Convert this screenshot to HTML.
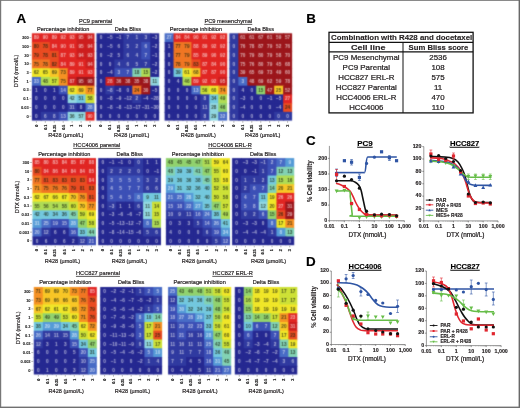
<!DOCTYPE html>
<html><head><meta charset="utf-8"><style>
html,body{margin:0;padding:0;background:#fff;}
svg{display:block;will-change:transform;}
svg text{font-family:"Liberation Sans", sans-serif;}
</style></head><body>
<svg width="520" height="408" viewBox="0 0 520 408">
<defs><filter id="tb" x="-5%" y="-5%" width="110%" height="110%"><feGaussianBlur stdDeviation="0.28"/></filter><filter id="gb" x="0" y="0" width="520" height="408" filterUnits="userSpaceOnUse" color-interpolation-filters="sRGB"><feConvolveMatrix order="3" kernelMatrix="0.062 0.249 0.062 0.249 1 0.249 0.062 0.249 0.062" divisor="2.244" edgeMode="none"/></filter></defs>
<rect width="520" height="408" fill="#fff"/>
<g filter="url(#gb)">
<rect x="31.90" y="33.30" width="9.94" height="9.73" fill="rgb(225,38,35)"/>
<rect x="40.84" y="33.30" width="9.94" height="9.73" fill="rgb(225,38,35)"/>
<rect x="49.79" y="33.30" width="9.94" height="9.73" fill="rgb(225,38,35)"/>
<rect x="58.73" y="33.30" width="9.94" height="9.73" fill="rgb(225,38,35)"/>
<rect x="67.67" y="33.30" width="9.94" height="9.73" fill="rgb(225,38,35)"/>
<rect x="76.61" y="33.30" width="9.94" height="9.73" fill="rgb(205,30,30)"/>
<rect x="85.56" y="33.30" width="8.94" height="9.73" fill="rgb(205,30,30)"/>
<rect x="31.90" y="42.03" width="9.94" height="9.73" fill="rgb(233,75,33)"/>
<rect x="40.84" y="42.03" width="9.94" height="9.73" fill="rgb(233,75,33)"/>
<rect x="49.79" y="42.03" width="9.94" height="9.73" fill="rgb(225,38,35)"/>
<rect x="58.73" y="42.03" width="9.94" height="9.73" fill="rgb(225,38,35)"/>
<rect x="67.67" y="42.03" width="9.94" height="9.73" fill="rgb(225,38,35)"/>
<rect x="76.61" y="42.03" width="9.94" height="9.73" fill="rgb(205,30,30)"/>
<rect x="85.56" y="42.03" width="8.94" height="9.73" fill="rgb(205,30,30)"/>
<rect x="31.90" y="50.76" width="9.94" height="9.73" fill="rgb(233,75,33)"/>
<rect x="40.84" y="50.76" width="9.94" height="9.73" fill="rgb(233,75,33)"/>
<rect x="49.79" y="50.76" width="9.94" height="9.73" fill="rgb(233,75,33)"/>
<rect x="58.73" y="50.76" width="9.94" height="9.73" fill="rgb(225,38,35)"/>
<rect x="67.67" y="50.76" width="9.94" height="9.73" fill="rgb(225,38,35)"/>
<rect x="76.61" y="50.76" width="9.94" height="9.73" fill="rgb(205,30,30)"/>
<rect x="85.56" y="50.76" width="8.94" height="9.73" fill="rgb(205,30,30)"/>
<rect x="31.90" y="59.49" width="9.94" height="9.73" fill="rgb(240,118,35)"/>
<rect x="40.84" y="59.49" width="9.94" height="9.73" fill="rgb(240,118,35)"/>
<rect x="49.79" y="59.49" width="9.94" height="9.73" fill="rgb(233,75,33)"/>
<rect x="58.73" y="59.49" width="9.94" height="9.73" fill="rgb(225,38,35)"/>
<rect x="67.67" y="59.49" width="9.94" height="9.73" fill="rgb(225,38,35)"/>
<rect x="76.61" y="59.49" width="9.94" height="9.73" fill="rgb(225,38,35)"/>
<rect x="85.56" y="59.49" width="8.94" height="9.73" fill="rgb(205,30,30)"/>
<rect x="31.90" y="68.22" width="9.94" height="9.73" fill="rgb(240,230,40)"/>
<rect x="40.84" y="68.22" width="9.94" height="9.73" fill="rgb(240,230,40)"/>
<rect x="49.79" y="68.22" width="9.94" height="9.73" fill="rgb(248,198,38)"/>
<rect x="58.73" y="68.22" width="9.94" height="9.73" fill="rgb(245,145,35)"/>
<rect x="67.67" y="68.22" width="9.94" height="9.73" fill="rgb(225,38,35)"/>
<rect x="76.61" y="68.22" width="9.94" height="9.73" fill="rgb(225,38,35)"/>
<rect x="85.56" y="68.22" width="8.94" height="9.73" fill="rgb(225,38,35)"/>
<rect x="31.90" y="76.95" width="9.94" height="9.73" fill="rgb(72,108,198)"/>
<rect x="40.84" y="76.95" width="9.94" height="9.73" fill="rgb(175,220,85)"/>
<rect x="49.79" y="76.95" width="9.94" height="9.73" fill="rgb(205,225,55)"/>
<rect x="58.73" y="76.95" width="9.94" height="9.73" fill="rgb(245,145,35)"/>
<rect x="67.67" y="76.95" width="9.94" height="9.73" fill="rgb(205,30,30)"/>
<rect x="76.61" y="76.95" width="9.94" height="9.73" fill="rgb(156,22,27)"/>
<rect x="85.56" y="76.95" width="8.94" height="9.73" fill="rgb(156,22,27)"/>
<rect x="31.90" y="85.68" width="9.94" height="9.73" fill="rgb(37,40,145)"/>
<rect x="40.84" y="85.68" width="9.94" height="9.73" fill="rgb(37,40,145)"/>
<rect x="49.79" y="85.68" width="9.94" height="9.73" fill="rgb(37,40,145)"/>
<rect x="58.73" y="85.68" width="9.94" height="9.73" fill="rgb(60,80,182)"/>
<rect x="67.67" y="85.68" width="9.94" height="9.73" fill="rgb(240,230,40)"/>
<rect x="76.61" y="85.68" width="9.94" height="9.73" fill="rgb(248,198,38)"/>
<rect x="85.56" y="85.68" width="8.94" height="9.73" fill="rgb(245,145,35)"/>
<rect x="31.90" y="94.41" width="9.94" height="9.73" fill="rgb(37,40,145)"/>
<rect x="40.84" y="94.41" width="9.94" height="9.73" fill="rgb(37,40,145)"/>
<rect x="49.79" y="94.41" width="9.94" height="9.73" fill="rgb(37,40,145)"/>
<rect x="58.73" y="94.41" width="9.94" height="9.73" fill="rgb(37,40,145)"/>
<rect x="67.67" y="94.41" width="9.94" height="9.73" fill="rgb(145,215,225)"/>
<rect x="76.61" y="94.41" width="9.94" height="9.73" fill="rgb(115,200,222)"/>
<rect x="85.56" y="94.41" width="8.94" height="9.73" fill="rgb(205,225,55)"/>
<rect x="31.90" y="103.14" width="9.94" height="9.73" fill="rgb(37,40,145)"/>
<rect x="40.84" y="103.14" width="9.94" height="9.73" fill="rgb(37,40,145)"/>
<rect x="49.79" y="103.14" width="9.94" height="9.73" fill="rgb(37,40,145)"/>
<rect x="58.73" y="103.14" width="9.94" height="9.73" fill="rgb(37,40,145)"/>
<rect x="67.67" y="103.14" width="9.94" height="9.73" fill="rgb(48,58,160)"/>
<rect x="76.61" y="103.14" width="9.94" height="9.73" fill="rgb(37,40,145)"/>
<rect x="85.56" y="103.14" width="8.94" height="9.73" fill="rgb(72,108,198)"/>
<rect x="31.90" y="111.87" width="9.94" height="8.73" fill="rgb(37,40,145)"/>
<rect x="40.84" y="111.87" width="9.94" height="8.73" fill="rgb(48,58,160)"/>
<rect x="49.79" y="111.87" width="9.94" height="8.73" fill="rgb(48,58,160)"/>
<rect x="58.73" y="111.87" width="9.94" height="8.73" fill="rgb(60,80,182)"/>
<rect x="67.67" y="111.87" width="9.94" height="8.73" fill="rgb(145,215,225)"/>
<rect x="76.61" y="111.87" width="9.94" height="8.73" fill="rgb(145,215,225)"/>
<rect x="85.56" y="111.87" width="8.94" height="8.73" fill="rgb(225,38,35)"/>
<g font-weight="bold">
<text x="36.37" y="39.37" font-size="4.7" text-anchor="middle" fill="rgba(255,255,255,0.62)">89</text>
<text x="45.31" y="39.37" font-size="4.7" text-anchor="middle" fill="rgba(255,255,255,0.62)">90</text>
<text x="54.26" y="39.37" font-size="4.7" text-anchor="middle" fill="rgba(255,255,255,0.62)">89</text>
<text x="63.20" y="39.37" font-size="4.7" text-anchor="middle" fill="rgba(255,255,255,0.62)">92</text>
<text x="72.14" y="39.37" font-size="4.7" text-anchor="middle" fill="rgba(255,255,255,0.62)">93</text>
<text x="81.09" y="39.37" font-size="4.7" text-anchor="middle" fill="rgba(255,255,255,0.62)">95</text>
<text x="90.03" y="39.37" font-size="4.7" text-anchor="middle" fill="rgba(255,255,255,0.62)">94</text>
<text x="36.37" y="48.09" font-size="4.7" text-anchor="middle" fill="rgba(25,35,15,0.78)">80</text>
<text x="45.31" y="48.09" font-size="4.7" text-anchor="middle" fill="rgba(25,35,15,0.78)">78</text>
<text x="54.26" y="48.09" font-size="4.7" text-anchor="middle" fill="rgba(255,255,255,0.62)">84</text>
<text x="63.20" y="48.09" font-size="4.7" text-anchor="middle" fill="rgba(255,255,255,0.62)">90</text>
<text x="72.14" y="48.09" font-size="4.7" text-anchor="middle" fill="rgba(255,255,255,0.62)">91</text>
<text x="81.09" y="48.09" font-size="4.7" text-anchor="middle" fill="rgba(255,255,255,0.62)">95</text>
<text x="90.03" y="48.09" font-size="4.7" text-anchor="middle" fill="rgba(255,255,255,0.62)">94</text>
<text x="36.37" y="56.83" font-size="4.7" text-anchor="middle" fill="rgba(25,35,15,0.78)">79</text>
<text x="45.31" y="56.83" font-size="4.7" text-anchor="middle" fill="rgba(25,35,15,0.78)">78</text>
<text x="54.26" y="56.83" font-size="4.7" text-anchor="middle" fill="rgba(25,35,15,0.78)">81</text>
<text x="63.20" y="56.83" font-size="4.7" text-anchor="middle" fill="rgba(255,255,255,0.62)">87</text>
<text x="72.14" y="56.83" font-size="4.7" text-anchor="middle" fill="rgba(255,255,255,0.62)">93</text>
<text x="81.09" y="56.83" font-size="4.7" text-anchor="middle" fill="rgba(255,255,255,0.62)">94</text>
<text x="90.03" y="56.83" font-size="4.7" text-anchor="middle" fill="rgba(255,255,255,0.62)">93</text>
<text x="36.37" y="65.55" font-size="4.7" text-anchor="middle" fill="rgba(25,35,15,0.78)">75</text>
<text x="45.31" y="65.55" font-size="4.7" text-anchor="middle" fill="rgba(25,35,15,0.78)">78</text>
<text x="54.26" y="65.55" font-size="4.7" text-anchor="middle" fill="rgba(25,35,15,0.78)">82</text>
<text x="63.20" y="65.55" font-size="4.7" text-anchor="middle" fill="rgba(255,255,255,0.62)">84</text>
<text x="72.14" y="65.55" font-size="4.7" text-anchor="middle" fill="rgba(255,255,255,0.62)">89</text>
<text x="81.09" y="65.55" font-size="4.7" text-anchor="middle" fill="rgba(255,255,255,0.62)">91</text>
<text x="90.03" y="65.55" font-size="4.7" text-anchor="middle" fill="rgba(255,255,255,0.62)">94</text>
<text x="36.37" y="74.29" font-size="4.7" text-anchor="middle" fill="rgba(25,35,15,0.78)">62</text>
<text x="45.31" y="74.29" font-size="4.7" text-anchor="middle" fill="rgba(25,35,15,0.78)">65</text>
<text x="54.26" y="74.29" font-size="4.7" text-anchor="middle" fill="rgba(25,35,15,0.78)">69</text>
<text x="63.20" y="74.29" font-size="4.7" text-anchor="middle" fill="rgba(25,35,15,0.78)">73</text>
<text x="72.14" y="74.29" font-size="4.7" text-anchor="middle" fill="rgba(255,255,255,0.62)">89</text>
<text x="81.09" y="74.29" font-size="4.7" text-anchor="middle" fill="rgba(255,255,255,0.62)">91</text>
<text x="90.03" y="74.29" font-size="4.7" text-anchor="middle" fill="rgba(255,255,255,0.62)">93</text>
<text x="36.37" y="83.02" font-size="4.7" text-anchor="middle" fill="rgba(255,255,255,0.62)">33</text>
<text x="45.31" y="83.02" font-size="4.7" text-anchor="middle" fill="rgba(25,35,15,0.78)">48</text>
<text x="54.26" y="83.02" font-size="4.7" text-anchor="middle" fill="rgba(25,35,15,0.78)">57</text>
<text x="63.20" y="83.02" font-size="4.7" text-anchor="middle" fill="rgba(25,35,15,0.78)">75</text>
<text x="72.14" y="83.02" font-size="4.7" text-anchor="middle" fill="rgba(255,255,255,0.62)">87</text>
<text x="81.09" y="83.02" font-size="4.7" text-anchor="middle" fill="rgba(255,255,255,0.62)">95</text>
<text x="90.03" y="83.02" font-size="4.7" text-anchor="middle" fill="rgba(255,255,255,0.62)">98</text>
<text x="36.37" y="91.75" font-size="4.7" text-anchor="middle" fill="rgba(255,255,255,0.62)">1</text>
<text x="45.31" y="91.75" font-size="4.7" text-anchor="middle" fill="rgba(255,255,255,0.62)">0</text>
<text x="54.26" y="91.75" font-size="4.7" text-anchor="middle" fill="rgba(255,255,255,0.62)">1</text>
<text x="63.20" y="91.75" font-size="4.7" text-anchor="middle" fill="rgba(255,255,255,0.62)">14</text>
<text x="72.14" y="91.75" font-size="4.7" text-anchor="middle" fill="rgba(25,35,15,0.78)">62</text>
<text x="81.09" y="91.75" font-size="4.7" text-anchor="middle" fill="rgba(25,35,15,0.78)">69</text>
<text x="90.03" y="91.75" font-size="4.7" text-anchor="middle" fill="rgba(25,35,15,0.78)">77</text>
<text x="36.37" y="100.48" font-size="4.7" text-anchor="middle" fill="rgba(255,255,255,0.62)">0</text>
<text x="45.31" y="100.48" font-size="4.7" text-anchor="middle" fill="rgba(255,255,255,0.62)">0</text>
<text x="54.26" y="100.48" font-size="4.7" text-anchor="middle" fill="rgba(255,255,255,0.62)">0</text>
<text x="63.20" y="100.48" font-size="4.7" text-anchor="middle" fill="rgba(255,255,255,0.62)">0</text>
<text x="72.14" y="100.48" font-size="4.7" text-anchor="middle" fill="rgba(25,35,15,0.78)">42</text>
<text x="81.09" y="100.48" font-size="4.7" text-anchor="middle" fill="rgba(25,35,15,0.78)">51</text>
<text x="90.03" y="100.48" font-size="4.7" text-anchor="middle" fill="rgba(25,35,15,0.78)">58</text>
<text x="36.37" y="109.20" font-size="4.7" text-anchor="middle" fill="rgba(255,255,255,0.62)">0</text>
<text x="45.31" y="109.20" font-size="4.7" text-anchor="middle" fill="rgba(255,255,255,0.62)">0</text>
<text x="54.26" y="109.20" font-size="4.7" text-anchor="middle" fill="rgba(255,255,255,0.62)">0</text>
<text x="63.20" y="109.20" font-size="4.7" text-anchor="middle" fill="rgba(255,255,255,0.62)">0</text>
<text x="72.14" y="109.20" font-size="4.7" text-anchor="middle" fill="rgba(255,255,255,0.62)">31</text>
<text x="81.09" y="109.20" font-size="4.7" text-anchor="middle" fill="rgba(255,255,255,0.62)">8</text>
<text x="90.03" y="109.20" font-size="4.7" text-anchor="middle" fill="rgba(255,255,255,0.62)">28</text>
<text x="36.37" y="117.94" font-size="4.7" text-anchor="middle" fill="rgba(255,255,255,0.62)">0</text>
<text x="45.31" y="117.94" font-size="4.7" text-anchor="middle" fill="rgba(255,255,255,0.62)">6</text>
<text x="54.26" y="117.94" font-size="4.7" text-anchor="middle" fill="rgba(255,255,255,0.62)">8</text>
<text x="63.20" y="117.94" font-size="4.7" text-anchor="middle" fill="rgba(255,255,255,0.62)">13</text>
<text x="72.14" y="117.94" font-size="4.7" text-anchor="middle" fill="rgba(25,35,15,0.78)">36</text>
<text x="81.09" y="117.94" font-size="4.7" text-anchor="middle" fill="rgba(25,35,15,0.78)">57</text>
<text x="90.03" y="117.94" font-size="4.7" text-anchor="middle" fill="rgba(255,255,255,0.62)">90</text>
</g>
</g>
<text x="63.20" y="31.00" font-size="5.60" text-anchor="middle" font-weight="normal" fill="#231f20" stroke="#231f20" stroke-width="0.18" >Percentage inhibition</text>
<line x1="36.37" y1="121.10" x2="36.37" y2="122.80" stroke="#555" stroke-width="0.4"/>
<text transform="translate(37.67,124.70) rotate(-90)" font-size="3.7" font-weight="bold" text-anchor="end" fill="#1a1a1a" stroke="#1a1a1a" stroke-width="0.15">0</text>
<line x1="45.31" y1="121.10" x2="45.31" y2="122.80" stroke="#555" stroke-width="0.4"/>
<text transform="translate(46.61,124.70) rotate(-90)" font-size="3.7" font-weight="bold" text-anchor="end" fill="#1a1a1a" stroke="#1a1a1a" stroke-width="0.15">0.1</text>
<line x1="54.26" y1="121.10" x2="54.26" y2="122.80" stroke="#555" stroke-width="0.4"/>
<text transform="translate(55.56,124.70) rotate(-90)" font-size="3.7" font-weight="bold" text-anchor="end" fill="#1a1a1a" stroke="#1a1a1a" stroke-width="0.15">0.25</text>
<line x1="63.20" y1="121.10" x2="63.20" y2="122.80" stroke="#555" stroke-width="0.4"/>
<text transform="translate(64.50,124.70) rotate(-90)" font-size="3.7" font-weight="bold" text-anchor="end" fill="#1a1a1a" stroke="#1a1a1a" stroke-width="0.15">0.5</text>
<line x1="72.14" y1="121.10" x2="72.14" y2="122.80" stroke="#555" stroke-width="0.4"/>
<text transform="translate(73.44,124.70) rotate(-90)" font-size="3.7" font-weight="bold" text-anchor="end" fill="#1a1a1a" stroke="#1a1a1a" stroke-width="0.15">1</text>
<line x1="81.09" y1="121.10" x2="81.09" y2="122.80" stroke="#555" stroke-width="0.4"/>
<text transform="translate(82.39,124.70) rotate(-90)" font-size="3.7" font-weight="bold" text-anchor="end" fill="#1a1a1a" stroke="#1a1a1a" stroke-width="0.15">2</text>
<line x1="90.03" y1="121.10" x2="90.03" y2="122.80" stroke="#555" stroke-width="0.4"/>
<text transform="translate(91.33,124.70) rotate(-90)" font-size="3.7" font-weight="bold" text-anchor="end" fill="#1a1a1a" stroke="#1a1a1a" stroke-width="0.15">3</text>
<text x="65.85" y="137.30" font-size="5.55" text-anchor="middle" font-weight="normal" fill="#231f20" stroke="#231f20" stroke-width="0.18" >R428 (&#181;mol/L)</text>
<g filter="url(#gb)">
<rect x="96.50" y="33.30" width="9.96" height="9.73" fill="rgb(37,40,145)"/>
<rect x="105.46" y="33.30" width="9.96" height="9.73" fill="rgb(37,40,145)"/>
<rect x="114.41" y="33.30" width="9.96" height="9.73" fill="rgb(37,40,145)"/>
<rect x="123.37" y="33.30" width="9.96" height="9.73" fill="rgb(48,58,160)"/>
<rect x="132.33" y="33.30" width="9.96" height="9.73" fill="rgb(48,58,160)"/>
<rect x="141.29" y="33.30" width="9.96" height="9.73" fill="rgb(48,58,160)"/>
<rect x="150.24" y="33.30" width="8.96" height="9.73" fill="rgb(37,40,145)"/>
<rect x="96.50" y="42.03" width="9.96" height="9.73" fill="rgb(37,40,145)"/>
<rect x="105.46" y="42.03" width="9.96" height="9.73" fill="rgb(37,40,145)"/>
<rect x="114.41" y="42.03" width="9.96" height="9.73" fill="rgb(37,40,145)"/>
<rect x="123.37" y="42.03" width="9.96" height="9.73" fill="rgb(48,58,160)"/>
<rect x="132.33" y="42.03" width="9.96" height="9.73" fill="rgb(48,58,160)"/>
<rect x="141.29" y="42.03" width="9.96" height="9.73" fill="rgb(60,80,182)"/>
<rect x="150.24" y="42.03" width="8.96" height="9.73" fill="rgb(37,40,145)"/>
<rect x="96.50" y="50.76" width="9.96" height="9.73" fill="rgb(37,40,145)"/>
<rect x="105.46" y="50.76" width="9.96" height="9.73" fill="rgb(37,40,145)"/>
<rect x="114.41" y="50.76" width="9.96" height="9.73" fill="rgb(37,40,145)"/>
<rect x="123.37" y="50.76" width="9.96" height="9.73" fill="rgb(48,58,160)"/>
<rect x="132.33" y="50.76" width="9.96" height="9.73" fill="rgb(48,58,160)"/>
<rect x="141.29" y="50.76" width="9.96" height="9.73" fill="rgb(60,80,182)"/>
<rect x="150.24" y="50.76" width="8.96" height="9.73" fill="rgb(37,40,145)"/>
<rect x="96.50" y="59.49" width="9.96" height="9.73" fill="rgb(37,40,145)"/>
<rect x="105.46" y="59.49" width="9.96" height="9.73" fill="rgb(37,40,145)"/>
<rect x="114.41" y="59.49" width="9.96" height="9.73" fill="rgb(48,58,160)"/>
<rect x="123.37" y="59.49" width="9.96" height="9.73" fill="rgb(48,58,160)"/>
<rect x="132.33" y="59.49" width="9.96" height="9.73" fill="rgb(48,58,160)"/>
<rect x="141.29" y="59.49" width="9.96" height="9.73" fill="rgb(48,58,160)"/>
<rect x="150.24" y="59.49" width="8.96" height="9.73" fill="rgb(37,40,145)"/>
<rect x="96.50" y="68.22" width="9.96" height="9.73" fill="rgb(37,40,145)"/>
<rect x="105.46" y="68.22" width="9.96" height="9.73" fill="rgb(37,40,145)"/>
<rect x="114.41" y="68.22" width="9.96" height="9.73" fill="rgb(60,80,182)"/>
<rect x="123.37" y="68.22" width="9.96" height="9.73" fill="rgb(60,80,182)"/>
<rect x="132.33" y="68.22" width="9.96" height="9.73" fill="rgb(130,210,180)"/>
<rect x="141.29" y="68.22" width="9.96" height="9.73" fill="rgb(175,220,85)"/>
<rect x="150.24" y="68.22" width="8.96" height="9.73" fill="rgb(37,40,145)"/>
<rect x="96.50" y="76.95" width="9.96" height="9.73" fill="rgb(37,40,145)"/>
<rect x="105.46" y="76.95" width="9.96" height="9.73" fill="rgb(205,30,30)"/>
<rect x="114.41" y="76.95" width="9.96" height="9.73" fill="rgb(156,22,27)"/>
<rect x="123.37" y="76.95" width="9.96" height="9.73" fill="rgb(156,22,27)"/>
<rect x="132.33" y="76.95" width="9.96" height="9.73" fill="rgb(156,22,27)"/>
<rect x="141.29" y="76.95" width="9.96" height="9.73" fill="rgb(156,22,27)"/>
<rect x="150.24" y="76.95" width="8.96" height="9.73" fill="rgb(145,215,225)"/>
<rect x="96.50" y="85.68" width="9.96" height="9.73" fill="rgb(37,40,145)"/>
<rect x="105.46" y="85.68" width="9.96" height="9.73" fill="rgb(48,58,160)"/>
<rect x="114.41" y="85.68" width="9.96" height="9.73" fill="rgb(37,40,145)"/>
<rect x="123.37" y="85.68" width="9.96" height="9.73" fill="rgb(37,40,145)"/>
<rect x="132.33" y="85.68" width="9.96" height="9.73" fill="rgb(240,118,35)"/>
<rect x="141.29" y="85.68" width="9.96" height="9.73" fill="rgb(156,22,27)"/>
<rect x="150.24" y="85.68" width="8.96" height="9.73" fill="rgb(37,40,145)"/>
<rect x="96.50" y="94.41" width="9.96" height="9.73" fill="rgb(37,40,145)"/>
<rect x="105.46" y="94.41" width="9.96" height="9.73" fill="rgb(37,40,145)"/>
<rect x="114.41" y="94.41" width="9.96" height="9.73" fill="rgb(37,40,145)"/>
<rect x="123.37" y="94.41" width="9.96" height="9.73" fill="rgb(37,40,145)"/>
<rect x="132.33" y="94.41" width="9.96" height="9.73" fill="rgb(48,58,160)"/>
<rect x="141.29" y="94.41" width="9.96" height="9.73" fill="rgb(37,40,145)"/>
<rect x="150.24" y="94.41" width="8.96" height="9.73" fill="rgb(37,40,145)"/>
<rect x="96.50" y="103.14" width="9.96" height="9.73" fill="rgb(37,40,145)"/>
<rect x="105.46" y="103.14" width="9.96" height="9.73" fill="rgb(37,40,145)"/>
<rect x="114.41" y="103.14" width="9.96" height="9.73" fill="rgb(37,40,145)"/>
<rect x="123.37" y="103.14" width="9.96" height="9.73" fill="rgb(37,40,145)"/>
<rect x="132.33" y="103.14" width="9.96" height="9.73" fill="rgb(37,40,145)"/>
<rect x="141.29" y="103.14" width="9.96" height="9.73" fill="rgb(37,40,145)"/>
<rect x="150.24" y="103.14" width="8.96" height="9.73" fill="rgb(37,40,145)"/>
<rect x="96.50" y="111.87" width="9.96" height="8.73" fill="rgb(37,40,145)"/>
<rect x="105.46" y="111.87" width="9.96" height="8.73" fill="rgb(37,40,145)"/>
<rect x="114.41" y="111.87" width="9.96" height="8.73" fill="rgb(37,40,145)"/>
<rect x="123.37" y="111.87" width="9.96" height="8.73" fill="rgb(37,40,145)"/>
<rect x="132.33" y="111.87" width="9.96" height="8.73" fill="rgb(37,40,145)"/>
<rect x="141.29" y="111.87" width="9.96" height="8.73" fill="rgb(37,40,145)"/>
<rect x="150.24" y="111.87" width="8.96" height="8.73" fill="rgb(37,40,145)"/>
<g font-weight="bold">
<text x="100.98" y="39.37" font-size="4.7" text-anchor="middle" fill="rgba(255,255,255,0.62)">0</text>
<text x="109.94" y="39.37" font-size="4.7" text-anchor="middle" fill="rgba(255,255,255,0.62)">&#8211;5</text>
<text x="118.89" y="39.37" font-size="4.7" text-anchor="middle" fill="rgba(255,255,255,0.62)">&#8211;1</text>
<text x="127.85" y="39.37" font-size="4.7" text-anchor="middle" fill="rgba(255,255,255,0.62)">7</text>
<text x="136.81" y="39.37" font-size="4.7" text-anchor="middle" fill="rgba(255,255,255,0.62)">1</text>
<text x="145.76" y="39.37" font-size="4.7" text-anchor="middle" fill="rgba(255,255,255,0.62)">3</text>
<text x="154.72" y="39.37" font-size="4.7" text-anchor="middle" fill="rgba(255,255,255,0.62)">&#8211;3</text>
<text x="100.98" y="48.09" font-size="4.7" text-anchor="middle" fill="rgba(255,255,255,0.62)">0</text>
<text x="109.94" y="48.09" font-size="4.7" text-anchor="middle" fill="rgba(255,255,255,0.62)">&#8211;5</text>
<text x="118.89" y="48.09" font-size="4.7" text-anchor="middle" fill="rgba(255,255,255,0.62)">6</text>
<text x="127.85" y="48.09" font-size="4.7" text-anchor="middle" fill="rgba(255,255,255,0.62)">5</text>
<text x="136.81" y="48.09" font-size="4.7" text-anchor="middle" fill="rgba(255,255,255,0.62)">2</text>
<text x="145.76" y="48.09" font-size="4.7" text-anchor="middle" fill="rgba(255,255,255,0.62)">6</text>
<text x="154.72" y="48.09" font-size="4.7" text-anchor="middle" fill="rgba(255,255,255,0.62)">&#8211;2</text>
<text x="100.98" y="56.83" font-size="4.7" text-anchor="middle" fill="rgba(255,255,255,0.62)">0</text>
<text x="109.94" y="56.83" font-size="4.7" text-anchor="middle" fill="rgba(255,255,255,0.62)">&#8211;2</text>
<text x="118.89" y="56.83" font-size="4.7" text-anchor="middle" fill="rgba(255,255,255,0.62)">5</text>
<text x="127.85" y="56.83" font-size="4.7" text-anchor="middle" fill="rgba(255,255,255,0.62)">6</text>
<text x="136.81" y="56.83" font-size="4.7" text-anchor="middle" fill="rgba(255,255,255,0.62)">4</text>
<text x="145.76" y="56.83" font-size="4.7" text-anchor="middle" fill="rgba(255,255,255,0.62)">7</text>
<text x="154.72" y="56.83" font-size="4.7" text-anchor="middle" fill="rgba(255,255,255,0.62)">&#8211;1</text>
<text x="100.98" y="65.55" font-size="4.7" text-anchor="middle" fill="rgba(255,255,255,0.62)">0</text>
<text x="109.94" y="65.55" font-size="4.7" text-anchor="middle" fill="rgba(255,255,255,0.62)">0</text>
<text x="118.89" y="65.55" font-size="4.7" text-anchor="middle" fill="rgba(255,255,255,0.62)">4</text>
<text x="127.85" y="65.55" font-size="4.7" text-anchor="middle" fill="rgba(255,255,255,0.62)">6</text>
<text x="136.81" y="65.55" font-size="4.7" text-anchor="middle" fill="rgba(255,255,255,0.62)">5</text>
<text x="145.76" y="65.55" font-size="4.7" text-anchor="middle" fill="rgba(255,255,255,0.62)">7</text>
<text x="154.72" y="65.55" font-size="4.7" text-anchor="middle" fill="rgba(255,255,255,0.62)">&#8211;2</text>
<text x="100.98" y="74.29" font-size="4.7" text-anchor="middle" fill="rgba(255,255,255,0.62)">0</text>
<text x="109.94" y="74.29" font-size="4.7" text-anchor="middle" fill="rgba(255,255,255,0.62)">&#8211;4</text>
<text x="118.89" y="74.29" font-size="4.7" text-anchor="middle" fill="rgba(255,255,255,0.62)">3</text>
<text x="127.85" y="74.29" font-size="4.7" text-anchor="middle" fill="rgba(255,255,255,0.62)">7</text>
<text x="136.81" y="74.29" font-size="4.7" text-anchor="middle" fill="rgba(25,35,15,0.78)">18</text>
<text x="145.76" y="74.29" font-size="4.7" text-anchor="middle" fill="rgba(25,35,15,0.78)">15</text>
<text x="154.72" y="74.29" font-size="4.7" text-anchor="middle" fill="rgba(255,255,255,0.62)">&#8211;2</text>
<text x="100.98" y="83.02" font-size="4.7" text-anchor="middle" fill="rgba(255,255,255,0.62)">0</text>
<text x="109.94" y="83.02" font-size="4.7" text-anchor="middle" fill="rgba(255,255,255,0.62)">28</text>
<text x="118.89" y="83.02" font-size="4.7" text-anchor="middle" fill="rgba(255,255,255,0.62)">36</text>
<text x="127.85" y="83.02" font-size="4.7" text-anchor="middle" fill="rgba(255,255,255,0.62)">38</text>
<text x="136.81" y="83.02" font-size="4.7" text-anchor="middle" fill="rgba(255,255,255,0.62)">35</text>
<text x="145.76" y="83.02" font-size="4.7" text-anchor="middle" fill="rgba(255,255,255,0.62)">38</text>
<text x="154.72" y="83.02" font-size="4.7" text-anchor="middle" fill="rgba(25,35,15,0.78)">11</text>
<text x="100.98" y="91.75" font-size="4.7" text-anchor="middle" fill="rgba(255,255,255,0.62)">0</text>
<text x="109.94" y="91.75" font-size="4.7" text-anchor="middle" fill="rgba(255,255,255,0.62)">&#8211;8</text>
<text x="118.89" y="91.75" font-size="4.7" text-anchor="middle" fill="rgba(255,255,255,0.62)">&#8211;8</text>
<text x="127.85" y="91.75" font-size="4.7" text-anchor="middle" fill="rgba(255,255,255,0.62)">0</text>
<text x="136.81" y="91.75" font-size="4.7" text-anchor="middle" fill="rgba(25,35,15,0.78)">24</text>
<text x="145.76" y="91.75" font-size="4.7" text-anchor="middle" fill="rgba(255,255,255,0.62)">30</text>
<text x="154.72" y="91.75" font-size="4.7" text-anchor="middle" fill="rgba(255,255,255,0.62)">&#8211;5</text>
<text x="100.98" y="100.48" font-size="4.7" text-anchor="middle" fill="rgba(255,255,255,0.62)">0</text>
<text x="109.94" y="100.48" font-size="4.7" text-anchor="middle" fill="rgba(255,255,255,0.62)">&#8211;8</text>
<text x="118.89" y="100.48" font-size="4.7" text-anchor="middle" fill="rgba(255,255,255,0.62)">&#8211;9</text>
<text x="127.85" y="100.48" font-size="4.7" text-anchor="middle" fill="rgba(255,255,255,0.62)">&#8211;12</text>
<text x="136.81" y="100.48" font-size="4.7" text-anchor="middle" fill="rgba(255,255,255,0.62)">2</text>
<text x="145.76" y="100.48" font-size="4.7" text-anchor="middle" fill="rgba(255,255,255,0.62)">&#8211;4</text>
<text x="154.72" y="100.48" font-size="4.7" text-anchor="middle" fill="rgba(255,255,255,0.62)">&#8211;28</text>
<text x="100.98" y="109.20" font-size="4.7" text-anchor="middle" fill="rgba(255,255,255,0.62)">0</text>
<text x="109.94" y="109.20" font-size="4.7" text-anchor="middle" fill="rgba(255,255,255,0.62)">&#8211;8</text>
<text x="118.89" y="109.20" font-size="4.7" text-anchor="middle" fill="rgba(255,255,255,0.62)">&#8211;8</text>
<text x="127.85" y="109.20" font-size="4.7" text-anchor="middle" fill="rgba(255,255,255,0.62)">&#8211;13</text>
<text x="136.81" y="109.20" font-size="4.7" text-anchor="middle" fill="rgba(255,255,255,0.62)">&#8211;17</text>
<text x="145.76" y="109.20" font-size="4.7" text-anchor="middle" fill="rgba(255,255,255,0.62)">&#8211;31</text>
<text x="154.72" y="109.20" font-size="4.7" text-anchor="middle" fill="rgba(255,255,255,0.62)">&#8211;30</text>
<text x="100.98" y="117.94" font-size="4.7" text-anchor="middle" fill="rgba(255,255,255,0.62)">0</text>
<text x="109.94" y="117.94" font-size="4.7" text-anchor="middle" fill="rgba(255,255,255,0.62)">0</text>
<text x="118.89" y="117.94" font-size="4.7" text-anchor="middle" fill="rgba(255,255,255,0.62)">0</text>
<text x="127.85" y="117.94" font-size="4.7" text-anchor="middle" fill="rgba(255,255,255,0.62)">0</text>
<text x="136.81" y="117.94" font-size="4.7" text-anchor="middle" fill="rgba(255,255,255,0.62)">0</text>
<text x="145.76" y="117.94" font-size="4.7" text-anchor="middle" fill="rgba(255,255,255,0.62)">0</text>
<text x="154.72" y="117.94" font-size="4.7" text-anchor="middle" fill="rgba(255,255,255,0.62)">0</text>
</g>
</g>
<text x="127.85" y="31.00" font-size="5.60" text-anchor="middle" font-weight="normal" fill="#231f20" stroke="#231f20" stroke-width="0.18" >Delta Bliss</text>
<line x1="100.98" y1="121.10" x2="100.98" y2="122.80" stroke="#555" stroke-width="0.4"/>
<text transform="translate(102.28,124.70) rotate(-90)" font-size="3.7" font-weight="bold" text-anchor="end" fill="#1a1a1a" stroke="#1a1a1a" stroke-width="0.15">0</text>
<line x1="109.94" y1="121.10" x2="109.94" y2="122.80" stroke="#555" stroke-width="0.4"/>
<text transform="translate(111.24,124.70) rotate(-90)" font-size="3.7" font-weight="bold" text-anchor="end" fill="#1a1a1a" stroke="#1a1a1a" stroke-width="0.15">0.1</text>
<line x1="118.89" y1="121.10" x2="118.89" y2="122.80" stroke="#555" stroke-width="0.4"/>
<text transform="translate(120.19,124.70) rotate(-90)" font-size="3.7" font-weight="bold" text-anchor="end" fill="#1a1a1a" stroke="#1a1a1a" stroke-width="0.15">0.25</text>
<line x1="127.85" y1="121.10" x2="127.85" y2="122.80" stroke="#555" stroke-width="0.4"/>
<text transform="translate(129.15,124.70) rotate(-90)" font-size="3.7" font-weight="bold" text-anchor="end" fill="#1a1a1a" stroke="#1a1a1a" stroke-width="0.15">0.5</text>
<line x1="136.81" y1="121.10" x2="136.81" y2="122.80" stroke="#555" stroke-width="0.4"/>
<text transform="translate(138.11,124.70) rotate(-90)" font-size="3.7" font-weight="bold" text-anchor="end" fill="#1a1a1a" stroke="#1a1a1a" stroke-width="0.15">1</text>
<line x1="145.76" y1="121.10" x2="145.76" y2="122.80" stroke="#555" stroke-width="0.4"/>
<text transform="translate(147.06,124.70) rotate(-90)" font-size="3.7" font-weight="bold" text-anchor="end" fill="#1a1a1a" stroke="#1a1a1a" stroke-width="0.15">2</text>
<line x1="154.72" y1="121.10" x2="154.72" y2="122.80" stroke="#555" stroke-width="0.4"/>
<text transform="translate(156.02,124.70) rotate(-90)" font-size="3.7" font-weight="bold" text-anchor="end" fill="#1a1a1a" stroke="#1a1a1a" stroke-width="0.15">3</text>
<text x="131.70" y="137.30" font-size="5.55" text-anchor="middle" font-weight="normal" fill="#231f20" stroke="#231f20" stroke-width="0.18" >R428 (&#181;mol/L)</text>
<g filter="url(#gb)">
<rect x="164.60" y="33.30" width="9.94" height="9.73" fill="rgb(72,108,198)"/>
<rect x="173.54" y="33.30" width="9.94" height="9.73" fill="rgb(225,38,35)"/>
<rect x="182.49" y="33.30" width="9.94" height="9.73" fill="rgb(225,38,35)"/>
<rect x="191.43" y="33.30" width="9.94" height="9.73" fill="rgb(225,38,35)"/>
<rect x="200.37" y="33.30" width="9.94" height="9.73" fill="rgb(225,38,35)"/>
<rect x="209.31" y="33.30" width="9.94" height="9.73" fill="rgb(225,38,35)"/>
<rect x="218.26" y="33.30" width="8.94" height="9.73" fill="rgb(225,38,35)"/>
<rect x="164.60" y="42.03" width="9.94" height="9.73" fill="rgb(37,40,145)"/>
<rect x="173.54" y="42.03" width="9.94" height="9.73" fill="rgb(240,118,35)"/>
<rect x="182.49" y="42.03" width="9.94" height="9.73" fill="rgb(240,118,35)"/>
<rect x="191.43" y="42.03" width="9.94" height="9.73" fill="rgb(225,38,35)"/>
<rect x="200.37" y="42.03" width="9.94" height="9.73" fill="rgb(225,38,35)"/>
<rect x="209.31" y="42.03" width="9.94" height="9.73" fill="rgb(225,38,35)"/>
<rect x="218.26" y="42.03" width="8.94" height="9.73" fill="rgb(225,38,35)"/>
<rect x="164.60" y="50.76" width="9.94" height="9.73" fill="rgb(37,40,145)"/>
<rect x="173.54" y="50.76" width="9.94" height="9.73" fill="rgb(240,118,35)"/>
<rect x="182.49" y="50.76" width="9.94" height="9.73" fill="rgb(240,118,35)"/>
<rect x="191.43" y="50.76" width="9.94" height="9.73" fill="rgb(225,38,35)"/>
<rect x="200.37" y="50.76" width="9.94" height="9.73" fill="rgb(225,38,35)"/>
<rect x="209.31" y="50.76" width="9.94" height="9.73" fill="rgb(225,38,35)"/>
<rect x="218.26" y="50.76" width="8.94" height="9.73" fill="rgb(225,38,35)"/>
<rect x="164.60" y="59.49" width="9.94" height="9.73" fill="rgb(37,40,145)"/>
<rect x="173.54" y="59.49" width="9.94" height="9.73" fill="rgb(240,118,35)"/>
<rect x="182.49" y="59.49" width="9.94" height="9.73" fill="rgb(240,118,35)"/>
<rect x="191.43" y="59.49" width="9.94" height="9.73" fill="rgb(233,75,33)"/>
<rect x="200.37" y="59.49" width="9.94" height="9.73" fill="rgb(225,38,35)"/>
<rect x="209.31" y="59.49" width="9.94" height="9.73" fill="rgb(225,38,35)"/>
<rect x="218.26" y="59.49" width="8.94" height="9.73" fill="rgb(225,38,35)"/>
<rect x="164.60" y="68.22" width="9.94" height="9.73" fill="rgb(37,40,145)"/>
<rect x="173.54" y="68.22" width="9.94" height="9.73" fill="rgb(115,200,222)"/>
<rect x="182.49" y="68.22" width="9.94" height="9.73" fill="rgb(240,230,40)"/>
<rect x="191.43" y="68.22" width="9.94" height="9.73" fill="rgb(248,198,38)"/>
<rect x="200.37" y="68.22" width="9.94" height="9.73" fill="rgb(225,38,35)"/>
<rect x="209.31" y="68.22" width="9.94" height="9.73" fill="rgb(225,38,35)"/>
<rect x="218.26" y="68.22" width="8.94" height="9.73" fill="rgb(225,38,35)"/>
<rect x="164.60" y="76.95" width="9.94" height="9.73" fill="rgb(37,40,145)"/>
<rect x="173.54" y="76.95" width="9.94" height="9.73" fill="rgb(37,40,145)"/>
<rect x="182.49" y="76.95" width="9.94" height="9.73" fill="rgb(175,220,85)"/>
<rect x="191.43" y="76.95" width="9.94" height="9.73" fill="rgb(225,38,35)"/>
<rect x="200.37" y="76.95" width="9.94" height="9.73" fill="rgb(225,38,35)"/>
<rect x="209.31" y="76.95" width="9.94" height="9.73" fill="rgb(225,38,35)"/>
<rect x="218.26" y="76.95" width="8.94" height="9.73" fill="rgb(205,30,30)"/>
<rect x="164.60" y="85.68" width="9.94" height="9.73" fill="rgb(37,40,145)"/>
<rect x="173.54" y="85.68" width="9.94" height="9.73" fill="rgb(37,40,145)"/>
<rect x="182.49" y="85.68" width="9.94" height="9.73" fill="rgb(37,40,145)"/>
<rect x="191.43" y="85.68" width="9.94" height="9.73" fill="rgb(72,108,198)"/>
<rect x="200.37" y="85.68" width="9.94" height="9.73" fill="rgb(205,225,55)"/>
<rect x="209.31" y="85.68" width="9.94" height="9.73" fill="rgb(240,230,40)"/>
<rect x="218.26" y="85.68" width="8.94" height="9.73" fill="rgb(245,145,35)"/>
<rect x="164.60" y="94.41" width="9.94" height="9.73" fill="rgb(37,40,145)"/>
<rect x="173.54" y="94.41" width="9.94" height="9.73" fill="rgb(37,40,145)"/>
<rect x="182.49" y="94.41" width="9.94" height="9.73" fill="rgb(37,40,145)"/>
<rect x="191.43" y="94.41" width="9.94" height="9.73" fill="rgb(37,40,145)"/>
<rect x="200.37" y="94.41" width="9.94" height="9.73" fill="rgb(48,58,160)"/>
<rect x="209.31" y="94.41" width="9.94" height="9.73" fill="rgb(115,200,222)"/>
<rect x="218.26" y="94.41" width="8.94" height="9.73" fill="rgb(175,220,85)"/>
<rect x="164.60" y="103.14" width="9.94" height="9.73" fill="rgb(37,40,145)"/>
<rect x="173.54" y="103.14" width="9.94" height="9.73" fill="rgb(37,40,145)"/>
<rect x="182.49" y="103.14" width="9.94" height="9.73" fill="rgb(37,40,145)"/>
<rect x="191.43" y="103.14" width="9.94" height="9.73" fill="rgb(37,40,145)"/>
<rect x="200.37" y="103.14" width="9.94" height="9.73" fill="rgb(48,58,160)"/>
<rect x="209.31" y="103.14" width="9.94" height="9.73" fill="rgb(145,215,225)"/>
<rect x="218.26" y="103.14" width="8.94" height="9.73" fill="rgb(145,210,110)"/>
<rect x="164.60" y="111.87" width="9.94" height="8.73" fill="rgb(37,40,145)"/>
<rect x="173.54" y="111.87" width="9.94" height="8.73" fill="rgb(37,40,145)"/>
<rect x="182.49" y="111.87" width="9.94" height="8.73" fill="rgb(37,40,145)"/>
<rect x="191.43" y="111.87" width="9.94" height="8.73" fill="rgb(37,40,145)"/>
<rect x="200.37" y="111.87" width="9.94" height="8.73" fill="rgb(48,58,160)"/>
<rect x="209.31" y="111.87" width="9.94" height="8.73" fill="rgb(145,215,225)"/>
<rect x="218.26" y="111.87" width="8.94" height="8.73" fill="rgb(72,108,198)"/>
<g font-weight="bold">
<text x="169.07" y="39.37" font-size="4.7" text-anchor="middle" fill="rgba(255,255,255,0.62)">27</text>
<text x="178.01" y="39.37" font-size="4.7" text-anchor="middle" fill="rgba(255,255,255,0.62)">84</text>
<text x="186.96" y="39.37" font-size="4.7" text-anchor="middle" fill="rgba(255,255,255,0.62)">84</text>
<text x="195.90" y="39.37" font-size="4.7" text-anchor="middle" fill="rgba(255,255,255,0.62)">90</text>
<text x="204.84" y="39.37" font-size="4.7" text-anchor="middle" fill="rgba(255,255,255,0.62)">91</text>
<text x="213.79" y="39.37" font-size="4.7" text-anchor="middle" fill="rgba(255,255,255,0.62)">92</text>
<text x="222.73" y="39.37" font-size="4.7" text-anchor="middle" fill="rgba(255,255,255,0.62)">92</text>
<text x="169.07" y="48.09" font-size="4.7" text-anchor="middle" fill="rgba(255,255,255,0.62)">1</text>
<text x="178.01" y="48.09" font-size="4.7" text-anchor="middle" fill="rgba(25,35,15,0.78)">77</text>
<text x="186.96" y="48.09" font-size="4.7" text-anchor="middle" fill="rgba(25,35,15,0.78)">79</text>
<text x="195.90" y="48.09" font-size="4.7" text-anchor="middle" fill="rgba(255,255,255,0.62)">88</text>
<text x="204.84" y="48.09" font-size="4.7" text-anchor="middle" fill="rgba(255,255,255,0.62)">89</text>
<text x="213.79" y="48.09" font-size="4.7" text-anchor="middle" fill="rgba(255,255,255,0.62)">92</text>
<text x="222.73" y="48.09" font-size="4.7" text-anchor="middle" fill="rgba(255,255,255,0.62)">92</text>
<text x="169.07" y="56.83" font-size="4.7" text-anchor="middle" fill="rgba(255,255,255,0.62)">0</text>
<text x="178.01" y="56.83" font-size="4.7" text-anchor="middle" fill="rgba(25,35,15,0.78)">77</text>
<text x="186.96" y="56.83" font-size="4.7" text-anchor="middle" fill="rgba(25,35,15,0.78)">79</text>
<text x="195.90" y="56.83" font-size="4.7" text-anchor="middle" fill="rgba(255,255,255,0.62)">85</text>
<text x="204.84" y="56.83" font-size="4.7" text-anchor="middle" fill="rgba(255,255,255,0.62)">89</text>
<text x="213.79" y="56.83" font-size="4.7" text-anchor="middle" fill="rgba(255,255,255,0.62)">90</text>
<text x="222.73" y="56.83" font-size="4.7" text-anchor="middle" fill="rgba(255,255,255,0.62)">92</text>
<text x="169.07" y="65.55" font-size="4.7" text-anchor="middle" fill="rgba(255,255,255,0.62)">0</text>
<text x="178.01" y="65.55" font-size="4.7" text-anchor="middle" fill="rgba(25,35,15,0.78)">78</text>
<text x="186.96" y="65.55" font-size="4.7" text-anchor="middle" fill="rgba(25,35,15,0.78)">79</text>
<text x="195.90" y="65.55" font-size="4.7" text-anchor="middle" fill="rgba(25,35,15,0.78)">83</text>
<text x="204.84" y="65.55" font-size="4.7" text-anchor="middle" fill="rgba(255,255,255,0.62)">87</text>
<text x="213.79" y="65.55" font-size="4.7" text-anchor="middle" fill="rgba(255,255,255,0.62)">84</text>
<text x="222.73" y="65.55" font-size="4.7" text-anchor="middle" fill="rgba(255,255,255,0.62)">90</text>
<text x="169.07" y="74.29" font-size="4.7" text-anchor="middle" fill="rgba(255,255,255,0.62)">0</text>
<text x="178.01" y="74.29" font-size="4.7" text-anchor="middle" fill="rgba(25,35,15,0.78)">39</text>
<text x="186.96" y="74.29" font-size="4.7" text-anchor="middle" fill="rgba(25,35,15,0.78)">61</text>
<text x="195.90" y="74.29" font-size="4.7" text-anchor="middle" fill="rgba(25,35,15,0.78)">68</text>
<text x="204.84" y="74.29" font-size="4.7" text-anchor="middle" fill="rgba(255,255,255,0.62)">87</text>
<text x="213.79" y="74.29" font-size="4.7" text-anchor="middle" fill="rgba(255,255,255,0.62)">87</text>
<text x="222.73" y="74.29" font-size="4.7" text-anchor="middle" fill="rgba(255,255,255,0.62)">90</text>
<text x="169.07" y="83.02" font-size="4.7" text-anchor="middle" fill="rgba(255,255,255,0.62)">0</text>
<text x="178.01" y="83.02" font-size="4.7" text-anchor="middle" fill="rgba(255,255,255,0.62)">4</text>
<text x="186.96" y="83.02" font-size="4.7" text-anchor="middle" fill="rgba(25,35,15,0.78)">46</text>
<text x="195.90" y="83.02" font-size="4.7" text-anchor="middle" fill="rgba(255,255,255,0.62)">89</text>
<text x="204.84" y="83.02" font-size="4.7" text-anchor="middle" fill="rgba(255,255,255,0.62)">92</text>
<text x="213.79" y="83.02" font-size="4.7" text-anchor="middle" fill="rgba(255,255,255,0.62)">92</text>
<text x="222.73" y="83.02" font-size="4.7" text-anchor="middle" fill="rgba(255,255,255,0.62)">95</text>
<text x="169.07" y="91.75" font-size="4.7" text-anchor="middle" fill="rgba(255,255,255,0.62)">0</text>
<text x="178.01" y="91.75" font-size="4.7" text-anchor="middle" fill="rgba(255,255,255,0.62)">0</text>
<text x="186.96" y="91.75" font-size="4.7" text-anchor="middle" fill="rgba(255,255,255,0.62)">0</text>
<text x="195.90" y="91.75" font-size="4.7" text-anchor="middle" fill="rgba(255,255,255,0.62)">13</text>
<text x="204.84" y="91.75" font-size="4.7" text-anchor="middle" fill="rgba(25,35,15,0.78)">56</text>
<text x="213.79" y="91.75" font-size="4.7" text-anchor="middle" fill="rgba(25,35,15,0.78)">60</text>
<text x="222.73" y="91.75" font-size="4.7" text-anchor="middle" fill="rgba(25,35,15,0.78)">74</text>
<text x="169.07" y="100.48" font-size="4.7" text-anchor="middle" fill="rgba(255,255,255,0.62)">0</text>
<text x="178.01" y="100.48" font-size="4.7" text-anchor="middle" fill="rgba(255,255,255,0.62)">0</text>
<text x="186.96" y="100.48" font-size="4.7" text-anchor="middle" fill="rgba(255,255,255,0.62)">0</text>
<text x="195.90" y="100.48" font-size="4.7" text-anchor="middle" fill="rgba(255,255,255,0.62)">0</text>
<text x="204.84" y="100.48" font-size="4.7" text-anchor="middle" fill="rgba(255,255,255,0.62)">8</text>
<text x="213.79" y="100.48" font-size="4.7" text-anchor="middle" fill="rgba(25,35,15,0.78)">34</text>
<text x="222.73" y="100.48" font-size="4.7" text-anchor="middle" fill="rgba(25,35,15,0.78)">49</text>
<text x="169.07" y="109.20" font-size="4.7" text-anchor="middle" fill="rgba(255,255,255,0.62)">0</text>
<text x="178.01" y="109.20" font-size="4.7" text-anchor="middle" fill="rgba(255,255,255,0.62)">0</text>
<text x="186.96" y="109.20" font-size="4.7" text-anchor="middle" fill="rgba(255,255,255,0.62)">0</text>
<text x="195.90" y="109.20" font-size="4.7" text-anchor="middle" fill="rgba(255,255,255,0.62)">0</text>
<text x="204.84" y="109.20" font-size="4.7" text-anchor="middle" fill="rgba(255,255,255,0.62)">11</text>
<text x="213.79" y="109.20" font-size="4.7" text-anchor="middle" fill="rgba(25,35,15,0.78)">28</text>
<text x="222.73" y="109.20" font-size="4.7" text-anchor="middle" fill="rgba(25,35,15,0.78)">46</text>
<text x="169.07" y="117.94" font-size="4.7" text-anchor="middle" fill="rgba(255,255,255,0.62)">0</text>
<text x="178.01" y="117.94" font-size="4.7" text-anchor="middle" fill="rgba(255,255,255,0.62)">0</text>
<text x="186.96" y="117.94" font-size="4.7" text-anchor="middle" fill="rgba(255,255,255,0.62)">0</text>
<text x="195.90" y="117.94" font-size="4.7" text-anchor="middle" fill="rgba(255,255,255,0.62)">0</text>
<text x="204.84" y="117.94" font-size="4.7" text-anchor="middle" fill="rgba(255,255,255,0.62)">8</text>
<text x="213.79" y="117.94" font-size="4.7" text-anchor="middle" fill="rgba(25,35,15,0.78)">29</text>
<text x="222.73" y="117.94" font-size="4.7" text-anchor="middle" fill="rgba(255,255,255,0.62)">32</text>
</g>
</g>
<text x="195.90" y="31.00" font-size="5.60" text-anchor="middle" font-weight="normal" fill="#231f20" stroke="#231f20" stroke-width="0.18" >Percentage inhibition</text>
<line x1="169.07" y1="121.10" x2="169.07" y2="122.80" stroke="#555" stroke-width="0.4"/>
<text transform="translate(170.37,124.70) rotate(-90)" font-size="3.7" font-weight="bold" text-anchor="end" fill="#1a1a1a" stroke="#1a1a1a" stroke-width="0.15">0</text>
<line x1="178.01" y1="121.10" x2="178.01" y2="122.80" stroke="#555" stroke-width="0.4"/>
<text transform="translate(179.31,124.70) rotate(-90)" font-size="3.7" font-weight="bold" text-anchor="end" fill="#1a1a1a" stroke="#1a1a1a" stroke-width="0.15">0.1</text>
<line x1="186.96" y1="121.10" x2="186.96" y2="122.80" stroke="#555" stroke-width="0.4"/>
<text transform="translate(188.26,124.70) rotate(-90)" font-size="3.7" font-weight="bold" text-anchor="end" fill="#1a1a1a" stroke="#1a1a1a" stroke-width="0.15">0.25</text>
<line x1="195.90" y1="121.10" x2="195.90" y2="122.80" stroke="#555" stroke-width="0.4"/>
<text transform="translate(197.20,124.70) rotate(-90)" font-size="3.7" font-weight="bold" text-anchor="end" fill="#1a1a1a" stroke="#1a1a1a" stroke-width="0.15">0.5</text>
<line x1="204.84" y1="121.10" x2="204.84" y2="122.80" stroke="#555" stroke-width="0.4"/>
<text transform="translate(206.14,124.70) rotate(-90)" font-size="3.7" font-weight="bold" text-anchor="end" fill="#1a1a1a" stroke="#1a1a1a" stroke-width="0.15">1</text>
<line x1="213.79" y1="121.10" x2="213.79" y2="122.80" stroke="#555" stroke-width="0.4"/>
<text transform="translate(215.09,124.70) rotate(-90)" font-size="3.7" font-weight="bold" text-anchor="end" fill="#1a1a1a" stroke="#1a1a1a" stroke-width="0.15">2</text>
<line x1="222.73" y1="121.10" x2="222.73" y2="122.80" stroke="#555" stroke-width="0.4"/>
<text transform="translate(224.03,124.70) rotate(-90)" font-size="3.7" font-weight="bold" text-anchor="end" fill="#1a1a1a" stroke="#1a1a1a" stroke-width="0.15">3</text>
<text x="198.30" y="137.30" font-size="5.55" text-anchor="middle" font-weight="normal" fill="#231f20" stroke="#231f20" stroke-width="0.18" >R428 (&#181;mol/L)</text>
<g filter="url(#gb)">
<rect x="229.40" y="33.30" width="9.96" height="9.73" fill="rgb(48,58,160)"/>
<rect x="238.36" y="33.30" width="9.96" height="9.73" fill="rgb(156,22,27)"/>
<rect x="247.31" y="33.30" width="9.96" height="9.73" fill="rgb(156,22,27)"/>
<rect x="256.27" y="33.30" width="9.96" height="9.73" fill="rgb(156,22,27)"/>
<rect x="265.23" y="33.30" width="9.96" height="9.73" fill="rgb(156,22,27)"/>
<rect x="274.19" y="33.30" width="9.96" height="9.73" fill="rgb(156,22,27)"/>
<rect x="283.14" y="33.30" width="8.96" height="9.73" fill="rgb(156,22,27)"/>
<rect x="229.40" y="42.03" width="9.96" height="9.73" fill="rgb(48,58,160)"/>
<rect x="238.36" y="42.03" width="9.96" height="9.73" fill="rgb(156,22,27)"/>
<rect x="247.31" y="42.03" width="9.96" height="9.73" fill="rgb(156,22,27)"/>
<rect x="256.27" y="42.03" width="9.96" height="9.73" fill="rgb(156,22,27)"/>
<rect x="265.23" y="42.03" width="9.96" height="9.73" fill="rgb(156,22,27)"/>
<rect x="274.19" y="42.03" width="9.96" height="9.73" fill="rgb(156,22,27)"/>
<rect x="283.14" y="42.03" width="8.96" height="9.73" fill="rgb(156,22,27)"/>
<rect x="229.40" y="50.76" width="9.96" height="9.73" fill="rgb(48,58,160)"/>
<rect x="238.36" y="50.76" width="9.96" height="9.73" fill="rgb(156,22,27)"/>
<rect x="247.31" y="50.76" width="9.96" height="9.73" fill="rgb(156,22,27)"/>
<rect x="256.27" y="50.76" width="9.96" height="9.73" fill="rgb(156,22,27)"/>
<rect x="265.23" y="50.76" width="9.96" height="9.73" fill="rgb(156,22,27)"/>
<rect x="274.19" y="50.76" width="9.96" height="9.73" fill="rgb(156,22,27)"/>
<rect x="283.14" y="50.76" width="8.96" height="9.73" fill="rgb(156,22,27)"/>
<rect x="229.40" y="59.49" width="9.96" height="9.73" fill="rgb(48,58,160)"/>
<rect x="238.36" y="59.49" width="9.96" height="9.73" fill="rgb(156,22,27)"/>
<rect x="247.31" y="59.49" width="9.96" height="9.73" fill="rgb(156,22,27)"/>
<rect x="256.27" y="59.49" width="9.96" height="9.73" fill="rgb(156,22,27)"/>
<rect x="265.23" y="59.49" width="9.96" height="9.73" fill="rgb(156,22,27)"/>
<rect x="274.19" y="59.49" width="9.96" height="9.73" fill="rgb(156,22,27)"/>
<rect x="283.14" y="59.49" width="8.96" height="9.73" fill="rgb(156,22,27)"/>
<rect x="229.40" y="68.22" width="9.96" height="9.73" fill="rgb(48,58,160)"/>
<rect x="238.36" y="68.22" width="9.96" height="9.73" fill="rgb(156,22,27)"/>
<rect x="247.31" y="68.22" width="9.96" height="9.73" fill="rgb(156,22,27)"/>
<rect x="256.27" y="68.22" width="9.96" height="9.73" fill="rgb(156,22,27)"/>
<rect x="265.23" y="68.22" width="9.96" height="9.73" fill="rgb(156,22,27)"/>
<rect x="274.19" y="68.22" width="9.96" height="9.73" fill="rgb(156,22,27)"/>
<rect x="283.14" y="68.22" width="8.96" height="9.73" fill="rgb(156,22,27)"/>
<rect x="229.40" y="76.95" width="9.96" height="9.73" fill="rgb(48,58,160)"/>
<rect x="238.36" y="76.95" width="9.96" height="9.73" fill="rgb(72,108,198)"/>
<rect x="247.31" y="76.95" width="9.96" height="9.73" fill="rgb(156,22,27)"/>
<rect x="256.27" y="76.95" width="9.96" height="9.73" fill="rgb(156,22,27)"/>
<rect x="265.23" y="76.95" width="9.96" height="9.73" fill="rgb(156,22,27)"/>
<rect x="274.19" y="76.95" width="9.96" height="9.73" fill="rgb(156,22,27)"/>
<rect x="283.14" y="76.95" width="8.96" height="9.73" fill="rgb(156,22,27)"/>
<rect x="229.40" y="85.68" width="9.96" height="9.73" fill="rgb(48,58,160)"/>
<rect x="238.36" y="85.68" width="9.96" height="9.73" fill="rgb(37,40,145)"/>
<rect x="247.31" y="85.68" width="9.96" height="9.73" fill="rgb(37,40,145)"/>
<rect x="256.27" y="85.68" width="9.96" height="9.73" fill="rgb(145,210,110)"/>
<rect x="265.23" y="85.68" width="9.96" height="9.73" fill="rgb(156,22,27)"/>
<rect x="274.19" y="85.68" width="9.96" height="9.73" fill="rgb(248,198,38)"/>
<rect x="283.14" y="85.68" width="8.96" height="9.73" fill="rgb(156,22,27)"/>
<rect x="229.40" y="94.41" width="9.96" height="9.73" fill="rgb(48,58,160)"/>
<rect x="238.36" y="94.41" width="9.96" height="9.73" fill="rgb(37,40,145)"/>
<rect x="247.31" y="94.41" width="9.96" height="9.73" fill="rgb(37,40,145)"/>
<rect x="256.27" y="94.41" width="9.96" height="9.73" fill="rgb(37,40,145)"/>
<rect x="265.23" y="94.41" width="9.96" height="9.73" fill="rgb(37,40,145)"/>
<rect x="274.19" y="94.41" width="9.96" height="9.73" fill="rgb(37,40,145)"/>
<rect x="283.14" y="94.41" width="8.96" height="9.73" fill="rgb(225,38,35)"/>
<rect x="229.40" y="103.14" width="9.96" height="9.73" fill="rgb(48,58,160)"/>
<rect x="238.36" y="103.14" width="9.96" height="9.73" fill="rgb(37,40,145)"/>
<rect x="247.31" y="103.14" width="9.96" height="9.73" fill="rgb(37,40,145)"/>
<rect x="256.27" y="103.14" width="9.96" height="9.73" fill="rgb(37,40,145)"/>
<rect x="265.23" y="103.14" width="9.96" height="9.73" fill="rgb(37,40,145)"/>
<rect x="274.19" y="103.14" width="9.96" height="9.73" fill="rgb(37,40,145)"/>
<rect x="283.14" y="103.14" width="8.96" height="9.73" fill="rgb(233,75,33)"/>
<rect x="229.40" y="111.87" width="9.96" height="8.73" fill="rgb(48,58,160)"/>
<rect x="238.36" y="111.87" width="9.96" height="8.73" fill="rgb(37,40,145)"/>
<rect x="247.31" y="111.87" width="9.96" height="8.73" fill="rgb(37,40,145)"/>
<rect x="256.27" y="111.87" width="9.96" height="8.73" fill="rgb(37,40,145)"/>
<rect x="265.23" y="111.87" width="9.96" height="8.73" fill="rgb(37,40,145)"/>
<rect x="274.19" y="111.87" width="9.96" height="8.73" fill="rgb(48,58,160)"/>
<rect x="283.14" y="111.87" width="8.96" height="8.73" fill="rgb(48,58,160)"/>
<g font-weight="bold">
<text x="233.88" y="39.37" font-size="4.7" text-anchor="middle" fill="rgba(255,255,255,0.62)">0</text>
<text x="242.84" y="39.37" font-size="4.7" text-anchor="middle" fill="rgba(255,255,255,0.62)">61</text>
<text x="251.79" y="39.37" font-size="4.7" text-anchor="middle" fill="rgba(255,255,255,0.62)">61</text>
<text x="260.75" y="39.37" font-size="4.7" text-anchor="middle" fill="rgba(255,255,255,0.62)">67</text>
<text x="269.71" y="39.37" font-size="4.7" text-anchor="middle" fill="rgba(255,255,255,0.62)">61</text>
<text x="278.66" y="39.37" font-size="4.7" text-anchor="middle" fill="rgba(255,255,255,0.62)">59</text>
<text x="287.62" y="39.37" font-size="4.7" text-anchor="middle" fill="rgba(255,255,255,0.62)">57</text>
<text x="233.88" y="48.09" font-size="4.7" text-anchor="middle" fill="rgba(255,255,255,0.62)">0</text>
<text x="242.84" y="48.09" font-size="4.7" text-anchor="middle" fill="rgba(255,255,255,0.62)">76</text>
<text x="251.79" y="48.09" font-size="4.7" text-anchor="middle" fill="rgba(255,255,255,0.62)">78</text>
<text x="260.75" y="48.09" font-size="4.7" text-anchor="middle" fill="rgba(255,255,255,0.62)">87</text>
<text x="269.71" y="48.09" font-size="4.7" text-anchor="middle" fill="rgba(255,255,255,0.62)">79</text>
<text x="278.66" y="48.09" font-size="4.7" text-anchor="middle" fill="rgba(255,255,255,0.62)">52</text>
<text x="287.62" y="48.09" font-size="4.7" text-anchor="middle" fill="rgba(255,255,255,0.62)">76</text>
<text x="233.88" y="56.83" font-size="4.7" text-anchor="middle" fill="rgba(255,255,255,0.62)">0</text>
<text x="242.84" y="56.83" font-size="4.7" text-anchor="middle" fill="rgba(255,255,255,0.62)">70</text>
<text x="251.79" y="56.83" font-size="4.7" text-anchor="middle" fill="rgba(255,255,255,0.62)">79</text>
<text x="260.75" y="56.83" font-size="4.7" text-anchor="middle" fill="rgba(255,255,255,0.62)">80</text>
<text x="269.71" y="56.83" font-size="4.7" text-anchor="middle" fill="rgba(255,255,255,0.62)">79</text>
<text x="278.66" y="56.83" font-size="4.7" text-anchor="middle" fill="rgba(255,255,255,0.62)">58</text>
<text x="287.62" y="56.83" font-size="4.7" text-anchor="middle" fill="rgba(255,255,255,0.62)">70</text>
<text x="233.88" y="65.55" font-size="4.7" text-anchor="middle" fill="rgba(255,255,255,0.62)">0</text>
<text x="242.84" y="65.55" font-size="4.7" text-anchor="middle" fill="rgba(255,255,255,0.62)">75</text>
<text x="251.79" y="65.55" font-size="4.7" text-anchor="middle" fill="rgba(255,255,255,0.62)">76</text>
<text x="260.75" y="65.55" font-size="4.7" text-anchor="middle" fill="rgba(255,255,255,0.62)">80</text>
<text x="269.71" y="65.55" font-size="4.7" text-anchor="middle" fill="rgba(255,255,255,0.62)">79</text>
<text x="278.66" y="65.55" font-size="4.7" text-anchor="middle" fill="rgba(255,255,255,0.62)">45</text>
<text x="287.62" y="65.55" font-size="4.7" text-anchor="middle" fill="rgba(255,255,255,0.62)">68</text>
<text x="233.88" y="74.29" font-size="4.7" text-anchor="middle" fill="rgba(255,255,255,0.62)">0</text>
<text x="242.84" y="74.29" font-size="4.7" text-anchor="middle" fill="rgba(255,255,255,0.62)">39</text>
<text x="251.79" y="74.29" font-size="4.7" text-anchor="middle" fill="rgba(255,255,255,0.62)">65</text>
<text x="260.75" y="74.29" font-size="4.7" text-anchor="middle" fill="rgba(255,255,255,0.62)">69</text>
<text x="269.71" y="74.29" font-size="4.7" text-anchor="middle" fill="rgba(255,255,255,0.62)">73</text>
<text x="278.66" y="74.29" font-size="4.7" text-anchor="middle" fill="rgba(255,255,255,0.62)">49</text>
<text x="287.62" y="74.29" font-size="4.7" text-anchor="middle" fill="rgba(255,255,255,0.62)">60</text>
<text x="233.88" y="83.02" font-size="4.7" text-anchor="middle" fill="rgba(255,255,255,0.62)">0</text>
<text x="242.84" y="83.02" font-size="4.7" text-anchor="middle" fill="rgba(255,255,255,0.62)">3</text>
<text x="251.79" y="83.02" font-size="4.7" text-anchor="middle" fill="rgba(255,255,255,0.62)">48</text>
<text x="260.75" y="83.02" font-size="4.7" text-anchor="middle" fill="rgba(255,255,255,0.62)">69</text>
<text x="269.71" y="83.02" font-size="4.7" text-anchor="middle" fill="rgba(255,255,255,0.62)">62</text>
<text x="278.66" y="83.02" font-size="4.7" text-anchor="middle" fill="rgba(255,255,255,0.62)">59</text>
<text x="287.62" y="83.02" font-size="4.7" text-anchor="middle" fill="rgba(255,255,255,0.62)">78</text>
<text x="233.88" y="91.75" font-size="4.7" text-anchor="middle" fill="rgba(255,255,255,0.62)">0</text>
<text x="242.84" y="91.75" font-size="4.7" text-anchor="middle" fill="rgba(255,255,255,0.62)">4</text>
<text x="251.79" y="91.75" font-size="4.7" text-anchor="middle" fill="rgba(255,255,255,0.62)">0</text>
<text x="260.75" y="91.75" font-size="4.7" text-anchor="middle" fill="rgba(25,35,15,0.78)">15</text>
<text x="269.71" y="91.75" font-size="4.7" text-anchor="middle" fill="rgba(255,255,255,0.62)">47</text>
<text x="278.66" y="91.75" font-size="4.7" text-anchor="middle" fill="rgba(25,35,15,0.78)">25</text>
<text x="287.62" y="91.75" font-size="4.7" text-anchor="middle" fill="rgba(255,255,255,0.62)">52</text>
<text x="233.88" y="100.48" font-size="4.7" text-anchor="middle" fill="rgba(255,255,255,0.62)">0</text>
<text x="242.84" y="100.48" font-size="4.7" text-anchor="middle" fill="rgba(255,255,255,0.62)">&#8211;3</text>
<text x="251.79" y="100.48" font-size="4.7" text-anchor="middle" fill="rgba(255,255,255,0.62)">0</text>
<text x="260.75" y="100.48" font-size="4.7" text-anchor="middle" fill="rgba(255,255,255,0.62)">0</text>
<text x="269.71" y="100.48" font-size="4.7" text-anchor="middle" fill="rgba(255,255,255,0.62)">&#8211;1</text>
<text x="278.66" y="100.48" font-size="4.7" text-anchor="middle" fill="rgba(255,255,255,0.62)">&#8211;5</text>
<text x="287.62" y="100.48" font-size="4.7" text-anchor="middle" fill="rgba(255,255,255,0.62)">27</text>
<text x="233.88" y="109.20" font-size="4.7" text-anchor="middle" fill="rgba(255,255,255,0.62)">0</text>
<text x="242.84" y="109.20" font-size="4.7" text-anchor="middle" fill="rgba(255,255,255,0.62)">&#8211;4</text>
<text x="251.79" y="109.20" font-size="4.7" text-anchor="middle" fill="rgba(255,255,255,0.62)">0</text>
<text x="260.75" y="109.20" font-size="4.7" text-anchor="middle" fill="rgba(255,255,255,0.62)">0</text>
<text x="269.71" y="109.20" font-size="4.7" text-anchor="middle" fill="rgba(255,255,255,0.62)">0</text>
<text x="278.66" y="109.20" font-size="4.7" text-anchor="middle" fill="rgba(255,255,255,0.62)">&#8211;4</text>
<text x="287.62" y="109.20" font-size="4.7" text-anchor="middle" fill="rgba(25,35,15,0.78)">24</text>
<text x="233.88" y="117.94" font-size="4.7" text-anchor="middle" fill="rgba(255,255,255,0.62)">0</text>
<text x="242.84" y="117.94" font-size="4.7" text-anchor="middle" fill="rgba(255,255,255,0.62)">0</text>
<text x="251.79" y="117.94" font-size="4.7" text-anchor="middle" fill="rgba(255,255,255,0.62)">0</text>
<text x="260.75" y="117.94" font-size="4.7" text-anchor="middle" fill="rgba(255,255,255,0.62)">0</text>
<text x="269.71" y="117.94" font-size="4.7" text-anchor="middle" fill="rgba(255,255,255,0.62)">0</text>
<text x="278.66" y="117.94" font-size="4.7" text-anchor="middle" fill="rgba(255,255,255,0.62)">0</text>
<text x="287.62" y="117.94" font-size="4.7" text-anchor="middle" fill="rgba(255,255,255,0.62)">0</text>
</g>
</g>
<text x="260.75" y="31.00" font-size="5.60" text-anchor="middle" font-weight="normal" fill="#231f20" stroke="#231f20" stroke-width="0.18" >Delta Bliss</text>
<line x1="233.88" y1="121.10" x2="233.88" y2="122.80" stroke="#555" stroke-width="0.4"/>
<text transform="translate(235.18,124.70) rotate(-90)" font-size="3.7" font-weight="bold" text-anchor="end" fill="#1a1a1a" stroke="#1a1a1a" stroke-width="0.15">0</text>
<line x1="242.84" y1="121.10" x2="242.84" y2="122.80" stroke="#555" stroke-width="0.4"/>
<text transform="translate(244.14,124.70) rotate(-90)" font-size="3.7" font-weight="bold" text-anchor="end" fill="#1a1a1a" stroke="#1a1a1a" stroke-width="0.15">0.1</text>
<line x1="251.79" y1="121.10" x2="251.79" y2="122.80" stroke="#555" stroke-width="0.4"/>
<text transform="translate(253.09,124.70) rotate(-90)" font-size="3.7" font-weight="bold" text-anchor="end" fill="#1a1a1a" stroke="#1a1a1a" stroke-width="0.15">0.25</text>
<line x1="260.75" y1="121.10" x2="260.75" y2="122.80" stroke="#555" stroke-width="0.4"/>
<text transform="translate(262.05,124.70) rotate(-90)" font-size="3.7" font-weight="bold" text-anchor="end" fill="#1a1a1a" stroke="#1a1a1a" stroke-width="0.15">0.5</text>
<line x1="269.71" y1="121.10" x2="269.71" y2="122.80" stroke="#555" stroke-width="0.4"/>
<text transform="translate(271.01,124.70) rotate(-90)" font-size="3.7" font-weight="bold" text-anchor="end" fill="#1a1a1a" stroke="#1a1a1a" stroke-width="0.15">1</text>
<line x1="278.66" y1="121.10" x2="278.66" y2="122.80" stroke="#555" stroke-width="0.4"/>
<text transform="translate(279.96,124.70) rotate(-90)" font-size="3.7" font-weight="bold" text-anchor="end" fill="#1a1a1a" stroke="#1a1a1a" stroke-width="0.15">2</text>
<line x1="287.62" y1="121.10" x2="287.62" y2="122.80" stroke="#555" stroke-width="0.4"/>
<text transform="translate(288.92,124.70) rotate(-90)" font-size="3.7" font-weight="bold" text-anchor="end" fill="#1a1a1a" stroke="#1a1a1a" stroke-width="0.15">3</text>
<text x="262.75" y="137.30" font-size="5.55" text-anchor="middle" font-weight="normal" fill="#231f20" stroke="#231f20" stroke-width="0.18" >R428 (&#181;mol/L)</text>
<text x="95.55" y="23.00" font-size="5.70" text-anchor="middle" font-weight="normal" fill="#231f20" stroke="#231f20" stroke-width="0.18" text-decoration="underline">PC9 parental</text>
<text x="228.35" y="23.00" font-size="5.70" text-anchor="middle" font-weight="normal" fill="#231f20" stroke="#231f20" stroke-width="0.18" text-decoration="underline">PC9 mesenchymal</text>
<line x1="29.40" y1="37.66" x2="31.40" y2="37.66" stroke="#555" stroke-width="0.4"/>
<text x="28.70" y="39.06" font-size="4.00" text-anchor="end" font-weight="bold" fill="#222" stroke="#222" stroke-width="0.08" >300</text>
<line x1="29.40" y1="46.39" x2="31.40" y2="46.39" stroke="#555" stroke-width="0.4"/>
<text x="28.70" y="47.79" font-size="4.00" text-anchor="end" font-weight="bold" fill="#222" stroke="#222" stroke-width="0.08" >100</text>
<line x1="29.40" y1="55.12" x2="31.40" y2="55.12" stroke="#555" stroke-width="0.4"/>
<text x="28.70" y="56.52" font-size="4.00" text-anchor="end" font-weight="bold" fill="#222" stroke="#222" stroke-width="0.08" >30</text>
<line x1="29.40" y1="63.85" x2="31.40" y2="63.85" stroke="#555" stroke-width="0.4"/>
<text x="28.70" y="65.25" font-size="4.00" text-anchor="end" font-weight="bold" fill="#222" stroke="#222" stroke-width="0.08" >10</text>
<line x1="29.40" y1="72.59" x2="31.40" y2="72.59" stroke="#555" stroke-width="0.4"/>
<text x="28.70" y="73.99" font-size="4.00" text-anchor="end" font-weight="bold" fill="#222" stroke="#222" stroke-width="0.08" >3</text>
<line x1="29.40" y1="81.31" x2="31.40" y2="81.31" stroke="#555" stroke-width="0.4"/>
<text x="28.70" y="82.72" font-size="4.00" text-anchor="end" font-weight="bold" fill="#222" stroke="#222" stroke-width="0.08" >1</text>
<line x1="29.40" y1="90.05" x2="31.40" y2="90.05" stroke="#555" stroke-width="0.4"/>
<text x="28.70" y="91.45" font-size="4.00" text-anchor="end" font-weight="bold" fill="#222" stroke="#222" stroke-width="0.08" >0.3</text>
<line x1="29.40" y1="98.78" x2="31.40" y2="98.78" stroke="#555" stroke-width="0.4"/>
<text x="28.70" y="100.18" font-size="4.00" text-anchor="end" font-weight="bold" fill="#222" stroke="#222" stroke-width="0.08" >0.1</text>
<line x1="29.40" y1="107.50" x2="31.40" y2="107.50" stroke="#555" stroke-width="0.4"/>
<text x="28.70" y="108.91" font-size="4.00" text-anchor="end" font-weight="bold" fill="#222" stroke="#222" stroke-width="0.08" >0.03</text>
<line x1="29.40" y1="116.23" x2="31.40" y2="116.23" stroke="#555" stroke-width="0.4"/>
<text x="28.70" y="117.64" font-size="4.00" text-anchor="end" font-weight="bold" fill="#222" stroke="#222" stroke-width="0.08" >0</text>
<text transform="translate(18.10,70.90) rotate(-90)" font-size="5.5" text-anchor="middle" fill="#231f20" stroke="#231f20" stroke-width="0.16">DTX (nmol/L)</text>
<g filter="url(#gb)">
<rect x="32.50" y="158.10" width="10.07" height="9.71" fill="rgb(225,38,35)"/>
<rect x="41.57" y="158.10" width="10.07" height="9.71" fill="rgb(225,38,35)"/>
<rect x="50.64" y="158.10" width="10.07" height="9.71" fill="rgb(225,38,35)"/>
<rect x="59.71" y="158.10" width="10.07" height="9.71" fill="rgb(225,38,35)"/>
<rect x="68.79" y="158.10" width="10.07" height="9.71" fill="rgb(225,38,35)"/>
<rect x="77.86" y="158.10" width="10.07" height="9.71" fill="rgb(225,38,35)"/>
<rect x="86.93" y="158.10" width="9.07" height="9.71" fill="rgb(225,38,35)"/>
<rect x="32.50" y="166.81" width="10.07" height="9.71" fill="rgb(233,75,33)"/>
<rect x="41.57" y="166.81" width="10.07" height="9.71" fill="rgb(225,38,35)"/>
<rect x="50.64" y="166.81" width="10.07" height="9.71" fill="rgb(225,38,35)"/>
<rect x="59.71" y="166.81" width="10.07" height="9.71" fill="rgb(225,38,35)"/>
<rect x="68.79" y="166.81" width="10.07" height="9.71" fill="rgb(225,38,35)"/>
<rect x="77.86" y="166.81" width="10.07" height="9.71" fill="rgb(225,38,35)"/>
<rect x="86.93" y="166.81" width="9.07" height="9.71" fill="rgb(225,38,35)"/>
<rect x="32.50" y="175.52" width="10.07" height="9.71" fill="rgb(240,118,35)"/>
<rect x="41.57" y="175.52" width="10.07" height="9.71" fill="rgb(233,75,33)"/>
<rect x="50.64" y="175.52" width="10.07" height="9.71" fill="rgb(233,75,33)"/>
<rect x="59.71" y="175.52" width="10.07" height="9.71" fill="rgb(233,75,33)"/>
<rect x="68.79" y="175.52" width="10.07" height="9.71" fill="rgb(233,75,33)"/>
<rect x="77.86" y="175.52" width="10.07" height="9.71" fill="rgb(233,75,33)"/>
<rect x="86.93" y="175.52" width="9.07" height="9.71" fill="rgb(225,38,35)"/>
<rect x="32.50" y="184.23" width="10.07" height="9.71" fill="rgb(245,145,35)"/>
<rect x="41.57" y="184.23" width="10.07" height="9.71" fill="rgb(240,118,35)"/>
<rect x="50.64" y="184.23" width="10.07" height="9.71" fill="rgb(240,118,35)"/>
<rect x="59.71" y="184.23" width="10.07" height="9.71" fill="rgb(240,118,35)"/>
<rect x="68.79" y="184.23" width="10.07" height="9.71" fill="rgb(233,75,33)"/>
<rect x="77.86" y="184.23" width="10.07" height="9.71" fill="rgb(233,75,33)"/>
<rect x="86.93" y="184.23" width="9.07" height="9.71" fill="rgb(233,75,33)"/>
<rect x="32.50" y="192.94" width="10.07" height="9.71" fill="rgb(240,230,40)"/>
<rect x="41.57" y="192.94" width="10.07" height="9.71" fill="rgb(240,230,40)"/>
<rect x="50.64" y="192.94" width="10.07" height="9.71" fill="rgb(240,230,40)"/>
<rect x="59.71" y="192.94" width="10.07" height="9.71" fill="rgb(240,230,40)"/>
<rect x="68.79" y="192.94" width="10.07" height="9.71" fill="rgb(248,198,38)"/>
<rect x="77.86" y="192.94" width="10.07" height="9.71" fill="rgb(245,145,35)"/>
<rect x="86.93" y="192.94" width="9.07" height="9.71" fill="rgb(233,75,33)"/>
<rect x="32.50" y="201.65" width="10.07" height="9.71" fill="rgb(175,220,85)"/>
<rect x="41.57" y="201.65" width="10.07" height="9.71" fill="rgb(175,220,85)"/>
<rect x="50.64" y="201.65" width="10.07" height="9.71" fill="rgb(175,220,85)"/>
<rect x="59.71" y="201.65" width="10.07" height="9.71" fill="rgb(175,220,85)"/>
<rect x="68.79" y="201.65" width="10.07" height="9.71" fill="rgb(205,225,55)"/>
<rect x="77.86" y="201.65" width="10.07" height="9.71" fill="rgb(248,198,38)"/>
<rect x="86.93" y="201.65" width="9.07" height="9.71" fill="rgb(245,145,35)"/>
<rect x="32.50" y="210.36" width="10.07" height="9.71" fill="rgb(115,200,222)"/>
<rect x="41.57" y="210.36" width="10.07" height="9.71" fill="rgb(115,200,222)"/>
<rect x="50.64" y="210.36" width="10.07" height="9.71" fill="rgb(115,200,222)"/>
<rect x="59.71" y="210.36" width="10.07" height="9.71" fill="rgb(115,200,222)"/>
<rect x="68.79" y="210.36" width="10.07" height="9.71" fill="rgb(130,210,180)"/>
<rect x="77.86" y="210.36" width="10.07" height="9.71" fill="rgb(205,225,55)"/>
<rect x="86.93" y="210.36" width="9.07" height="9.71" fill="rgb(240,230,40)"/>
<rect x="32.50" y="219.07" width="10.07" height="9.71" fill="rgb(85,155,215)"/>
<rect x="41.57" y="219.07" width="10.07" height="9.71" fill="rgb(72,108,198)"/>
<rect x="50.64" y="219.07" width="10.07" height="9.71" fill="rgb(60,80,182)"/>
<rect x="59.71" y="219.07" width="10.07" height="9.71" fill="rgb(60,80,182)"/>
<rect x="68.79" y="219.07" width="10.07" height="9.71" fill="rgb(85,155,215)"/>
<rect x="77.86" y="219.07" width="10.07" height="9.71" fill="rgb(145,210,110)"/>
<rect x="86.93" y="219.07" width="9.07" height="9.71" fill="rgb(205,225,55)"/>
<rect x="32.50" y="227.78" width="10.07" height="9.71" fill="rgb(72,108,198)"/>
<rect x="41.57" y="227.78" width="10.07" height="9.71" fill="rgb(48,58,160)"/>
<rect x="50.64" y="227.78" width="10.07" height="9.71" fill="rgb(37,40,145)"/>
<rect x="59.71" y="227.78" width="10.07" height="9.71" fill="rgb(37,40,145)"/>
<rect x="68.79" y="227.78" width="10.07" height="9.71" fill="rgb(60,80,182)"/>
<rect x="77.86" y="227.78" width="10.07" height="9.71" fill="rgb(115,200,222)"/>
<rect x="86.93" y="227.78" width="9.07" height="9.71" fill="rgb(130,210,180)"/>
<rect x="32.50" y="236.49" width="10.07" height="8.71" fill="rgb(37,40,145)"/>
<rect x="41.57" y="236.49" width="10.07" height="8.71" fill="rgb(37,40,145)"/>
<rect x="50.64" y="236.49" width="10.07" height="8.71" fill="rgb(37,40,145)"/>
<rect x="59.71" y="236.49" width="10.07" height="8.71" fill="rgb(37,40,145)"/>
<rect x="68.79" y="236.49" width="10.07" height="8.71" fill="rgb(37,40,145)"/>
<rect x="77.86" y="236.49" width="10.07" height="8.71" fill="rgb(48,58,160)"/>
<rect x="86.93" y="236.49" width="9.07" height="8.71" fill="rgb(60,80,182)"/>
<g font-weight="bold">
<text x="37.04" y="164.15" font-size="4.7" text-anchor="middle" fill="rgba(255,255,255,0.62)">85</text>
<text x="46.11" y="164.15" font-size="4.7" text-anchor="middle" fill="rgba(255,255,255,0.62)">80</text>
<text x="55.18" y="164.15" font-size="4.7" text-anchor="middle" fill="rgba(255,255,255,0.62)">83</text>
<text x="64.25" y="164.15" font-size="4.7" text-anchor="middle" fill="rgba(255,255,255,0.62)">84</text>
<text x="73.32" y="164.15" font-size="4.7" text-anchor="middle" fill="rgba(255,255,255,0.62)">85</text>
<text x="82.39" y="164.15" font-size="4.7" text-anchor="middle" fill="rgba(255,255,255,0.62)">87</text>
<text x="91.46" y="164.15" font-size="4.7" text-anchor="middle" fill="rgba(255,255,255,0.62)">88</text>
<text x="37.04" y="172.86" font-size="4.7" text-anchor="middle" fill="rgba(25,35,15,0.78)">80</text>
<text x="46.11" y="172.86" font-size="4.7" text-anchor="middle" fill="rgba(255,255,255,0.62)">84</text>
<text x="55.18" y="172.86" font-size="4.7" text-anchor="middle" fill="rgba(255,255,255,0.62)">86</text>
<text x="64.25" y="172.86" font-size="4.7" text-anchor="middle" fill="rgba(255,255,255,0.62)">84</text>
<text x="73.32" y="172.86" font-size="4.7" text-anchor="middle" fill="rgba(255,255,255,0.62)">84</text>
<text x="82.39" y="172.86" font-size="4.7" text-anchor="middle" fill="rgba(255,255,255,0.62)">84</text>
<text x="91.46" y="172.86" font-size="4.7" text-anchor="middle" fill="rgba(255,255,255,0.62)">85</text>
<text x="37.04" y="181.57" font-size="4.7" text-anchor="middle" fill="rgba(25,35,15,0.78)">77</text>
<text x="46.11" y="181.57" font-size="4.7" text-anchor="middle" fill="rgba(25,35,15,0.78)">81</text>
<text x="55.18" y="181.57" font-size="4.7" text-anchor="middle" fill="rgba(25,35,15,0.78)">83</text>
<text x="64.25" y="181.57" font-size="4.7" text-anchor="middle" fill="rgba(25,35,15,0.78)">83</text>
<text x="73.32" y="181.57" font-size="4.7" text-anchor="middle" fill="rgba(25,35,15,0.78)">83</text>
<text x="82.39" y="181.57" font-size="4.7" text-anchor="middle" fill="rgba(25,35,15,0.78)">83</text>
<text x="91.46" y="181.57" font-size="4.7" text-anchor="middle" fill="rgba(255,255,255,0.62)">84</text>
<text x="37.04" y="190.28" font-size="4.7" text-anchor="middle" fill="rgba(25,35,15,0.78)">71</text>
<text x="46.11" y="190.28" font-size="4.7" text-anchor="middle" fill="rgba(25,35,15,0.78)">75</text>
<text x="55.18" y="190.28" font-size="4.7" text-anchor="middle" fill="rgba(25,35,15,0.78)">76</text>
<text x="64.25" y="190.28" font-size="4.7" text-anchor="middle" fill="rgba(25,35,15,0.78)">76</text>
<text x="73.32" y="190.28" font-size="4.7" text-anchor="middle" fill="rgba(25,35,15,0.78)">79</text>
<text x="82.39" y="190.28" font-size="4.7" text-anchor="middle" fill="rgba(25,35,15,0.78)">81</text>
<text x="91.46" y="190.28" font-size="4.7" text-anchor="middle" fill="rgba(25,35,15,0.78)">83</text>
<text x="37.04" y="198.99" font-size="4.7" text-anchor="middle" fill="rgba(25,35,15,0.78)">62</text>
<text x="46.11" y="198.99" font-size="4.7" text-anchor="middle" fill="rgba(25,35,15,0.78)">67</text>
<text x="55.18" y="198.99" font-size="4.7" text-anchor="middle" fill="rgba(25,35,15,0.78)">66</text>
<text x="64.25" y="198.99" font-size="4.7" text-anchor="middle" fill="rgba(25,35,15,0.78)">67</text>
<text x="73.32" y="198.99" font-size="4.7" text-anchor="middle" fill="rgba(25,35,15,0.78)">70</text>
<text x="82.39" y="198.99" font-size="4.7" text-anchor="middle" fill="rgba(25,35,15,0.78)">76</text>
<text x="91.46" y="198.99" font-size="4.7" text-anchor="middle" fill="rgba(25,35,15,0.78)">81</text>
<text x="37.04" y="207.70" font-size="4.7" text-anchor="middle" fill="rgba(25,35,15,0.78)">55</text>
<text x="46.11" y="207.70" font-size="4.7" text-anchor="middle" fill="rgba(25,35,15,0.78)">56</text>
<text x="55.18" y="207.70" font-size="4.7" text-anchor="middle" fill="rgba(25,35,15,0.78)">54</text>
<text x="64.25" y="207.70" font-size="4.7" text-anchor="middle" fill="rgba(25,35,15,0.78)">58</text>
<text x="73.32" y="207.70" font-size="4.7" text-anchor="middle" fill="rgba(25,35,15,0.78)">60</text>
<text x="82.39" y="207.70" font-size="4.7" text-anchor="middle" fill="rgba(25,35,15,0.78)">70</text>
<text x="91.46" y="207.70" font-size="4.7" text-anchor="middle" fill="rgba(25,35,15,0.78)">77</text>
<text x="37.04" y="216.41" font-size="4.7" text-anchor="middle" fill="rgba(25,35,15,0.78)">42</text>
<text x="46.11" y="216.41" font-size="4.7" text-anchor="middle" fill="rgba(25,35,15,0.78)">40</text>
<text x="55.18" y="216.41" font-size="4.7" text-anchor="middle" fill="rgba(25,35,15,0.78)">34</text>
<text x="64.25" y="216.41" font-size="4.7" text-anchor="middle" fill="rgba(25,35,15,0.78)">36</text>
<text x="73.32" y="216.41" font-size="4.7" text-anchor="middle" fill="rgba(25,35,15,0.78)">45</text>
<text x="82.39" y="216.41" font-size="4.7" text-anchor="middle" fill="rgba(25,35,15,0.78)">59</text>
<text x="91.46" y="216.41" font-size="4.7" text-anchor="middle" fill="rgba(25,35,15,0.78)">69</text>
<text x="37.04" y="225.12" font-size="4.7" text-anchor="middle" fill="rgba(255,255,255,0.62)">31</text>
<text x="46.11" y="225.12" font-size="4.7" text-anchor="middle" fill="rgba(255,255,255,0.62)">25</text>
<text x="55.18" y="225.12" font-size="4.7" text-anchor="middle" fill="rgba(255,255,255,0.62)">19</text>
<text x="64.25" y="225.12" font-size="4.7" text-anchor="middle" fill="rgba(255,255,255,0.62)">15</text>
<text x="73.32" y="225.12" font-size="4.7" text-anchor="middle" fill="rgba(255,255,255,0.62)">28</text>
<text x="82.39" y="225.12" font-size="4.7" text-anchor="middle" fill="rgba(25,35,15,0.78)">47</text>
<text x="91.46" y="225.12" font-size="4.7" text-anchor="middle" fill="rgba(25,35,15,0.78)">58</text>
<text x="37.04" y="233.83" font-size="4.7" text-anchor="middle" fill="rgba(255,255,255,0.62)">20</text>
<text x="46.11" y="233.83" font-size="4.7" text-anchor="middle" fill="rgba(255,255,255,0.62)">12</text>
<text x="55.18" y="233.83" font-size="4.7" text-anchor="middle" fill="rgba(255,255,255,0.62)">6</text>
<text x="64.25" y="233.83" font-size="4.7" text-anchor="middle" fill="rgba(255,255,255,0.62)">6</text>
<text x="73.32" y="233.83" font-size="4.7" text-anchor="middle" fill="rgba(255,255,255,0.62)">16</text>
<text x="82.39" y="233.83" font-size="4.7" text-anchor="middle" fill="rgba(25,35,15,0.78)">33</text>
<text x="91.46" y="233.83" font-size="4.7" text-anchor="middle" fill="rgba(25,35,15,0.78)">44</text>
<text x="37.04" y="242.54" font-size="4.7" text-anchor="middle" fill="rgba(255,255,255,0.62)">0</text>
<text x="46.11" y="242.54" font-size="4.7" text-anchor="middle" fill="rgba(255,255,255,0.62)">6</text>
<text x="55.18" y="242.54" font-size="4.7" text-anchor="middle" fill="rgba(255,255,255,0.62)">0</text>
<text x="64.25" y="242.54" font-size="4.7" text-anchor="middle" fill="rgba(255,255,255,0.62)">6</text>
<text x="73.32" y="242.54" font-size="4.7" text-anchor="middle" fill="rgba(255,255,255,0.62)">2</text>
<text x="82.39" y="242.54" font-size="4.7" text-anchor="middle" fill="rgba(255,255,255,0.62)">12</text>
<text x="91.46" y="242.54" font-size="4.7" text-anchor="middle" fill="rgba(255,255,255,0.62)">21</text>
</g>
</g>
<text x="64.25" y="155.80" font-size="5.60" text-anchor="middle" font-weight="normal" fill="#231f20" stroke="#231f20" stroke-width="0.18" >Percentage inhibition</text>
<line x1="37.04" y1="245.70" x2="37.04" y2="247.40" stroke="#555" stroke-width="0.4"/>
<text transform="translate(38.34,249.30) rotate(-90)" font-size="3.7" font-weight="bold" text-anchor="end" fill="#1a1a1a" stroke="#1a1a1a" stroke-width="0.15">0</text>
<line x1="46.11" y1="245.70" x2="46.11" y2="247.40" stroke="#555" stroke-width="0.4"/>
<text transform="translate(47.41,249.30) rotate(-90)" font-size="3.7" font-weight="bold" text-anchor="end" fill="#1a1a1a" stroke="#1a1a1a" stroke-width="0.15">0.1</text>
<line x1="55.18" y1="245.70" x2="55.18" y2="247.40" stroke="#555" stroke-width="0.4"/>
<text transform="translate(56.48,249.30) rotate(-90)" font-size="3.7" font-weight="bold" text-anchor="end" fill="#1a1a1a" stroke="#1a1a1a" stroke-width="0.15">0.25</text>
<line x1="64.25" y1="245.70" x2="64.25" y2="247.40" stroke="#555" stroke-width="0.4"/>
<text transform="translate(65.55,249.30) rotate(-90)" font-size="3.7" font-weight="bold" text-anchor="end" fill="#1a1a1a" stroke="#1a1a1a" stroke-width="0.15">0.5</text>
<line x1="73.32" y1="245.70" x2="73.32" y2="247.40" stroke="#555" stroke-width="0.4"/>
<text transform="translate(74.62,249.30) rotate(-90)" font-size="3.7" font-weight="bold" text-anchor="end" fill="#1a1a1a" stroke="#1a1a1a" stroke-width="0.15">1</text>
<line x1="82.39" y1="245.70" x2="82.39" y2="247.40" stroke="#555" stroke-width="0.4"/>
<text transform="translate(83.69,249.30) rotate(-90)" font-size="3.7" font-weight="bold" text-anchor="end" fill="#1a1a1a" stroke="#1a1a1a" stroke-width="0.15">2</text>
<line x1="91.46" y1="245.70" x2="91.46" y2="247.40" stroke="#555" stroke-width="0.4"/>
<text transform="translate(92.76,249.30) rotate(-90)" font-size="3.7" font-weight="bold" text-anchor="end" fill="#1a1a1a" stroke="#1a1a1a" stroke-width="0.15">3</text>
<text x="62.50" y="263.00" font-size="5.55" text-anchor="middle" font-weight="normal" fill="#231f20" stroke="#231f20" stroke-width="0.18" >R428 (&#181;mol/L)</text>
<g filter="url(#gb)">
<rect x="98.20" y="158.10" width="9.97" height="9.71" fill="rgb(37,40,145)"/>
<rect x="107.17" y="158.10" width="9.97" height="9.71" fill="rgb(37,40,145)"/>
<rect x="116.14" y="158.10" width="9.97" height="9.71" fill="rgb(37,40,145)"/>
<rect x="125.11" y="158.10" width="9.97" height="9.71" fill="rgb(37,40,145)"/>
<rect x="134.09" y="158.10" width="9.97" height="9.71" fill="rgb(48,58,160)"/>
<rect x="143.06" y="158.10" width="9.97" height="9.71" fill="rgb(37,40,145)"/>
<rect x="152.03" y="158.10" width="8.97" height="9.71" fill="rgb(37,40,145)"/>
<rect x="98.20" y="166.81" width="9.97" height="9.71" fill="rgb(37,40,145)"/>
<rect x="107.17" y="166.81" width="9.97" height="9.71" fill="rgb(48,58,160)"/>
<rect x="116.14" y="166.81" width="9.97" height="9.71" fill="rgb(48,58,160)"/>
<rect x="125.11" y="166.81" width="9.97" height="9.71" fill="rgb(48,58,160)"/>
<rect x="134.09" y="166.81" width="9.97" height="9.71" fill="rgb(48,58,160)"/>
<rect x="143.06" y="166.81" width="9.97" height="9.71" fill="rgb(37,40,145)"/>
<rect x="152.03" y="166.81" width="8.97" height="9.71" fill="rgb(37,40,145)"/>
<rect x="98.20" y="175.52" width="9.97" height="9.71" fill="rgb(37,40,145)"/>
<rect x="107.17" y="175.52" width="9.97" height="9.71" fill="rgb(60,80,182)"/>
<rect x="116.14" y="175.52" width="9.97" height="9.71" fill="rgb(60,80,182)"/>
<rect x="125.11" y="175.52" width="9.97" height="9.71" fill="rgb(60,80,182)"/>
<rect x="134.09" y="175.52" width="9.97" height="9.71" fill="rgb(60,80,182)"/>
<rect x="143.06" y="175.52" width="9.97" height="9.71" fill="rgb(48,58,160)"/>
<rect x="152.03" y="175.52" width="8.97" height="9.71" fill="rgb(48,58,160)"/>
<rect x="98.20" y="184.23" width="9.97" height="9.71" fill="rgb(37,40,145)"/>
<rect x="107.17" y="184.23" width="9.97" height="9.71" fill="rgb(60,80,182)"/>
<rect x="116.14" y="184.23" width="9.97" height="9.71" fill="rgb(60,80,182)"/>
<rect x="125.11" y="184.23" width="9.97" height="9.71" fill="rgb(60,80,182)"/>
<rect x="134.09" y="184.23" width="9.97" height="9.71" fill="rgb(60,80,182)"/>
<rect x="143.06" y="184.23" width="9.97" height="9.71" fill="rgb(48,58,160)"/>
<rect x="152.03" y="184.23" width="8.97" height="9.71" fill="rgb(48,58,160)"/>
<rect x="98.20" y="192.94" width="9.97" height="9.71" fill="rgb(37,40,145)"/>
<rect x="107.17" y="192.94" width="9.97" height="9.71" fill="rgb(60,80,182)"/>
<rect x="116.14" y="192.94" width="9.97" height="9.71" fill="rgb(60,80,182)"/>
<rect x="125.11" y="192.94" width="9.97" height="9.71" fill="rgb(60,80,182)"/>
<rect x="134.09" y="192.94" width="9.97" height="9.71" fill="rgb(72,108,198)"/>
<rect x="143.06" y="192.94" width="9.97" height="9.71" fill="rgb(115,200,222)"/>
<rect x="152.03" y="192.94" width="8.97" height="9.71" fill="rgb(115,200,222)"/>
<rect x="98.20" y="201.65" width="9.97" height="9.71" fill="rgb(37,40,145)"/>
<rect x="107.17" y="201.65" width="9.97" height="9.71" fill="rgb(48,58,160)"/>
<rect x="116.14" y="201.65" width="9.97" height="9.71" fill="rgb(37,40,145)"/>
<rect x="125.11" y="201.65" width="9.97" height="9.71" fill="rgb(37,40,145)"/>
<rect x="134.09" y="201.65" width="9.97" height="9.71" fill="rgb(48,58,160)"/>
<rect x="143.06" y="201.65" width="9.97" height="9.71" fill="rgb(145,215,225)"/>
<rect x="152.03" y="201.65" width="8.97" height="9.71" fill="rgb(205,225,55)"/>
<rect x="98.20" y="210.36" width="9.97" height="9.71" fill="rgb(37,40,145)"/>
<rect x="107.17" y="210.36" width="9.97" height="9.71" fill="rgb(37,40,145)"/>
<rect x="116.14" y="210.36" width="9.97" height="9.71" fill="rgb(37,40,145)"/>
<rect x="125.11" y="210.36" width="9.97" height="9.71" fill="rgb(37,40,145)"/>
<rect x="134.09" y="210.36" width="9.97" height="9.71" fill="rgb(37,40,145)"/>
<rect x="143.06" y="210.36" width="9.97" height="9.71" fill="rgb(145,215,225)"/>
<rect x="152.03" y="210.36" width="8.97" height="9.71" fill="rgb(205,225,55)"/>
<rect x="98.20" y="219.07" width="9.97" height="9.71" fill="rgb(37,40,145)"/>
<rect x="107.17" y="219.07" width="9.97" height="9.71" fill="rgb(37,40,145)"/>
<rect x="116.14" y="219.07" width="9.97" height="9.71" fill="rgb(37,40,145)"/>
<rect x="125.11" y="219.07" width="9.97" height="9.71" fill="rgb(37,40,145)"/>
<rect x="134.09" y="219.07" width="9.97" height="9.71" fill="rgb(37,40,145)"/>
<rect x="143.06" y="219.07" width="9.97" height="9.71" fill="rgb(72,108,198)"/>
<rect x="152.03" y="219.07" width="8.97" height="9.71" fill="rgb(175,220,85)"/>
<rect x="98.20" y="227.78" width="9.97" height="9.71" fill="rgb(37,40,145)"/>
<rect x="107.17" y="227.78" width="9.97" height="9.71" fill="rgb(37,40,145)"/>
<rect x="116.14" y="227.78" width="9.97" height="9.71" fill="rgb(37,40,145)"/>
<rect x="125.11" y="227.78" width="9.97" height="9.71" fill="rgb(37,40,145)"/>
<rect x="134.09" y="227.78" width="9.97" height="9.71" fill="rgb(37,40,145)"/>
<rect x="143.06" y="227.78" width="9.97" height="9.71" fill="rgb(48,58,160)"/>
<rect x="152.03" y="227.78" width="8.97" height="9.71" fill="rgb(48,58,160)"/>
<rect x="98.20" y="236.49" width="9.97" height="8.71" fill="rgb(37,40,145)"/>
<rect x="107.17" y="236.49" width="9.97" height="8.71" fill="rgb(37,40,145)"/>
<rect x="116.14" y="236.49" width="9.97" height="8.71" fill="rgb(37,40,145)"/>
<rect x="125.11" y="236.49" width="9.97" height="8.71" fill="rgb(37,40,145)"/>
<rect x="134.09" y="236.49" width="9.97" height="8.71" fill="rgb(37,40,145)"/>
<rect x="143.06" y="236.49" width="9.97" height="8.71" fill="rgb(37,40,145)"/>
<rect x="152.03" y="236.49" width="8.97" height="8.71" fill="rgb(37,40,145)"/>
<g font-weight="bold">
<text x="102.69" y="164.15" font-size="4.7" text-anchor="middle" fill="rgba(255,255,255,0.62)">0</text>
<text x="111.66" y="164.15" font-size="4.7" text-anchor="middle" fill="rgba(255,255,255,0.62)">&#8211;1</text>
<text x="120.63" y="164.15" font-size="4.7" text-anchor="middle" fill="rgba(255,255,255,0.62)">&#8211;1</text>
<text x="129.60" y="164.15" font-size="4.7" text-anchor="middle" fill="rgba(255,255,255,0.62)">0</text>
<text x="138.57" y="164.15" font-size="4.7" text-anchor="middle" fill="rgba(255,255,255,0.62)">0</text>
<text x="147.54" y="164.15" font-size="4.7" text-anchor="middle" fill="rgba(255,255,255,0.62)">1</text>
<text x="156.51" y="164.15" font-size="4.7" text-anchor="middle" fill="rgba(255,255,255,0.62)">1</text>
<text x="102.69" y="172.86" font-size="4.7" text-anchor="middle" fill="rgba(255,255,255,0.62)">0</text>
<text x="111.66" y="172.86" font-size="4.7" text-anchor="middle" fill="rgba(255,255,255,0.62)">2</text>
<text x="120.63" y="172.86" font-size="4.7" text-anchor="middle" fill="rgba(255,255,255,0.62)">2</text>
<text x="129.60" y="172.86" font-size="4.7" text-anchor="middle" fill="rgba(255,255,255,0.62)">2</text>
<text x="138.57" y="172.86" font-size="4.7" text-anchor="middle" fill="rgba(255,255,255,0.62)">0</text>
<text x="147.54" y="172.86" font-size="4.7" text-anchor="middle" fill="rgba(255,255,255,0.62)">0</text>
<text x="156.51" y="172.86" font-size="4.7" text-anchor="middle" fill="rgba(255,255,255,0.62)">&#8211;1</text>
<text x="102.69" y="181.57" font-size="4.7" text-anchor="middle" fill="rgba(255,255,255,0.62)">0</text>
<text x="111.66" y="181.57" font-size="4.7" text-anchor="middle" fill="rgba(255,255,255,0.62)">3</text>
<text x="120.63" y="181.57" font-size="4.7" text-anchor="middle" fill="rgba(255,255,255,0.62)">5</text>
<text x="129.60" y="181.57" font-size="4.7" text-anchor="middle" fill="rgba(255,255,255,0.62)">5</text>
<text x="138.57" y="181.57" font-size="4.7" text-anchor="middle" fill="rgba(255,255,255,0.62)">5</text>
<text x="147.54" y="181.57" font-size="4.7" text-anchor="middle" fill="rgba(255,255,255,0.62)">3</text>
<text x="156.51" y="181.57" font-size="4.7" text-anchor="middle" fill="rgba(255,255,255,0.62)">2</text>
<text x="102.69" y="190.28" font-size="4.7" text-anchor="middle" fill="rgba(255,255,255,0.62)">0</text>
<text x="111.66" y="190.28" font-size="4.7" text-anchor="middle" fill="rgba(255,255,255,0.62)">4</text>
<text x="120.63" y="190.28" font-size="4.7" text-anchor="middle" fill="rgba(255,255,255,0.62)">5</text>
<text x="129.60" y="190.28" font-size="4.7" text-anchor="middle" fill="rgba(255,255,255,0.62)">7</text>
<text x="138.57" y="190.28" font-size="4.7" text-anchor="middle" fill="rgba(255,255,255,0.62)">7</text>
<text x="147.54" y="190.28" font-size="4.7" text-anchor="middle" fill="rgba(255,255,255,0.62)">6</text>
<text x="156.51" y="190.28" font-size="4.7" text-anchor="middle" fill="rgba(255,255,255,0.62)">6</text>
<text x="102.69" y="198.99" font-size="4.7" text-anchor="middle" fill="rgba(255,255,255,0.62)">0</text>
<text x="111.66" y="198.99" font-size="4.7" text-anchor="middle" fill="rgba(255,255,255,0.62)">5</text>
<text x="120.63" y="198.99" font-size="4.7" text-anchor="middle" fill="rgba(255,255,255,0.62)">4</text>
<text x="129.60" y="198.99" font-size="4.7" text-anchor="middle" fill="rgba(255,255,255,0.62)">5</text>
<text x="138.57" y="198.99" font-size="4.7" text-anchor="middle" fill="rgba(255,255,255,0.62)">8</text>
<text x="147.54" y="198.99" font-size="4.7" text-anchor="middle" fill="rgba(25,35,15,0.78)">9</text>
<text x="156.51" y="198.99" font-size="4.7" text-anchor="middle" fill="rgba(25,35,15,0.78)">11</text>
<text x="102.69" y="207.70" font-size="4.7" text-anchor="middle" fill="rgba(255,255,255,0.62)">0</text>
<text x="111.66" y="207.70" font-size="4.7" text-anchor="middle" fill="rgba(255,255,255,0.62)">&#8211;3</text>
<text x="120.63" y="207.70" font-size="4.7" text-anchor="middle" fill="rgba(255,255,255,0.62)">1</text>
<text x="129.60" y="207.70" font-size="4.7" text-anchor="middle" fill="rgba(255,255,255,0.62)">1</text>
<text x="138.57" y="207.70" font-size="4.7" text-anchor="middle" fill="rgba(255,255,255,0.62)">6</text>
<text x="147.54" y="207.70" font-size="4.7" text-anchor="middle" fill="rgba(25,35,15,0.78)">11</text>
<text x="156.51" y="207.70" font-size="4.7" text-anchor="middle" fill="rgba(25,35,15,0.78)">14</text>
<text x="102.69" y="216.41" font-size="4.7" text-anchor="middle" fill="rgba(255,255,255,0.62)">0</text>
<text x="111.66" y="216.41" font-size="4.7" text-anchor="middle" fill="rgba(255,255,255,0.62)">&#8211;3</text>
<text x="120.63" y="216.41" font-size="4.7" text-anchor="middle" fill="rgba(255,255,255,0.62)">&#8211;6</text>
<text x="129.60" y="216.41" font-size="4.7" text-anchor="middle" fill="rgba(255,255,255,0.62)">&#8211;6</text>
<text x="138.57" y="216.41" font-size="4.7" text-anchor="middle" fill="rgba(255,255,255,0.62)">&#8211;7</text>
<text x="147.54" y="216.41" font-size="4.7" text-anchor="middle" fill="rgba(25,35,15,0.78)">11</text>
<text x="156.51" y="216.41" font-size="4.7" text-anchor="middle" fill="rgba(25,35,15,0.78)">15</text>
<text x="102.69" y="225.12" font-size="4.7" text-anchor="middle" fill="rgba(255,255,255,0.62)">0</text>
<text x="111.66" y="225.12" font-size="4.7" text-anchor="middle" fill="rgba(255,255,255,0.62)">&#8211;5</text>
<text x="120.63" y="225.12" font-size="4.7" text-anchor="middle" fill="rgba(255,255,255,0.62)">&#8211;13</text>
<text x="129.60" y="225.12" font-size="4.7" text-anchor="middle" fill="rgba(255,255,255,0.62)">&#8211;12</text>
<text x="138.57" y="225.12" font-size="4.7" text-anchor="middle" fill="rgba(255,255,255,0.62)">&#8211;7</text>
<text x="147.54" y="225.12" font-size="4.7" text-anchor="middle" fill="rgba(255,255,255,0.62)">8</text>
<text x="156.51" y="225.12" font-size="4.7" text-anchor="middle" fill="rgba(25,35,15,0.78)">15</text>
<text x="102.69" y="233.83" font-size="4.7" text-anchor="middle" fill="rgba(255,255,255,0.62)">0</text>
<text x="111.66" y="233.83" font-size="4.7" text-anchor="middle" fill="rgba(255,255,255,0.62)">&#8211;8</text>
<text x="120.63" y="233.83" font-size="4.7" text-anchor="middle" fill="rgba(255,255,255,0.62)">&#8211;14</text>
<text x="129.60" y="233.83" font-size="4.7" text-anchor="middle" fill="rgba(255,255,255,0.62)">&#8211;15</text>
<text x="138.57" y="233.83" font-size="4.7" text-anchor="middle" fill="rgba(255,255,255,0.62)">&#8211;6</text>
<text x="147.54" y="233.83" font-size="4.7" text-anchor="middle" fill="rgba(255,255,255,0.62)">5</text>
<text x="156.51" y="233.83" font-size="4.7" text-anchor="middle" fill="rgba(255,255,255,0.62)">6</text>
<text x="102.69" y="242.54" font-size="4.7" text-anchor="middle" fill="rgba(255,255,255,0.62)">0</text>
<text x="111.66" y="242.54" font-size="4.7" text-anchor="middle" fill="rgba(255,255,255,0.62)">0</text>
<text x="120.63" y="242.54" font-size="4.7" text-anchor="middle" fill="rgba(255,255,255,0.62)">0</text>
<text x="129.60" y="242.54" font-size="4.7" text-anchor="middle" fill="rgba(255,255,255,0.62)">0</text>
<text x="138.57" y="242.54" font-size="4.7" text-anchor="middle" fill="rgba(255,255,255,0.62)">0</text>
<text x="147.54" y="242.54" font-size="4.7" text-anchor="middle" fill="rgba(255,255,255,0.62)">0</text>
<text x="156.51" y="242.54" font-size="4.7" text-anchor="middle" fill="rgba(255,255,255,0.62)">0</text>
</g>
</g>
<text x="129.60" y="155.80" font-size="5.60" text-anchor="middle" font-weight="normal" fill="#231f20" stroke="#231f20" stroke-width="0.18" >Delta Bliss</text>
<line x1="102.69" y1="245.70" x2="102.69" y2="247.40" stroke="#555" stroke-width="0.4"/>
<text transform="translate(103.99,249.30) rotate(-90)" font-size="3.7" font-weight="bold" text-anchor="end" fill="#1a1a1a" stroke="#1a1a1a" stroke-width="0.15">0</text>
<line x1="111.66" y1="245.70" x2="111.66" y2="247.40" stroke="#555" stroke-width="0.4"/>
<text transform="translate(112.96,249.30) rotate(-90)" font-size="3.7" font-weight="bold" text-anchor="end" fill="#1a1a1a" stroke="#1a1a1a" stroke-width="0.15">0.1</text>
<line x1="120.63" y1="245.70" x2="120.63" y2="247.40" stroke="#555" stroke-width="0.4"/>
<text transform="translate(121.93,249.30) rotate(-90)" font-size="3.7" font-weight="bold" text-anchor="end" fill="#1a1a1a" stroke="#1a1a1a" stroke-width="0.15">0.25</text>
<line x1="129.60" y1="245.70" x2="129.60" y2="247.40" stroke="#555" stroke-width="0.4"/>
<text transform="translate(130.90,249.30) rotate(-90)" font-size="3.7" font-weight="bold" text-anchor="end" fill="#1a1a1a" stroke="#1a1a1a" stroke-width="0.15">0.5</text>
<line x1="138.57" y1="245.70" x2="138.57" y2="247.40" stroke="#555" stroke-width="0.4"/>
<text transform="translate(139.87,249.30) rotate(-90)" font-size="3.7" font-weight="bold" text-anchor="end" fill="#1a1a1a" stroke="#1a1a1a" stroke-width="0.15">1</text>
<line x1="147.54" y1="245.70" x2="147.54" y2="247.40" stroke="#555" stroke-width="0.4"/>
<text transform="translate(148.84,249.30) rotate(-90)" font-size="3.7" font-weight="bold" text-anchor="end" fill="#1a1a1a" stroke="#1a1a1a" stroke-width="0.15">2</text>
<line x1="156.51" y1="245.70" x2="156.51" y2="247.40" stroke="#555" stroke-width="0.4"/>
<text transform="translate(157.81,249.30) rotate(-90)" font-size="3.7" font-weight="bold" text-anchor="end" fill="#1a1a1a" stroke="#1a1a1a" stroke-width="0.15">3</text>
<text x="129.40" y="263.00" font-size="5.55" text-anchor="middle" font-weight="normal" fill="#231f20" stroke="#231f20" stroke-width="0.18" >R428 (&#181;mol/L)</text>
<g filter="url(#gb)">
<rect x="165.90" y="158.10" width="10.16" height="9.71" fill="rgb(145,210,110)"/>
<rect x="175.06" y="158.10" width="10.16" height="9.71" fill="rgb(145,210,110)"/>
<rect x="184.21" y="158.10" width="10.16" height="9.71" fill="rgb(145,210,110)"/>
<rect x="193.37" y="158.10" width="10.16" height="9.71" fill="rgb(145,210,110)"/>
<rect x="202.53" y="158.10" width="10.16" height="9.71" fill="rgb(175,220,85)"/>
<rect x="211.69" y="158.10" width="10.16" height="9.71" fill="rgb(240,230,40)"/>
<rect x="220.84" y="158.10" width="9.16" height="9.71" fill="rgb(240,230,40)"/>
<rect x="165.90" y="166.81" width="10.16" height="9.71" fill="rgb(130,210,180)"/>
<rect x="175.06" y="166.81" width="10.16" height="9.71" fill="rgb(115,200,222)"/>
<rect x="184.21" y="166.81" width="10.16" height="9.71" fill="rgb(115,200,222)"/>
<rect x="193.37" y="166.81" width="10.16" height="9.71" fill="rgb(130,210,180)"/>
<rect x="202.53" y="166.81" width="10.16" height="9.71" fill="rgb(145,210,110)"/>
<rect x="211.69" y="166.81" width="10.16" height="9.71" fill="rgb(205,225,55)"/>
<rect x="220.84" y="166.81" width="9.16" height="9.71" fill="rgb(240,230,40)"/>
<rect x="165.90" y="175.52" width="10.16" height="9.71" fill="rgb(115,200,222)"/>
<rect x="175.06" y="175.52" width="10.16" height="9.71" fill="rgb(115,200,222)"/>
<rect x="184.21" y="175.52" width="10.16" height="9.71" fill="rgb(115,200,222)"/>
<rect x="193.37" y="175.52" width="10.16" height="9.71" fill="rgb(115,200,222)"/>
<rect x="202.53" y="175.52" width="10.16" height="9.71" fill="rgb(130,210,180)"/>
<rect x="211.69" y="175.52" width="10.16" height="9.71" fill="rgb(205,225,55)"/>
<rect x="220.84" y="175.52" width="9.16" height="9.71" fill="rgb(240,230,40)"/>
<rect x="165.90" y="184.23" width="10.16" height="9.71" fill="rgb(85,155,215)"/>
<rect x="175.06" y="184.23" width="10.16" height="9.71" fill="rgb(115,200,222)"/>
<rect x="184.21" y="184.23" width="10.16" height="9.71" fill="rgb(115,200,222)"/>
<rect x="193.37" y="184.23" width="10.16" height="9.71" fill="rgb(115,200,222)"/>
<rect x="202.53" y="184.23" width="10.16" height="9.71" fill="rgb(115,200,222)"/>
<rect x="211.69" y="184.23" width="10.16" height="9.71" fill="rgb(205,225,55)"/>
<rect x="220.84" y="184.23" width="9.16" height="9.71" fill="rgb(205,225,55)"/>
<rect x="165.90" y="192.94" width="10.16" height="9.71" fill="rgb(72,108,198)"/>
<rect x="175.06" y="192.94" width="10.16" height="9.71" fill="rgb(72,108,198)"/>
<rect x="184.21" y="192.94" width="10.16" height="9.71" fill="rgb(85,155,215)"/>
<rect x="193.37" y="192.94" width="10.16" height="9.71" fill="rgb(115,200,222)"/>
<rect x="202.53" y="192.94" width="10.16" height="9.71" fill="rgb(115,200,222)"/>
<rect x="211.69" y="192.94" width="10.16" height="9.71" fill="rgb(205,225,55)"/>
<rect x="220.84" y="192.94" width="9.16" height="9.71" fill="rgb(205,225,55)"/>
<rect x="165.90" y="201.65" width="10.16" height="9.71" fill="rgb(60,80,182)"/>
<rect x="175.06" y="201.65" width="10.16" height="9.71" fill="rgb(60,80,182)"/>
<rect x="184.21" y="201.65" width="10.16" height="9.71" fill="rgb(72,108,198)"/>
<rect x="193.37" y="201.65" width="10.16" height="9.71" fill="rgb(85,155,215)"/>
<rect x="202.53" y="201.65" width="10.16" height="9.71" fill="rgb(115,200,222)"/>
<rect x="211.69" y="201.65" width="10.16" height="9.71" fill="rgb(145,210,110)"/>
<rect x="220.84" y="201.65" width="9.16" height="9.71" fill="rgb(205,225,55)"/>
<rect x="165.90" y="210.36" width="10.16" height="9.71" fill="rgb(48,58,160)"/>
<rect x="175.06" y="210.36" width="10.16" height="9.71" fill="rgb(48,58,160)"/>
<rect x="184.21" y="210.36" width="10.16" height="9.71" fill="rgb(48,58,160)"/>
<rect x="193.37" y="210.36" width="10.16" height="9.71" fill="rgb(60,80,182)"/>
<rect x="202.53" y="210.36" width="10.16" height="9.71" fill="rgb(72,108,198)"/>
<rect x="211.69" y="210.36" width="10.16" height="9.71" fill="rgb(115,200,222)"/>
<rect x="220.84" y="210.36" width="9.16" height="9.71" fill="rgb(175,220,85)"/>
<rect x="165.90" y="219.07" width="10.16" height="9.71" fill="rgb(37,40,145)"/>
<rect x="175.06" y="219.07" width="10.16" height="9.71" fill="rgb(37,40,145)"/>
<rect x="184.21" y="219.07" width="10.16" height="9.71" fill="rgb(37,40,145)"/>
<rect x="193.37" y="219.07" width="10.16" height="9.71" fill="rgb(48,58,160)"/>
<rect x="202.53" y="219.07" width="10.16" height="9.71" fill="rgb(60,80,182)"/>
<rect x="211.69" y="219.07" width="10.16" height="9.71" fill="rgb(72,108,198)"/>
<rect x="220.84" y="219.07" width="9.16" height="9.71" fill="rgb(115,200,222)"/>
<rect x="165.90" y="227.78" width="10.16" height="9.71" fill="rgb(37,40,145)"/>
<rect x="175.06" y="227.78" width="10.16" height="9.71" fill="rgb(37,40,145)"/>
<rect x="184.21" y="227.78" width="10.16" height="9.71" fill="rgb(37,40,145)"/>
<rect x="193.37" y="227.78" width="10.16" height="9.71" fill="rgb(37,40,145)"/>
<rect x="202.53" y="227.78" width="10.16" height="9.71" fill="rgb(48,58,160)"/>
<rect x="211.69" y="227.78" width="10.16" height="9.71" fill="rgb(60,80,182)"/>
<rect x="220.84" y="227.78" width="9.16" height="9.71" fill="rgb(85,155,215)"/>
<rect x="165.90" y="236.49" width="10.16" height="8.71" fill="rgb(37,40,145)"/>
<rect x="175.06" y="236.49" width="10.16" height="8.71" fill="rgb(37,40,145)"/>
<rect x="184.21" y="236.49" width="10.16" height="8.71" fill="rgb(37,40,145)"/>
<rect x="193.37" y="236.49" width="10.16" height="8.71" fill="rgb(37,40,145)"/>
<rect x="202.53" y="236.49" width="10.16" height="8.71" fill="rgb(37,40,145)"/>
<rect x="211.69" y="236.49" width="10.16" height="8.71" fill="rgb(48,58,160)"/>
<rect x="220.84" y="236.49" width="9.16" height="8.71" fill="rgb(60,80,182)"/>
<g font-weight="bold">
<text x="170.48" y="164.15" font-size="4.7" text-anchor="middle" fill="rgba(25,35,15,0.78)">48</text>
<text x="179.64" y="164.15" font-size="4.7" text-anchor="middle" fill="rgba(25,35,15,0.78)">45</text>
<text x="188.79" y="164.15" font-size="4.7" text-anchor="middle" fill="rgba(25,35,15,0.78)">45</text>
<text x="197.95" y="164.15" font-size="4.7" text-anchor="middle" fill="rgba(25,35,15,0.78)">47</text>
<text x="207.11" y="164.15" font-size="4.7" text-anchor="middle" fill="rgba(25,35,15,0.78)">51</text>
<text x="216.26" y="164.15" font-size="4.7" text-anchor="middle" fill="rgba(25,35,15,0.78)">59</text>
<text x="225.42" y="164.15" font-size="4.7" text-anchor="middle" fill="rgba(25,35,15,0.78)">64</text>
<text x="170.48" y="172.86" font-size="4.7" text-anchor="middle" fill="rgba(25,35,15,0.78)">48</text>
<text x="179.64" y="172.86" font-size="4.7" text-anchor="middle" fill="rgba(25,35,15,0.78)">39</text>
<text x="188.79" y="172.86" font-size="4.7" text-anchor="middle" fill="rgba(25,35,15,0.78)">39</text>
<text x="197.95" y="172.86" font-size="4.7" text-anchor="middle" fill="rgba(25,35,15,0.78)">41</text>
<text x="207.11" y="172.86" font-size="4.7" text-anchor="middle" fill="rgba(25,35,15,0.78)">47</text>
<text x="216.26" y="172.86" font-size="4.7" text-anchor="middle" fill="rgba(25,35,15,0.78)">55</text>
<text x="225.42" y="172.86" font-size="4.7" text-anchor="middle" fill="rgba(25,35,15,0.78)">60</text>
<text x="170.48" y="181.57" font-size="4.7" text-anchor="middle" fill="rgba(25,35,15,0.78)">39</text>
<text x="179.64" y="181.57" font-size="4.7" text-anchor="middle" fill="rgba(25,35,15,0.78)">36</text>
<text x="188.79" y="181.57" font-size="4.7" text-anchor="middle" fill="rgba(25,35,15,0.78)">36</text>
<text x="197.95" y="181.57" font-size="4.7" text-anchor="middle" fill="rgba(25,35,15,0.78)">38</text>
<text x="207.11" y="181.57" font-size="4.7" text-anchor="middle" fill="rgba(25,35,15,0.78)">45</text>
<text x="216.26" y="181.57" font-size="4.7" text-anchor="middle" fill="rgba(25,35,15,0.78)">53</text>
<text x="225.42" y="181.57" font-size="4.7" text-anchor="middle" fill="rgba(25,35,15,0.78)">58</text>
<text x="170.48" y="190.28" font-size="4.7" text-anchor="middle" fill="rgba(255,255,255,0.62)">29</text>
<text x="179.64" y="190.28" font-size="4.7" text-anchor="middle" fill="rgba(25,35,15,0.78)">31</text>
<text x="188.79" y="190.28" font-size="4.7" text-anchor="middle" fill="rgba(25,35,15,0.78)">32</text>
<text x="197.95" y="190.28" font-size="4.7" text-anchor="middle" fill="rgba(25,35,15,0.78)">36</text>
<text x="207.11" y="190.28" font-size="4.7" text-anchor="middle" fill="rgba(25,35,15,0.78)">40</text>
<text x="216.26" y="190.28" font-size="4.7" text-anchor="middle" fill="rgba(25,35,15,0.78)">52</text>
<text x="225.42" y="190.28" font-size="4.7" text-anchor="middle" fill="rgba(25,35,15,0.78)">56</text>
<text x="170.48" y="198.99" font-size="4.7" text-anchor="middle" fill="rgba(255,255,255,0.62)">21</text>
<text x="179.64" y="198.99" font-size="4.7" text-anchor="middle" fill="rgba(255,255,255,0.62)">25</text>
<text x="188.79" y="198.99" font-size="4.7" text-anchor="middle" fill="rgba(255,255,255,0.62)">28</text>
<text x="197.95" y="198.99" font-size="4.7" text-anchor="middle" fill="rgba(25,35,15,0.78)">32</text>
<text x="207.11" y="198.99" font-size="4.7" text-anchor="middle" fill="rgba(25,35,15,0.78)">40</text>
<text x="216.26" y="198.99" font-size="4.7" text-anchor="middle" fill="rgba(25,35,15,0.78)">50</text>
<text x="225.42" y="198.99" font-size="4.7" text-anchor="middle" fill="rgba(25,35,15,0.78)">58</text>
<text x="170.48" y="207.70" font-size="4.7" text-anchor="middle" fill="rgba(255,255,255,0.62)">15</text>
<text x="179.64" y="207.70" font-size="4.7" text-anchor="middle" fill="rgba(255,255,255,0.62)">18</text>
<text x="188.79" y="207.70" font-size="4.7" text-anchor="middle" fill="rgba(255,255,255,0.62)">22</text>
<text x="197.95" y="207.70" font-size="4.7" text-anchor="middle" fill="rgba(255,255,255,0.62)">27</text>
<text x="207.11" y="207.70" font-size="4.7" text-anchor="middle" fill="rgba(25,35,15,0.78)">35</text>
<text x="216.26" y="207.70" font-size="4.7" text-anchor="middle" fill="rgba(25,35,15,0.78)">47</text>
<text x="225.42" y="207.70" font-size="4.7" text-anchor="middle" fill="rgba(25,35,15,0.78)">57</text>
<text x="170.48" y="216.41" font-size="4.7" text-anchor="middle" fill="rgba(255,255,255,0.62)">10</text>
<text x="179.64" y="216.41" font-size="4.7" text-anchor="middle" fill="rgba(255,255,255,0.62)">9</text>
<text x="188.79" y="216.41" font-size="4.7" text-anchor="middle" fill="rgba(255,255,255,0.62)">11</text>
<text x="197.95" y="216.41" font-size="4.7" text-anchor="middle" fill="rgba(255,255,255,0.62)">16</text>
<text x="207.11" y="216.41" font-size="4.7" text-anchor="middle" fill="rgba(255,255,255,0.62)">24</text>
<text x="216.26" y="216.41" font-size="4.7" text-anchor="middle" fill="rgba(25,35,15,0.78)">38</text>
<text x="225.42" y="216.41" font-size="4.7" text-anchor="middle" fill="rgba(25,35,15,0.78)">49</text>
<text x="170.48" y="225.12" font-size="4.7" text-anchor="middle" fill="rgba(255,255,255,0.62)">0</text>
<text x="179.64" y="225.12" font-size="4.7" text-anchor="middle" fill="rgba(255,255,255,0.62)">3</text>
<text x="188.79" y="225.12" font-size="4.7" text-anchor="middle" fill="rgba(255,255,255,0.62)">3</text>
<text x="197.95" y="225.12" font-size="4.7" text-anchor="middle" fill="rgba(255,255,255,0.62)">5</text>
<text x="207.11" y="225.12" font-size="4.7" text-anchor="middle" fill="rgba(255,255,255,0.62)">14</text>
<text x="216.26" y="225.12" font-size="4.7" text-anchor="middle" fill="rgba(255,255,255,0.62)">26</text>
<text x="225.42" y="225.12" font-size="4.7" text-anchor="middle" fill="rgba(25,35,15,0.78)">41</text>
<text x="170.48" y="233.83" font-size="4.7" text-anchor="middle" fill="rgba(255,255,255,0.62)">4</text>
<text x="179.64" y="233.83" font-size="4.7" text-anchor="middle" fill="rgba(255,255,255,0.62)">0</text>
<text x="188.79" y="233.83" font-size="4.7" text-anchor="middle" fill="rgba(255,255,255,0.62)">0</text>
<text x="197.95" y="233.83" font-size="4.7" text-anchor="middle" fill="rgba(255,255,255,0.62)">0</text>
<text x="207.11" y="233.83" font-size="4.7" text-anchor="middle" fill="rgba(255,255,255,0.62)">6</text>
<text x="216.26" y="233.83" font-size="4.7" text-anchor="middle" fill="rgba(255,255,255,0.62)">19</text>
<text x="225.42" y="233.83" font-size="4.7" text-anchor="middle" fill="rgba(255,255,255,0.62)">34</text>
<text x="170.48" y="242.54" font-size="4.7" text-anchor="middle" fill="rgba(255,255,255,0.62)">0</text>
<text x="179.64" y="242.54" font-size="4.7" text-anchor="middle" fill="rgba(255,255,255,0.62)">0</text>
<text x="188.79" y="242.54" font-size="4.7" text-anchor="middle" fill="rgba(255,255,255,0.62)">0</text>
<text x="197.95" y="242.54" font-size="4.7" text-anchor="middle" fill="rgba(255,255,255,0.62)">0</text>
<text x="207.11" y="242.54" font-size="4.7" text-anchor="middle" fill="rgba(255,255,255,0.62)">0</text>
<text x="216.26" y="242.54" font-size="4.7" text-anchor="middle" fill="rgba(255,255,255,0.62)">5</text>
<text x="225.42" y="242.54" font-size="4.7" text-anchor="middle" fill="rgba(255,255,255,0.62)">12</text>
</g>
</g>
<text x="197.95" y="155.80" font-size="5.60" text-anchor="middle" font-weight="normal" fill="#231f20" stroke="#231f20" stroke-width="0.18" >Percentage inhibition</text>
<line x1="170.48" y1="245.70" x2="170.48" y2="247.40" stroke="#555" stroke-width="0.4"/>
<text transform="translate(171.78,249.30) rotate(-90)" font-size="3.7" font-weight="bold" text-anchor="end" fill="#1a1a1a" stroke="#1a1a1a" stroke-width="0.15">0</text>
<line x1="179.64" y1="245.70" x2="179.64" y2="247.40" stroke="#555" stroke-width="0.4"/>
<text transform="translate(180.94,249.30) rotate(-90)" font-size="3.7" font-weight="bold" text-anchor="end" fill="#1a1a1a" stroke="#1a1a1a" stroke-width="0.15">0.1</text>
<line x1="188.79" y1="245.70" x2="188.79" y2="247.40" stroke="#555" stroke-width="0.4"/>
<text transform="translate(190.09,249.30) rotate(-90)" font-size="3.7" font-weight="bold" text-anchor="end" fill="#1a1a1a" stroke="#1a1a1a" stroke-width="0.15">0.25</text>
<line x1="197.95" y1="245.70" x2="197.95" y2="247.40" stroke="#555" stroke-width="0.4"/>
<text transform="translate(199.25,249.30) rotate(-90)" font-size="3.7" font-weight="bold" text-anchor="end" fill="#1a1a1a" stroke="#1a1a1a" stroke-width="0.15">0.5</text>
<line x1="207.11" y1="245.70" x2="207.11" y2="247.40" stroke="#555" stroke-width="0.4"/>
<text transform="translate(208.41,249.30) rotate(-90)" font-size="3.7" font-weight="bold" text-anchor="end" fill="#1a1a1a" stroke="#1a1a1a" stroke-width="0.15">1</text>
<line x1="216.26" y1="245.70" x2="216.26" y2="247.40" stroke="#555" stroke-width="0.4"/>
<text transform="translate(217.56,249.30) rotate(-90)" font-size="3.7" font-weight="bold" text-anchor="end" fill="#1a1a1a" stroke="#1a1a1a" stroke-width="0.15">2</text>
<line x1="225.42" y1="245.70" x2="225.42" y2="247.40" stroke="#555" stroke-width="0.4"/>
<text transform="translate(226.72,249.30) rotate(-90)" font-size="3.7" font-weight="bold" text-anchor="end" fill="#1a1a1a" stroke="#1a1a1a" stroke-width="0.15">3</text>
<text x="199.35" y="263.00" font-size="5.55" text-anchor="middle" font-weight="normal" fill="#231f20" stroke="#231f20" stroke-width="0.18" >R428 (&#181;mol/L)</text>
<g filter="url(#gb)">
<rect x="232.10" y="158.10" width="9.87" height="9.71" fill="rgb(37,40,145)"/>
<rect x="240.97" y="158.10" width="9.87" height="9.71" fill="rgb(37,40,145)"/>
<rect x="249.84" y="158.10" width="9.87" height="9.71" fill="rgb(37,40,145)"/>
<rect x="258.71" y="158.10" width="9.87" height="9.71" fill="rgb(48,58,160)"/>
<rect x="267.59" y="158.10" width="9.87" height="9.71" fill="rgb(60,80,182)"/>
<rect x="276.46" y="158.10" width="9.87" height="9.71" fill="rgb(72,108,198)"/>
<rect x="285.33" y="158.10" width="8.87" height="9.71" fill="rgb(85,155,215)"/>
<rect x="232.10" y="166.81" width="9.87" height="9.71" fill="rgb(37,40,145)"/>
<rect x="240.97" y="166.81" width="9.87" height="9.71" fill="rgb(37,40,145)"/>
<rect x="249.84" y="166.81" width="9.87" height="9.71" fill="rgb(37,40,145)"/>
<rect x="258.71" y="166.81" width="9.87" height="9.71" fill="rgb(48,58,160)"/>
<rect x="267.59" y="166.81" width="9.87" height="9.71" fill="rgb(60,80,182)"/>
<rect x="276.46" y="166.81" width="9.87" height="9.71" fill="rgb(130,210,180)"/>
<rect x="285.33" y="166.81" width="8.87" height="9.71" fill="rgb(130,210,180)"/>
<rect x="232.10" y="175.52" width="9.87" height="9.71" fill="rgb(37,40,145)"/>
<rect x="240.97" y="175.52" width="9.87" height="9.71" fill="rgb(48,58,160)"/>
<rect x="249.84" y="175.52" width="9.87" height="9.71" fill="rgb(48,58,160)"/>
<rect x="258.71" y="175.52" width="9.87" height="9.71" fill="rgb(48,58,160)"/>
<rect x="267.59" y="175.52" width="9.87" height="9.71" fill="rgb(115,200,222)"/>
<rect x="276.46" y="175.52" width="9.87" height="9.71" fill="rgb(175,220,85)"/>
<rect x="285.33" y="175.52" width="8.87" height="9.71" fill="rgb(175,220,85)"/>
<rect x="232.10" y="184.23" width="9.87" height="9.71" fill="rgb(37,40,145)"/>
<rect x="240.97" y="184.23" width="9.87" height="9.71" fill="rgb(48,58,160)"/>
<rect x="249.84" y="184.23" width="9.87" height="9.71" fill="rgb(60,80,182)"/>
<rect x="258.71" y="184.23" width="9.87" height="9.71" fill="rgb(60,80,182)"/>
<rect x="267.59" y="184.23" width="9.87" height="9.71" fill="rgb(130,210,180)"/>
<rect x="276.46" y="184.23" width="9.87" height="9.71" fill="rgb(248,198,38)"/>
<rect x="285.33" y="184.23" width="8.87" height="9.71" fill="rgb(248,198,38)"/>
<rect x="232.10" y="192.94" width="9.87" height="9.71" fill="rgb(37,40,145)"/>
<rect x="240.97" y="192.94" width="9.87" height="9.71" fill="rgb(60,80,182)"/>
<rect x="249.84" y="192.94" width="9.87" height="9.71" fill="rgb(60,80,182)"/>
<rect x="258.71" y="192.94" width="9.87" height="9.71" fill="rgb(115,200,222)"/>
<rect x="267.59" y="192.94" width="9.87" height="9.71" fill="rgb(240,230,40)"/>
<rect x="276.46" y="192.94" width="9.87" height="9.71" fill="rgb(225,38,35)"/>
<rect x="285.33" y="192.94" width="8.87" height="9.71" fill="rgb(225,38,35)"/>
<rect x="232.10" y="201.65" width="9.87" height="9.71" fill="rgb(37,40,145)"/>
<rect x="240.97" y="201.65" width="9.87" height="9.71" fill="rgb(60,80,182)"/>
<rect x="249.84" y="201.65" width="9.87" height="9.71" fill="rgb(60,80,182)"/>
<rect x="258.71" y="201.65" width="9.87" height="9.71" fill="rgb(145,215,225)"/>
<rect x="267.59" y="201.65" width="9.87" height="9.71" fill="rgb(240,230,40)"/>
<rect x="276.46" y="201.65" width="9.87" height="9.71" fill="rgb(225,38,35)"/>
<rect x="285.33" y="201.65" width="8.87" height="9.71" fill="rgb(156,22,27)"/>
<rect x="232.10" y="210.36" width="9.87" height="9.71" fill="rgb(37,40,145)"/>
<rect x="240.97" y="210.36" width="9.87" height="9.71" fill="rgb(48,58,160)"/>
<rect x="249.84" y="210.36" width="9.87" height="9.71" fill="rgb(48,58,160)"/>
<rect x="258.71" y="210.36" width="9.87" height="9.71" fill="rgb(60,80,182)"/>
<rect x="267.59" y="210.36" width="9.87" height="9.71" fill="rgb(145,210,110)"/>
<rect x="276.46" y="210.36" width="9.87" height="9.71" fill="rgb(233,75,33)"/>
<rect x="285.33" y="210.36" width="8.87" height="9.71" fill="rgb(156,22,27)"/>
<rect x="232.10" y="219.07" width="9.87" height="9.71" fill="rgb(37,40,145)"/>
<rect x="240.97" y="219.07" width="9.87" height="9.71" fill="rgb(37,40,145)"/>
<rect x="249.84" y="219.07" width="9.87" height="9.71" fill="rgb(37,40,145)"/>
<rect x="258.71" y="219.07" width="9.87" height="9.71" fill="rgb(37,40,145)"/>
<rect x="267.59" y="219.07" width="9.87" height="9.71" fill="rgb(72,108,198)"/>
<rect x="276.46" y="219.07" width="9.87" height="9.71" fill="rgb(240,230,40)"/>
<rect x="285.33" y="219.07" width="8.87" height="9.71" fill="rgb(245,145,35)"/>
<rect x="232.10" y="227.78" width="9.87" height="9.71" fill="rgb(37,40,145)"/>
<rect x="240.97" y="227.78" width="9.87" height="9.71" fill="rgb(37,40,145)"/>
<rect x="249.84" y="227.78" width="9.87" height="9.71" fill="rgb(37,40,145)"/>
<rect x="258.71" y="227.78" width="9.87" height="9.71" fill="rgb(37,40,145)"/>
<rect x="267.59" y="227.78" width="9.87" height="9.71" fill="rgb(48,58,160)"/>
<rect x="276.46" y="227.78" width="9.87" height="9.71" fill="rgb(85,155,215)"/>
<rect x="285.33" y="227.78" width="8.87" height="9.71" fill="rgb(130,210,180)"/>
<rect x="232.10" y="236.49" width="9.87" height="8.71" fill="rgb(37,40,145)"/>
<rect x="240.97" y="236.49" width="9.87" height="8.71" fill="rgb(37,40,145)"/>
<rect x="249.84" y="236.49" width="9.87" height="8.71" fill="rgb(37,40,145)"/>
<rect x="258.71" y="236.49" width="9.87" height="8.71" fill="rgb(37,40,145)"/>
<rect x="267.59" y="236.49" width="9.87" height="8.71" fill="rgb(37,40,145)"/>
<rect x="276.46" y="236.49" width="9.87" height="8.71" fill="rgb(37,40,145)"/>
<rect x="285.33" y="236.49" width="8.87" height="8.71" fill="rgb(37,40,145)"/>
<g font-weight="bold">
<text x="236.54" y="164.15" font-size="4.7" text-anchor="middle" fill="rgba(255,255,255,0.62)">0</text>
<text x="245.41" y="164.15" font-size="4.7" text-anchor="middle" fill="rgba(255,255,255,0.62)">&#8211;3</text>
<text x="254.28" y="164.15" font-size="4.7" text-anchor="middle" fill="rgba(255,255,255,0.62)">&#8211;3</text>
<text x="263.15" y="164.15" font-size="4.7" text-anchor="middle" fill="rgba(255,255,255,0.62)">&#8211;1</text>
<text x="272.02" y="164.15" font-size="4.7" text-anchor="middle" fill="rgba(255,255,255,0.62)">2</text>
<text x="280.89" y="164.15" font-size="4.7" text-anchor="middle" fill="rgba(255,255,255,0.62)">7</text>
<text x="289.76" y="164.15" font-size="4.7" text-anchor="middle" fill="rgba(255,255,255,0.62)">9</text>
<text x="236.54" y="172.86" font-size="4.7" text-anchor="middle" fill="rgba(255,255,255,0.62)">0</text>
<text x="245.41" y="172.86" font-size="4.7" text-anchor="middle" fill="rgba(255,255,255,0.62)">0</text>
<text x="254.28" y="172.86" font-size="4.7" text-anchor="middle" fill="rgba(255,255,255,0.62)">&#8211;1</text>
<text x="263.15" y="172.86" font-size="4.7" text-anchor="middle" fill="rgba(255,255,255,0.62)">1</text>
<text x="272.02" y="172.86" font-size="4.7" text-anchor="middle" fill="rgba(255,255,255,0.62)">7</text>
<text x="280.89" y="172.86" font-size="4.7" text-anchor="middle" fill="rgba(25,35,15,0.78)">12</text>
<text x="289.76" y="172.86" font-size="4.7" text-anchor="middle" fill="rgba(25,35,15,0.78)">13</text>
<text x="236.54" y="181.57" font-size="4.7" text-anchor="middle" fill="rgba(255,255,255,0.62)">0</text>
<text x="245.41" y="181.57" font-size="4.7" text-anchor="middle" fill="rgba(255,255,255,0.62)">1</text>
<text x="254.28" y="181.57" font-size="4.7" text-anchor="middle" fill="rgba(255,255,255,0.62)">1</text>
<text x="263.15" y="181.57" font-size="4.7" text-anchor="middle" fill="rgba(255,255,255,0.62)">2</text>
<text x="272.02" y="181.57" font-size="4.7" text-anchor="middle" fill="rgba(25,35,15,0.78)">13</text>
<text x="280.89" y="181.57" font-size="4.7" text-anchor="middle" fill="rgba(25,35,15,0.78)">15</text>
<text x="289.76" y="181.57" font-size="4.7" text-anchor="middle" fill="rgba(25,35,15,0.78)">16</text>
<text x="236.54" y="190.28" font-size="4.7" text-anchor="middle" fill="rgba(255,255,255,0.62)">0</text>
<text x="245.41" y="190.28" font-size="4.7" text-anchor="middle" fill="rgba(255,255,255,0.62)">2</text>
<text x="254.28" y="190.28" font-size="4.7" text-anchor="middle" fill="rgba(255,255,255,0.62)">6</text>
<text x="263.15" y="190.28" font-size="4.7" text-anchor="middle" fill="rgba(255,255,255,0.62)">7</text>
<text x="272.02" y="190.28" font-size="4.7" text-anchor="middle" fill="rgba(25,35,15,0.78)">14</text>
<text x="280.89" y="190.28" font-size="4.7" text-anchor="middle" fill="rgba(25,35,15,0.78)">20</text>
<text x="289.76" y="190.28" font-size="4.7" text-anchor="middle" fill="rgba(25,35,15,0.78)">21</text>
<text x="236.54" y="198.99" font-size="4.7" text-anchor="middle" fill="rgba(255,255,255,0.62)">0</text>
<text x="245.41" y="198.99" font-size="4.7" text-anchor="middle" fill="rgba(255,255,255,0.62)">4</text>
<text x="254.28" y="198.99" font-size="4.7" text-anchor="middle" fill="rgba(255,255,255,0.62)">7</text>
<text x="263.15" y="198.99" font-size="4.7" text-anchor="middle" fill="rgba(25,35,15,0.78)">11</text>
<text x="272.02" y="198.99" font-size="4.7" text-anchor="middle" fill="rgba(25,35,15,0.78)">19</text>
<text x="280.89" y="198.99" font-size="4.7" text-anchor="middle" fill="rgba(255,255,255,0.62)">26</text>
<text x="289.76" y="198.99" font-size="4.7" text-anchor="middle" fill="rgba(255,255,255,0.62)">26</text>
<text x="236.54" y="207.70" font-size="4.7" text-anchor="middle" fill="rgba(255,255,255,0.62)">0</text>
<text x="245.41" y="207.70" font-size="4.7" text-anchor="middle" fill="rgba(255,255,255,0.62)">5</text>
<text x="254.28" y="207.70" font-size="4.7" text-anchor="middle" fill="rgba(255,255,255,0.62)">8</text>
<text x="263.15" y="207.70" font-size="4.7" text-anchor="middle" fill="rgba(25,35,15,0.78)">12</text>
<text x="272.02" y="207.70" font-size="4.7" text-anchor="middle" fill="rgba(25,35,15,0.78)">20</text>
<text x="280.89" y="207.70" font-size="4.7" text-anchor="middle" fill="rgba(255,255,255,0.62)">27</text>
<text x="289.76" y="207.70" font-size="4.7" text-anchor="middle" fill="rgba(255,255,255,0.62)">31</text>
<text x="236.54" y="216.41" font-size="4.7" text-anchor="middle" fill="rgba(255,255,255,0.62)">0</text>
<text x="245.41" y="216.41" font-size="4.7" text-anchor="middle" fill="rgba(255,255,255,0.62)">0</text>
<text x="254.28" y="216.41" font-size="4.7" text-anchor="middle" fill="rgba(255,255,255,0.62)">2</text>
<text x="263.15" y="216.41" font-size="4.7" text-anchor="middle" fill="rgba(255,255,255,0.62)">6</text>
<text x="272.02" y="216.41" font-size="4.7" text-anchor="middle" fill="rgba(25,35,15,0.78)">15</text>
<text x="280.89" y="216.41" font-size="4.7" text-anchor="middle" fill="rgba(25,35,15,0.78)">26</text>
<text x="289.76" y="216.41" font-size="4.7" text-anchor="middle" fill="rgba(255,255,255,0.62)">29</text>
<text x="236.54" y="225.12" font-size="4.7" text-anchor="middle" fill="rgba(255,255,255,0.62)">0</text>
<text x="245.41" y="225.12" font-size="4.7" text-anchor="middle" fill="rgba(255,255,255,0.62)">&#8211;3</text>
<text x="254.28" y="225.12" font-size="4.7" text-anchor="middle" fill="rgba(255,255,255,0.62)">&#8211;3</text>
<text x="263.15" y="225.12" font-size="4.7" text-anchor="middle" fill="rgba(255,255,255,0.62)">0</text>
<text x="272.02" y="225.12" font-size="4.7" text-anchor="middle" fill="rgba(255,255,255,0.62)">8</text>
<text x="280.89" y="225.12" font-size="4.7" text-anchor="middle" fill="rgba(25,35,15,0.78)">17</text>
<text x="289.76" y="225.12" font-size="4.7" text-anchor="middle" fill="rgba(25,35,15,0.78)">21</text>
<text x="236.54" y="233.83" font-size="4.7" text-anchor="middle" fill="rgba(255,255,255,0.62)">0</text>
<text x="245.41" y="233.83" font-size="4.7" text-anchor="middle" fill="rgba(255,255,255,0.62)">&#8211;4</text>
<text x="254.28" y="233.83" font-size="4.7" text-anchor="middle" fill="rgba(255,255,255,0.62)">&#8211;4</text>
<text x="263.15" y="233.83" font-size="4.7" text-anchor="middle" fill="rgba(255,255,255,0.62)">&#8211;4</text>
<text x="272.02" y="233.83" font-size="4.7" text-anchor="middle" fill="rgba(255,255,255,0.62)">1</text>
<text x="280.89" y="233.83" font-size="4.7" text-anchor="middle" fill="rgba(255,255,255,0.62)">8</text>
<text x="289.76" y="233.83" font-size="4.7" text-anchor="middle" fill="rgba(25,35,15,0.78)">13</text>
<text x="236.54" y="242.54" font-size="4.7" text-anchor="middle" fill="rgba(255,255,255,0.62)">0</text>
<text x="245.41" y="242.54" font-size="4.7" text-anchor="middle" fill="rgba(255,255,255,0.62)">0</text>
<text x="254.28" y="242.54" font-size="4.7" text-anchor="middle" fill="rgba(255,255,255,0.62)">0</text>
<text x="263.15" y="242.54" font-size="4.7" text-anchor="middle" fill="rgba(255,255,255,0.62)">0</text>
<text x="272.02" y="242.54" font-size="4.7" text-anchor="middle" fill="rgba(255,255,255,0.62)">0</text>
<text x="280.89" y="242.54" font-size="4.7" text-anchor="middle" fill="rgba(255,255,255,0.62)">0</text>
<text x="289.76" y="242.54" font-size="4.7" text-anchor="middle" fill="rgba(255,255,255,0.62)">0</text>
</g>
</g>
<text x="263.15" y="155.80" font-size="5.60" text-anchor="middle" font-weight="normal" fill="#231f20" stroke="#231f20" stroke-width="0.18" >Delta Bliss</text>
<line x1="236.54" y1="245.70" x2="236.54" y2="247.40" stroke="#555" stroke-width="0.4"/>
<text transform="translate(237.84,249.30) rotate(-90)" font-size="3.7" font-weight="bold" text-anchor="end" fill="#1a1a1a" stroke="#1a1a1a" stroke-width="0.15">0</text>
<line x1="245.41" y1="245.70" x2="245.41" y2="247.40" stroke="#555" stroke-width="0.4"/>
<text transform="translate(246.71,249.30) rotate(-90)" font-size="3.7" font-weight="bold" text-anchor="end" fill="#1a1a1a" stroke="#1a1a1a" stroke-width="0.15">0.1</text>
<line x1="254.28" y1="245.70" x2="254.28" y2="247.40" stroke="#555" stroke-width="0.4"/>
<text transform="translate(255.58,249.30) rotate(-90)" font-size="3.7" font-weight="bold" text-anchor="end" fill="#1a1a1a" stroke="#1a1a1a" stroke-width="0.15">0.25</text>
<line x1="263.15" y1="245.70" x2="263.15" y2="247.40" stroke="#555" stroke-width="0.4"/>
<text transform="translate(264.45,249.30) rotate(-90)" font-size="3.7" font-weight="bold" text-anchor="end" fill="#1a1a1a" stroke="#1a1a1a" stroke-width="0.15">0.5</text>
<line x1="272.02" y1="245.70" x2="272.02" y2="247.40" stroke="#555" stroke-width="0.4"/>
<text transform="translate(273.32,249.30) rotate(-90)" font-size="3.7" font-weight="bold" text-anchor="end" fill="#1a1a1a" stroke="#1a1a1a" stroke-width="0.15">1</text>
<line x1="280.89" y1="245.70" x2="280.89" y2="247.40" stroke="#555" stroke-width="0.4"/>
<text transform="translate(282.19,249.30) rotate(-90)" font-size="3.7" font-weight="bold" text-anchor="end" fill="#1a1a1a" stroke="#1a1a1a" stroke-width="0.15">2</text>
<line x1="289.76" y1="245.70" x2="289.76" y2="247.40" stroke="#555" stroke-width="0.4"/>
<text transform="translate(291.06,249.30) rotate(-90)" font-size="3.7" font-weight="bold" text-anchor="end" fill="#1a1a1a" stroke="#1a1a1a" stroke-width="0.15">3</text>
<text x="268.55" y="263.00" font-size="5.55" text-anchor="middle" font-weight="normal" fill="#231f20" stroke="#231f20" stroke-width="0.18" >R428 (&#181;mol/L)</text>
<text x="96.75" y="147.00" font-size="5.70" text-anchor="middle" font-weight="normal" fill="#231f20" stroke="#231f20" stroke-width="0.18" text-decoration="underline">HCC4006 parental</text>
<text x="230.05" y="147.00" font-size="5.70" text-anchor="middle" font-weight="normal" fill="#231f20" stroke="#231f20" stroke-width="0.18" text-decoration="underline">HCC4006 ERL-R</text>
<line x1="30.00" y1="162.45" x2="32.00" y2="162.45" stroke="#555" stroke-width="0.4"/>
<text x="29.30" y="163.85" font-size="4.00" text-anchor="end" font-weight="bold" fill="#222" stroke="#222" stroke-width="0.08" >300</text>
<line x1="30.00" y1="171.16" x2="32.00" y2="171.16" stroke="#555" stroke-width="0.4"/>
<text x="29.30" y="172.56" font-size="4.00" text-anchor="end" font-weight="bold" fill="#222" stroke="#222" stroke-width="0.08" >10</text>
<line x1="30.00" y1="179.88" x2="32.00" y2="179.88" stroke="#555" stroke-width="0.4"/>
<text x="29.30" y="181.28" font-size="4.00" text-anchor="end" font-weight="bold" fill="#222" stroke="#222" stroke-width="0.08" >3</text>
<line x1="30.00" y1="188.58" x2="32.00" y2="188.58" stroke="#555" stroke-width="0.4"/>
<text x="29.30" y="189.98" font-size="4.00" text-anchor="end" font-weight="bold" fill="#222" stroke="#222" stroke-width="0.08" >1</text>
<line x1="30.00" y1="197.29" x2="32.00" y2="197.29" stroke="#555" stroke-width="0.4"/>
<text x="29.30" y="198.69" font-size="4.00" text-anchor="end" font-weight="bold" fill="#222" stroke="#222" stroke-width="0.08" >0.3</text>
<line x1="30.00" y1="206.00" x2="32.00" y2="206.00" stroke="#555" stroke-width="0.4"/>
<text x="29.30" y="207.41" font-size="4.00" text-anchor="end" font-weight="bold" fill="#222" stroke="#222" stroke-width="0.08" >0.1</text>
<line x1="30.00" y1="214.71" x2="32.00" y2="214.71" stroke="#555" stroke-width="0.4"/>
<text x="29.30" y="216.11" font-size="4.00" text-anchor="end" font-weight="bold" fill="#222" stroke="#222" stroke-width="0.08" >0.03</text>
<line x1="30.00" y1="223.42" x2="32.00" y2="223.42" stroke="#555" stroke-width="0.4"/>
<text x="29.30" y="224.82" font-size="4.00" text-anchor="end" font-weight="bold" fill="#222" stroke="#222" stroke-width="0.08" >0.01</text>
<line x1="30.00" y1="232.13" x2="32.00" y2="232.13" stroke="#555" stroke-width="0.4"/>
<text x="29.30" y="233.53" font-size="4.00" text-anchor="end" font-weight="bold" fill="#222" stroke="#222" stroke-width="0.08" >0.003</text>
<line x1="30.00" y1="240.84" x2="32.00" y2="240.84" stroke="#555" stroke-width="0.4"/>
<text x="29.30" y="242.24" font-size="4.00" text-anchor="end" font-weight="bold" fill="#222" stroke="#222" stroke-width="0.08" >0</text>
<text transform="translate(18.70,197.00) rotate(-90)" font-size="5.5" text-anchor="middle" fill="#231f20" stroke="#231f20" stroke-width="0.16">DTX (nmol/L)</text>
<g filter="url(#gb)">
<rect x="33.80" y="287.00" width="10.00" height="9.75" fill="rgb(245,145,35)"/>
<rect x="42.80" y="287.00" width="10.00" height="9.75" fill="rgb(248,198,38)"/>
<rect x="51.80" y="287.00" width="10.00" height="9.75" fill="rgb(248,198,38)"/>
<rect x="60.80" y="287.00" width="10.00" height="9.75" fill="rgb(248,198,38)"/>
<rect x="69.80" y="287.00" width="10.00" height="9.75" fill="rgb(245,145,35)"/>
<rect x="78.80" y="287.00" width="10.00" height="9.75" fill="rgb(240,118,35)"/>
<rect x="87.80" y="287.00" width="9.00" height="9.75" fill="rgb(225,38,35)"/>
<rect x="33.80" y="295.75" width="10.00" height="9.75" fill="rgb(245,145,35)"/>
<rect x="42.80" y="295.75" width="10.00" height="9.75" fill="rgb(248,198,38)"/>
<rect x="51.80" y="295.75" width="10.00" height="9.75" fill="rgb(248,198,38)"/>
<rect x="60.80" y="295.75" width="10.00" height="9.75" fill="rgb(248,198,38)"/>
<rect x="69.80" y="295.75" width="10.00" height="9.75" fill="rgb(248,198,38)"/>
<rect x="78.80" y="295.75" width="10.00" height="9.75" fill="rgb(240,118,35)"/>
<rect x="87.80" y="295.75" width="9.00" height="9.75" fill="rgb(233,75,33)"/>
<rect x="33.80" y="304.50" width="10.00" height="9.75" fill="rgb(248,198,38)"/>
<rect x="42.80" y="304.50" width="10.00" height="9.75" fill="rgb(240,230,40)"/>
<rect x="51.80" y="304.50" width="10.00" height="9.75" fill="rgb(240,230,40)"/>
<rect x="60.80" y="304.50" width="10.00" height="9.75" fill="rgb(240,230,40)"/>
<rect x="69.80" y="304.50" width="10.00" height="9.75" fill="rgb(248,198,38)"/>
<rect x="78.80" y="304.50" width="10.00" height="9.75" fill="rgb(245,145,35)"/>
<rect x="87.80" y="304.50" width="9.00" height="9.75" fill="rgb(233,75,33)"/>
<rect x="33.80" y="313.25" width="10.00" height="9.75" fill="rgb(205,225,55)"/>
<rect x="42.80" y="313.25" width="10.00" height="9.75" fill="rgb(145,210,110)"/>
<rect x="51.80" y="313.25" width="10.00" height="9.75" fill="rgb(145,210,110)"/>
<rect x="60.80" y="313.25" width="10.00" height="9.75" fill="rgb(205,225,55)"/>
<rect x="69.80" y="313.25" width="10.00" height="9.75" fill="rgb(240,230,40)"/>
<rect x="78.80" y="313.25" width="10.00" height="9.75" fill="rgb(245,145,35)"/>
<rect x="87.80" y="313.25" width="9.00" height="9.75" fill="rgb(233,75,33)"/>
<rect x="33.80" y="322.00" width="10.00" height="9.75" fill="rgb(115,200,222)"/>
<rect x="42.80" y="322.00" width="10.00" height="9.75" fill="rgb(85,155,215)"/>
<rect x="51.80" y="322.00" width="10.00" height="9.75" fill="rgb(85,155,215)"/>
<rect x="60.80" y="322.00" width="10.00" height="9.75" fill="rgb(115,200,222)"/>
<rect x="69.80" y="322.00" width="10.00" height="9.75" fill="rgb(130,210,180)"/>
<rect x="78.80" y="322.00" width="10.00" height="9.75" fill="rgb(240,230,40)"/>
<rect x="87.80" y="322.00" width="9.00" height="9.75" fill="rgb(245,145,35)"/>
<rect x="33.80" y="330.75" width="10.00" height="9.75" fill="rgb(72,108,198)"/>
<rect x="42.80" y="330.75" width="10.00" height="9.75" fill="rgb(48,58,160)"/>
<rect x="51.80" y="330.75" width="10.00" height="9.75" fill="rgb(48,58,160)"/>
<rect x="60.80" y="330.75" width="10.00" height="9.75" fill="rgb(48,58,160)"/>
<rect x="69.80" y="330.75" width="10.00" height="9.75" fill="rgb(85,155,215)"/>
<rect x="78.80" y="330.75" width="10.00" height="9.75" fill="rgb(205,225,55)"/>
<rect x="87.80" y="330.75" width="9.00" height="9.75" fill="rgb(240,230,40)"/>
<rect x="33.80" y="339.50" width="10.00" height="9.75" fill="rgb(48,58,160)"/>
<rect x="42.80" y="339.50" width="10.00" height="9.75" fill="rgb(37,40,145)"/>
<rect x="51.80" y="339.50" width="10.00" height="9.75" fill="rgb(37,40,145)"/>
<rect x="60.80" y="339.50" width="10.00" height="9.75" fill="rgb(37,40,145)"/>
<rect x="69.80" y="339.50" width="10.00" height="9.75" fill="rgb(60,80,182)"/>
<rect x="78.80" y="339.50" width="10.00" height="9.75" fill="rgb(115,200,222)"/>
<rect x="87.80" y="339.50" width="9.00" height="9.75" fill="rgb(145,210,110)"/>
<rect x="33.80" y="348.25" width="10.00" height="9.75" fill="rgb(37,40,145)"/>
<rect x="42.80" y="348.25" width="10.00" height="9.75" fill="rgb(37,40,145)"/>
<rect x="51.80" y="348.25" width="10.00" height="9.75" fill="rgb(37,40,145)"/>
<rect x="60.80" y="348.25" width="10.00" height="9.75" fill="rgb(37,40,145)"/>
<rect x="69.80" y="348.25" width="10.00" height="9.75" fill="rgb(37,40,145)"/>
<rect x="78.80" y="348.25" width="10.00" height="9.75" fill="rgb(60,80,182)"/>
<rect x="87.80" y="348.25" width="9.00" height="9.75" fill="rgb(115,200,222)"/>
<rect x="33.80" y="357.00" width="10.00" height="9.75" fill="rgb(37,40,145)"/>
<rect x="42.80" y="357.00" width="10.00" height="9.75" fill="rgb(37,40,145)"/>
<rect x="51.80" y="357.00" width="10.00" height="9.75" fill="rgb(37,40,145)"/>
<rect x="60.80" y="357.00" width="10.00" height="9.75" fill="rgb(37,40,145)"/>
<rect x="69.80" y="357.00" width="10.00" height="9.75" fill="rgb(37,40,145)"/>
<rect x="78.80" y="357.00" width="10.00" height="9.75" fill="rgb(48,58,160)"/>
<rect x="87.80" y="357.00" width="9.00" height="9.75" fill="rgb(72,108,198)"/>
<rect x="33.80" y="365.75" width="10.00" height="8.75" fill="rgb(37,40,145)"/>
<rect x="42.80" y="365.75" width="10.00" height="8.75" fill="rgb(37,40,145)"/>
<rect x="51.80" y="365.75" width="10.00" height="8.75" fill="rgb(37,40,145)"/>
<rect x="60.80" y="365.75" width="10.00" height="8.75" fill="rgb(37,40,145)"/>
<rect x="69.80" y="365.75" width="10.00" height="8.75" fill="rgb(37,40,145)"/>
<rect x="78.80" y="365.75" width="10.00" height="8.75" fill="rgb(48,58,160)"/>
<rect x="87.80" y="365.75" width="9.00" height="8.75" fill="rgb(72,108,198)"/>
<g font-weight="bold">
<text x="38.30" y="293.07" font-size="4.7" text-anchor="middle" fill="rgba(25,35,15,0.78)">71</text>
<text x="47.30" y="293.07" font-size="4.7" text-anchor="middle" fill="rgba(25,35,15,0.78)">69</text>
<text x="56.30" y="293.07" font-size="4.7" text-anchor="middle" fill="rgba(25,35,15,0.78)">69</text>
<text x="65.30" y="293.07" font-size="4.7" text-anchor="middle" fill="rgba(25,35,15,0.78)">70</text>
<text x="74.30" y="293.07" font-size="4.7" text-anchor="middle" fill="rgba(25,35,15,0.78)">73</text>
<text x="83.30" y="293.07" font-size="4.7" text-anchor="middle" fill="rgba(25,35,15,0.78)">77</text>
<text x="92.30" y="293.07" font-size="4.7" text-anchor="middle" fill="rgba(255,255,255,0.62)">85</text>
<text x="38.30" y="301.82" font-size="4.7" text-anchor="middle" fill="rgba(25,35,15,0.78)">73</text>
<text x="47.30" y="301.82" font-size="4.7" text-anchor="middle" fill="rgba(25,35,15,0.78)">69</text>
<text x="56.30" y="301.82" font-size="4.7" text-anchor="middle" fill="rgba(25,35,15,0.78)">66</text>
<text x="65.30" y="301.82" font-size="4.7" text-anchor="middle" fill="rgba(25,35,15,0.78)">66</text>
<text x="74.30" y="301.82" font-size="4.7" text-anchor="middle" fill="rgba(25,35,15,0.78)">68</text>
<text x="83.30" y="301.82" font-size="4.7" text-anchor="middle" fill="rgba(25,35,15,0.78)">76</text>
<text x="92.30" y="301.82" font-size="4.7" text-anchor="middle" fill="rgba(25,35,15,0.78)">79</text>
<text x="38.30" y="310.57" font-size="4.7" text-anchor="middle" fill="rgba(25,35,15,0.78)">67</text>
<text x="47.30" y="310.57" font-size="4.7" text-anchor="middle" fill="rgba(25,35,15,0.78)">62</text>
<text x="56.30" y="310.57" font-size="4.7" text-anchor="middle" fill="rgba(25,35,15,0.78)">61</text>
<text x="65.30" y="310.57" font-size="4.7" text-anchor="middle" fill="rgba(25,35,15,0.78)">62</text>
<text x="74.30" y="310.57" font-size="4.7" text-anchor="middle" fill="rgba(25,35,15,0.78)">68</text>
<text x="83.30" y="310.57" font-size="4.7" text-anchor="middle" fill="rgba(25,35,15,0.78)">72</text>
<text x="92.30" y="310.57" font-size="4.7" text-anchor="middle" fill="rgba(25,35,15,0.78)">79</text>
<text x="38.30" y="319.32" font-size="4.7" text-anchor="middle" fill="rgba(25,35,15,0.78)">55</text>
<text x="47.30" y="319.32" font-size="4.7" text-anchor="middle" fill="rgba(25,35,15,0.78)">49</text>
<text x="56.30" y="319.32" font-size="4.7" text-anchor="middle" fill="rgba(25,35,15,0.78)">49</text>
<text x="65.30" y="319.32" font-size="4.7" text-anchor="middle" fill="rgba(25,35,15,0.78)">53</text>
<text x="74.30" y="319.32" font-size="4.7" text-anchor="middle" fill="rgba(25,35,15,0.78)">60</text>
<text x="83.30" y="319.32" font-size="4.7" text-anchor="middle" fill="rgba(25,35,15,0.78)">71</text>
<text x="92.30" y="319.32" font-size="4.7" text-anchor="middle" fill="rgba(25,35,15,0.78)">76</text>
<text x="38.30" y="328.07" font-size="4.7" text-anchor="middle" fill="rgba(25,35,15,0.78)">38</text>
<text x="47.30" y="328.07" font-size="4.7" text-anchor="middle" fill="rgba(255,255,255,0.62)">29</text>
<text x="56.30" y="328.07" font-size="4.7" text-anchor="middle" fill="rgba(255,255,255,0.62)">29</text>
<text x="65.30" y="328.07" font-size="4.7" text-anchor="middle" fill="rgba(25,35,15,0.78)">34</text>
<text x="74.30" y="328.07" font-size="4.7" text-anchor="middle" fill="rgba(25,35,15,0.78)">45</text>
<text x="83.30" y="328.07" font-size="4.7" text-anchor="middle" fill="rgba(25,35,15,0.78)">62</text>
<text x="92.30" y="328.07" font-size="4.7" text-anchor="middle" fill="rgba(25,35,15,0.78)">72</text>
<text x="38.30" y="336.82" font-size="4.7" text-anchor="middle" fill="rgba(255,255,255,0.62)">26</text>
<text x="47.30" y="336.82" font-size="4.7" text-anchor="middle" fill="rgba(255,255,255,0.62)">14</text>
<text x="56.30" y="336.82" font-size="4.7" text-anchor="middle" fill="rgba(255,255,255,0.62)">11</text>
<text x="65.30" y="336.82" font-size="4.7" text-anchor="middle" fill="rgba(255,255,255,0.62)">15</text>
<text x="74.30" y="336.82" font-size="4.7" text-anchor="middle" fill="rgba(255,255,255,0.62)">28</text>
<text x="83.30" y="336.82" font-size="4.7" text-anchor="middle" fill="rgba(25,35,15,0.78)">50</text>
<text x="92.30" y="336.82" font-size="4.7" text-anchor="middle" fill="rgba(25,35,15,0.78)">62</text>
<text x="38.30" y="345.57" font-size="4.7" text-anchor="middle" fill="rgba(255,255,255,0.62)">12</text>
<text x="47.30" y="345.57" font-size="4.7" text-anchor="middle" fill="rgba(255,255,255,0.62)">3</text>
<text x="56.30" y="345.57" font-size="4.7" text-anchor="middle" fill="rgba(255,255,255,0.62)">1</text>
<text x="65.30" y="345.57" font-size="4.7" text-anchor="middle" fill="rgba(255,255,255,0.62)">3</text>
<text x="74.30" y="345.57" font-size="4.7" text-anchor="middle" fill="rgba(255,255,255,0.62)">15</text>
<text x="83.30" y="345.57" font-size="4.7" text-anchor="middle" fill="rgba(25,35,15,0.78)">34</text>
<text x="92.30" y="345.57" font-size="4.7" text-anchor="middle" fill="rgba(25,35,15,0.78)">47</text>
<text x="38.30" y="354.32" font-size="4.7" text-anchor="middle" fill="rgba(255,255,255,0.62)">6</text>
<text x="47.30" y="354.32" font-size="4.7" text-anchor="middle" fill="rgba(255,255,255,0.62)">0</text>
<text x="56.30" y="354.32" font-size="4.7" text-anchor="middle" fill="rgba(255,255,255,0.62)">0</text>
<text x="65.30" y="354.32" font-size="4.7" text-anchor="middle" fill="rgba(255,255,255,0.62)">0</text>
<text x="74.30" y="354.32" font-size="4.7" text-anchor="middle" fill="rgba(255,255,255,0.62)">5</text>
<text x="83.30" y="354.32" font-size="4.7" text-anchor="middle" fill="rgba(255,255,255,0.62)">20</text>
<text x="92.30" y="354.32" font-size="4.7" text-anchor="middle" fill="rgba(25,35,15,0.78)">31</text>
<text x="38.30" y="363.07" font-size="4.7" text-anchor="middle" fill="rgba(255,255,255,0.62)">0</text>
<text x="47.30" y="363.07" font-size="4.7" text-anchor="middle" fill="rgba(255,255,255,0.62)">0</text>
<text x="56.30" y="363.07" font-size="4.7" text-anchor="middle" fill="rgba(255,255,255,0.62)">0</text>
<text x="65.30" y="363.07" font-size="4.7" text-anchor="middle" fill="rgba(255,255,255,0.62)">0</text>
<text x="74.30" y="363.07" font-size="4.7" text-anchor="middle" fill="rgba(255,255,255,0.62)">2</text>
<text x="83.30" y="363.07" font-size="4.7" text-anchor="middle" fill="rgba(255,255,255,0.62)">10</text>
<text x="92.30" y="363.07" font-size="4.7" text-anchor="middle" fill="rgba(255,255,255,0.62)">25</text>
<text x="38.30" y="371.82" font-size="4.7" text-anchor="middle" fill="rgba(255,255,255,0.62)">0</text>
<text x="47.30" y="371.82" font-size="4.7" text-anchor="middle" fill="rgba(255,255,255,0.62)">1</text>
<text x="56.30" y="371.82" font-size="4.7" text-anchor="middle" fill="rgba(255,255,255,0.62)">0</text>
<text x="65.30" y="371.82" font-size="4.7" text-anchor="middle" fill="rgba(255,255,255,0.62)">0</text>
<text x="74.30" y="371.82" font-size="4.7" text-anchor="middle" fill="rgba(255,255,255,0.62)">3</text>
<text x="83.30" y="371.82" font-size="4.7" text-anchor="middle" fill="rgba(255,255,255,0.62)">12</text>
<text x="92.30" y="371.82" font-size="4.7" text-anchor="middle" fill="rgba(255,255,255,0.62)">20</text>
</g>
</g>
<text x="65.30" y="284.30" font-size="5.60" text-anchor="middle" font-weight="normal" fill="#231f20" stroke="#231f20" stroke-width="0.18" >Percentage inhibition</text>
<line x1="38.30" y1="375.00" x2="38.30" y2="376.70" stroke="#555" stroke-width="0.4"/>
<text transform="translate(39.60,378.60) rotate(-90)" font-size="3.7" font-weight="bold" text-anchor="end" fill="#1a1a1a" stroke="#1a1a1a" stroke-width="0.15">0</text>
<line x1="47.30" y1="375.00" x2="47.30" y2="376.70" stroke="#555" stroke-width="0.4"/>
<text transform="translate(48.60,378.60) rotate(-90)" font-size="3.7" font-weight="bold" text-anchor="end" fill="#1a1a1a" stroke="#1a1a1a" stroke-width="0.15">0.1</text>
<line x1="56.30" y1="375.00" x2="56.30" y2="376.70" stroke="#555" stroke-width="0.4"/>
<text transform="translate(57.60,378.60) rotate(-90)" font-size="3.7" font-weight="bold" text-anchor="end" fill="#1a1a1a" stroke="#1a1a1a" stroke-width="0.15">0.25</text>
<line x1="65.30" y1="375.00" x2="65.30" y2="376.70" stroke="#555" stroke-width="0.4"/>
<text transform="translate(66.60,378.60) rotate(-90)" font-size="3.7" font-weight="bold" text-anchor="end" fill="#1a1a1a" stroke="#1a1a1a" stroke-width="0.15">0.5</text>
<line x1="74.30" y1="375.00" x2="74.30" y2="376.70" stroke="#555" stroke-width="0.4"/>
<text transform="translate(75.60,378.60) rotate(-90)" font-size="3.7" font-weight="bold" text-anchor="end" fill="#1a1a1a" stroke="#1a1a1a" stroke-width="0.15">1</text>
<line x1="83.30" y1="375.00" x2="83.30" y2="376.70" stroke="#555" stroke-width="0.4"/>
<text transform="translate(84.60,378.60) rotate(-90)" font-size="3.7" font-weight="bold" text-anchor="end" fill="#1a1a1a" stroke="#1a1a1a" stroke-width="0.15">2</text>
<line x1="92.30" y1="375.00" x2="92.30" y2="376.70" stroke="#555" stroke-width="0.4"/>
<text transform="translate(93.60,378.60) rotate(-90)" font-size="3.7" font-weight="bold" text-anchor="end" fill="#1a1a1a" stroke="#1a1a1a" stroke-width="0.15">3</text>
<text x="66.25" y="393.30" font-size="5.55" text-anchor="middle" font-weight="normal" fill="#231f20" stroke="#231f20" stroke-width="0.18" >R428 (&#181;mol/L)</text>
<g filter="url(#gb)">
<rect x="100.20" y="287.00" width="9.84" height="9.75" fill="rgb(37,40,145)"/>
<rect x="109.04" y="287.00" width="9.84" height="9.75" fill="rgb(37,40,145)"/>
<rect x="117.89" y="287.00" width="9.84" height="9.75" fill="rgb(37,40,145)"/>
<rect x="126.73" y="287.00" width="9.84" height="9.75" fill="rgb(37,40,145)"/>
<rect x="135.57" y="287.00" width="9.84" height="9.75" fill="rgb(48,58,160)"/>
<rect x="144.41" y="287.00" width="9.84" height="9.75" fill="rgb(60,80,182)"/>
<rect x="153.26" y="287.00" width="8.84" height="9.75" fill="rgb(72,108,198)"/>
<rect x="100.20" y="295.75" width="9.84" height="9.75" fill="rgb(37,40,145)"/>
<rect x="109.04" y="295.75" width="9.84" height="9.75" fill="rgb(37,40,145)"/>
<rect x="117.89" y="295.75" width="9.84" height="9.75" fill="rgb(37,40,145)"/>
<rect x="126.73" y="295.75" width="9.84" height="9.75" fill="rgb(37,40,145)"/>
<rect x="135.57" y="295.75" width="9.84" height="9.75" fill="rgb(37,40,145)"/>
<rect x="144.41" y="295.75" width="9.84" height="9.75" fill="rgb(37,40,145)"/>
<rect x="153.26" y="295.75" width="8.84" height="9.75" fill="rgb(48,58,160)"/>
<rect x="100.20" y="304.50" width="9.84" height="9.75" fill="rgb(37,40,145)"/>
<rect x="109.04" y="304.50" width="9.84" height="9.75" fill="rgb(37,40,145)"/>
<rect x="117.89" y="304.50" width="9.84" height="9.75" fill="rgb(37,40,145)"/>
<rect x="126.73" y="304.50" width="9.84" height="9.75" fill="rgb(37,40,145)"/>
<rect x="135.57" y="304.50" width="9.84" height="9.75" fill="rgb(37,40,145)"/>
<rect x="144.41" y="304.50" width="9.84" height="9.75" fill="rgb(48,58,160)"/>
<rect x="153.26" y="304.50" width="8.84" height="9.75" fill="rgb(60,80,182)"/>
<rect x="100.20" y="313.25" width="9.84" height="9.75" fill="rgb(37,40,145)"/>
<rect x="109.04" y="313.25" width="9.84" height="9.75" fill="rgb(37,40,145)"/>
<rect x="117.89" y="313.25" width="9.84" height="9.75" fill="rgb(37,40,145)"/>
<rect x="126.73" y="313.25" width="9.84" height="9.75" fill="rgb(37,40,145)"/>
<rect x="135.57" y="313.25" width="9.84" height="9.75" fill="rgb(72,108,198)"/>
<rect x="144.41" y="313.25" width="9.84" height="9.75" fill="rgb(115,200,222)"/>
<rect x="153.26" y="313.25" width="8.84" height="9.75" fill="rgb(130,210,180)"/>
<rect x="100.20" y="322.00" width="9.84" height="9.75" fill="rgb(37,40,145)"/>
<rect x="109.04" y="322.00" width="9.84" height="9.75" fill="rgb(37,40,145)"/>
<rect x="117.89" y="322.00" width="9.84" height="9.75" fill="rgb(37,40,145)"/>
<rect x="126.73" y="322.00" width="9.84" height="9.75" fill="rgb(37,40,145)"/>
<rect x="135.57" y="322.00" width="9.84" height="9.75" fill="rgb(60,80,182)"/>
<rect x="144.41" y="322.00" width="9.84" height="9.75" fill="rgb(205,225,55)"/>
<rect x="153.26" y="322.00" width="8.84" height="9.75" fill="rgb(245,145,35)"/>
<rect x="100.20" y="330.75" width="9.84" height="9.75" fill="rgb(37,40,145)"/>
<rect x="109.04" y="330.75" width="9.84" height="9.75" fill="rgb(37,40,145)"/>
<rect x="117.89" y="330.75" width="9.84" height="9.75" fill="rgb(37,40,145)"/>
<rect x="126.73" y="330.75" width="9.84" height="9.75" fill="rgb(37,40,145)"/>
<rect x="135.57" y="330.75" width="9.84" height="9.75" fill="rgb(60,80,182)"/>
<rect x="144.41" y="330.75" width="9.84" height="9.75" fill="rgb(205,225,55)"/>
<rect x="153.26" y="330.75" width="8.84" height="9.75" fill="rgb(233,75,33)"/>
<rect x="100.20" y="339.50" width="9.84" height="9.75" fill="rgb(37,40,145)"/>
<rect x="109.04" y="339.50" width="9.84" height="9.75" fill="rgb(37,40,145)"/>
<rect x="117.89" y="339.50" width="9.84" height="9.75" fill="rgb(37,40,145)"/>
<rect x="126.73" y="339.50" width="9.84" height="9.75" fill="rgb(37,40,145)"/>
<rect x="135.57" y="339.50" width="9.84" height="9.75" fill="rgb(48,58,160)"/>
<rect x="144.41" y="339.50" width="9.84" height="9.75" fill="rgb(145,215,225)"/>
<rect x="153.26" y="339.50" width="8.84" height="9.75" fill="rgb(205,225,55)"/>
<rect x="100.20" y="348.25" width="9.84" height="9.75" fill="rgb(37,40,145)"/>
<rect x="109.04" y="348.25" width="9.84" height="9.75" fill="rgb(37,40,145)"/>
<rect x="117.89" y="348.25" width="9.84" height="9.75" fill="rgb(37,40,145)"/>
<rect x="126.73" y="348.25" width="9.84" height="9.75" fill="rgb(37,40,145)"/>
<rect x="135.57" y="348.25" width="9.84" height="9.75" fill="rgb(37,40,145)"/>
<rect x="144.41" y="348.25" width="9.84" height="9.75" fill="rgb(72,108,198)"/>
<rect x="153.26" y="348.25" width="8.84" height="9.75" fill="rgb(85,155,215)"/>
<rect x="100.20" y="357.00" width="9.84" height="9.75" fill="rgb(37,40,145)"/>
<rect x="109.04" y="357.00" width="9.84" height="9.75" fill="rgb(37,40,145)"/>
<rect x="117.89" y="357.00" width="9.84" height="9.75" fill="rgb(37,40,145)"/>
<rect x="126.73" y="357.00" width="9.84" height="9.75" fill="rgb(37,40,145)"/>
<rect x="135.57" y="357.00" width="9.84" height="9.75" fill="rgb(37,40,145)"/>
<rect x="144.41" y="357.00" width="9.84" height="9.75" fill="rgb(48,58,160)"/>
<rect x="153.26" y="357.00" width="8.84" height="9.75" fill="rgb(48,58,160)"/>
<rect x="100.20" y="365.75" width="9.84" height="8.75" fill="rgb(37,40,145)"/>
<rect x="109.04" y="365.75" width="9.84" height="8.75" fill="rgb(37,40,145)"/>
<rect x="117.89" y="365.75" width="9.84" height="8.75" fill="rgb(37,40,145)"/>
<rect x="126.73" y="365.75" width="9.84" height="8.75" fill="rgb(37,40,145)"/>
<rect x="135.57" y="365.75" width="9.84" height="8.75" fill="rgb(37,40,145)"/>
<rect x="144.41" y="365.75" width="9.84" height="8.75" fill="rgb(37,40,145)"/>
<rect x="153.26" y="365.75" width="8.84" height="8.75" fill="rgb(37,40,145)"/>
<g font-weight="bold">
<text x="104.62" y="293.07" font-size="4.7" text-anchor="middle" fill="rgba(255,255,255,0.62)">0</text>
<text x="113.46" y="293.07" font-size="4.7" text-anchor="middle" fill="rgba(255,255,255,0.62)">&#8211;2</text>
<text x="122.31" y="293.07" font-size="4.7" text-anchor="middle" fill="rgba(255,255,255,0.62)">&#8211;2</text>
<text x="131.15" y="293.07" font-size="4.7" text-anchor="middle" fill="rgba(255,255,255,0.62)">&#8211;1</text>
<text x="139.99" y="293.07" font-size="4.7" text-anchor="middle" fill="rgba(255,255,255,0.62)">1</text>
<text x="148.84" y="293.07" font-size="4.7" text-anchor="middle" fill="rgba(255,255,255,0.62)">2</text>
<text x="157.68" y="293.07" font-size="4.7" text-anchor="middle" fill="rgba(255,255,255,0.62)">5</text>
<text x="104.62" y="301.82" font-size="4.7" text-anchor="middle" fill="rgba(255,255,255,0.62)">0</text>
<text x="113.46" y="301.82" font-size="4.7" text-anchor="middle" fill="rgba(255,255,255,0.62)">&#8211;4</text>
<text x="122.31" y="301.82" font-size="4.7" text-anchor="middle" fill="rgba(255,255,255,0.62)">&#8211;6</text>
<text x="131.15" y="301.82" font-size="4.7" text-anchor="middle" fill="rgba(255,255,255,0.62)">&#8211;7</text>
<text x="139.99" y="301.82" font-size="4.7" text-anchor="middle" fill="rgba(255,255,255,0.62)">&#8211;5</text>
<text x="148.84" y="301.82" font-size="4.7" text-anchor="middle" fill="rgba(255,255,255,0.62)">&#8211;2</text>
<text x="157.68" y="301.82" font-size="4.7" text-anchor="middle" fill="rgba(255,255,255,0.62)">1</text>
<text x="104.62" y="310.57" font-size="4.7" text-anchor="middle" fill="rgba(255,255,255,0.62)">0</text>
<text x="113.46" y="310.57" font-size="4.7" text-anchor="middle" fill="rgba(255,255,255,0.62)">&#8211;5</text>
<text x="122.31" y="310.57" font-size="4.7" text-anchor="middle" fill="rgba(255,255,255,0.62)">&#8211;6</text>
<text x="131.15" y="310.57" font-size="4.7" text-anchor="middle" fill="rgba(255,255,255,0.62)">&#8211;4</text>
<text x="139.99" y="310.57" font-size="4.7" text-anchor="middle" fill="rgba(255,255,255,0.62)">&#8211;2</text>
<text x="148.84" y="310.57" font-size="4.7" text-anchor="middle" fill="rgba(255,255,255,0.62)">1</text>
<text x="157.68" y="310.57" font-size="4.7" text-anchor="middle" fill="rgba(255,255,255,0.62)">5</text>
<text x="104.62" y="319.32" font-size="4.7" text-anchor="middle" fill="rgba(255,255,255,0.62)">0</text>
<text x="113.46" y="319.32" font-size="4.7" text-anchor="middle" fill="rgba(255,255,255,0.62)">&#8211;7</text>
<text x="122.31" y="319.32" font-size="4.7" text-anchor="middle" fill="rgba(255,255,255,0.62)">&#8211;6</text>
<text x="131.15" y="319.32" font-size="4.7" text-anchor="middle" fill="rgba(255,255,255,0.62)">&#8211;2</text>
<text x="139.99" y="319.32" font-size="4.7" text-anchor="middle" fill="rgba(255,255,255,0.62)">8</text>
<text x="148.84" y="319.32" font-size="4.7" text-anchor="middle" fill="rgba(25,35,15,0.78)">10</text>
<text x="157.68" y="319.32" font-size="4.7" text-anchor="middle" fill="rgba(25,35,15,0.78)">14</text>
<text x="104.62" y="328.07" font-size="4.7" text-anchor="middle" fill="rgba(255,255,255,0.62)">0</text>
<text x="113.46" y="328.07" font-size="4.7" text-anchor="middle" fill="rgba(255,255,255,0.62)">&#8211;9</text>
<text x="122.31" y="328.07" font-size="4.7" text-anchor="middle" fill="rgba(255,255,255,0.62)">&#8211;8</text>
<text x="131.15" y="328.07" font-size="4.7" text-anchor="middle" fill="rgba(255,255,255,0.62)">&#8211;6</text>
<text x="139.99" y="328.07" font-size="4.7" text-anchor="middle" fill="rgba(255,255,255,0.62)">5</text>
<text x="148.84" y="328.07" font-size="4.7" text-anchor="middle" fill="rgba(25,35,15,0.78)">17</text>
<text x="157.68" y="328.07" font-size="4.7" text-anchor="middle" fill="rgba(25,35,15,0.78)">21</text>
<text x="104.62" y="336.82" font-size="4.7" text-anchor="middle" fill="rgba(255,255,255,0.62)">0</text>
<text x="113.46" y="336.82" font-size="4.7" text-anchor="middle" fill="rgba(255,255,255,0.62)">&#8211;11</text>
<text x="122.31" y="336.82" font-size="4.7" text-anchor="middle" fill="rgba(255,255,255,0.62)">&#8211;13</text>
<text x="131.15" y="336.82" font-size="4.7" text-anchor="middle" fill="rgba(255,255,255,0.62)">&#8211;9</text>
<text x="139.99" y="336.82" font-size="4.7" text-anchor="middle" fill="rgba(255,255,255,0.62)">3</text>
<text x="148.84" y="336.82" font-size="4.7" text-anchor="middle" fill="rgba(25,35,15,0.78)">17</text>
<text x="157.68" y="336.82" font-size="4.7" text-anchor="middle" fill="rgba(25,35,15,0.78)">25</text>
<text x="104.62" y="345.57" font-size="4.7" text-anchor="middle" fill="rgba(255,255,255,0.62)">0</text>
<text x="113.46" y="345.57" font-size="4.7" text-anchor="middle" fill="rgba(255,255,255,0.62)">&#8211;10</text>
<text x="122.31" y="345.57" font-size="4.7" text-anchor="middle" fill="rgba(255,255,255,0.62)">&#8211;11</text>
<text x="131.15" y="345.57" font-size="4.7" text-anchor="middle" fill="rgba(255,255,255,0.62)">&#8211;9</text>
<text x="139.99" y="345.57" font-size="4.7" text-anchor="middle" fill="rgba(255,255,255,0.62)">0</text>
<text x="148.84" y="345.57" font-size="4.7" text-anchor="middle" fill="rgba(25,35,15,0.78)">11</text>
<text x="157.68" y="345.57" font-size="4.7" text-anchor="middle" fill="rgba(25,35,15,0.78)">17</text>
<text x="104.62" y="354.32" font-size="4.7" text-anchor="middle" fill="rgba(255,255,255,0.62)">0</text>
<text x="113.46" y="354.32" font-size="4.7" text-anchor="middle" fill="rgba(255,255,255,0.62)">&#8211;5</text>
<text x="122.31" y="354.32" font-size="4.7" text-anchor="middle" fill="rgba(255,255,255,0.62)">&#8211;4</text>
<text x="131.15" y="354.32" font-size="4.7" text-anchor="middle" fill="rgba(255,255,255,0.62)">&#8211;6</text>
<text x="139.99" y="354.32" font-size="4.7" text-anchor="middle" fill="rgba(255,255,255,0.62)">&#8211;2</text>
<text x="148.84" y="354.32" font-size="4.7" text-anchor="middle" fill="rgba(255,255,255,0.62)">5</text>
<text x="157.68" y="354.32" font-size="4.7" text-anchor="middle" fill="rgba(255,255,255,0.62)">10</text>
<text x="104.62" y="363.07" font-size="4.7" text-anchor="middle" fill="rgba(255,255,255,0.62)">0</text>
<text x="113.46" y="363.07" font-size="4.7" text-anchor="middle" fill="rgba(255,255,255,0.62)">&#8211;1</text>
<text x="122.31" y="363.07" font-size="4.7" text-anchor="middle" fill="rgba(255,255,255,0.62)">0</text>
<text x="131.15" y="363.07" font-size="4.7" text-anchor="middle" fill="rgba(255,255,255,0.62)">0</text>
<text x="139.99" y="363.07" font-size="4.7" text-anchor="middle" fill="rgba(255,255,255,0.62)">&#8211;2</text>
<text x="148.84" y="363.07" font-size="4.7" text-anchor="middle" fill="rgba(255,255,255,0.62)">1</text>
<text x="157.68" y="363.07" font-size="4.7" text-anchor="middle" fill="rgba(255,255,255,0.62)">4</text>
<text x="104.62" y="371.82" font-size="4.7" text-anchor="middle" fill="rgba(255,255,255,0.62)">0</text>
<text x="113.46" y="371.82" font-size="4.7" text-anchor="middle" fill="rgba(255,255,255,0.62)">0</text>
<text x="122.31" y="371.82" font-size="4.7" text-anchor="middle" fill="rgba(255,255,255,0.62)">0</text>
<text x="131.15" y="371.82" font-size="4.7" text-anchor="middle" fill="rgba(255,255,255,0.62)">0</text>
<text x="139.99" y="371.82" font-size="4.7" text-anchor="middle" fill="rgba(255,255,255,0.62)">0</text>
<text x="148.84" y="371.82" font-size="4.7" text-anchor="middle" fill="rgba(255,255,255,0.62)">0</text>
<text x="157.68" y="371.82" font-size="4.7" text-anchor="middle" fill="rgba(255,255,255,0.62)">0</text>
</g>
</g>
<text x="131.15" y="284.30" font-size="5.60" text-anchor="middle" font-weight="normal" fill="#231f20" stroke="#231f20" stroke-width="0.18" >Delta Bliss</text>
<line x1="104.62" y1="375.00" x2="104.62" y2="376.70" stroke="#555" stroke-width="0.4"/>
<text transform="translate(105.92,378.60) rotate(-90)" font-size="3.7" font-weight="bold" text-anchor="end" fill="#1a1a1a" stroke="#1a1a1a" stroke-width="0.15">0</text>
<line x1="113.46" y1="375.00" x2="113.46" y2="376.70" stroke="#555" stroke-width="0.4"/>
<text transform="translate(114.76,378.60) rotate(-90)" font-size="3.7" font-weight="bold" text-anchor="end" fill="#1a1a1a" stroke="#1a1a1a" stroke-width="0.15">0.1</text>
<line x1="122.31" y1="375.00" x2="122.31" y2="376.70" stroke="#555" stroke-width="0.4"/>
<text transform="translate(123.61,378.60) rotate(-90)" font-size="3.7" font-weight="bold" text-anchor="end" fill="#1a1a1a" stroke="#1a1a1a" stroke-width="0.15">0.25</text>
<line x1="131.15" y1="375.00" x2="131.15" y2="376.70" stroke="#555" stroke-width="0.4"/>
<text transform="translate(132.45,378.60) rotate(-90)" font-size="3.7" font-weight="bold" text-anchor="end" fill="#1a1a1a" stroke="#1a1a1a" stroke-width="0.15">0.5</text>
<line x1="139.99" y1="375.00" x2="139.99" y2="376.70" stroke="#555" stroke-width="0.4"/>
<text transform="translate(141.29,378.60) rotate(-90)" font-size="3.7" font-weight="bold" text-anchor="end" fill="#1a1a1a" stroke="#1a1a1a" stroke-width="0.15">1</text>
<line x1="148.84" y1="375.00" x2="148.84" y2="376.70" stroke="#555" stroke-width="0.4"/>
<text transform="translate(150.14,378.60) rotate(-90)" font-size="3.7" font-weight="bold" text-anchor="end" fill="#1a1a1a" stroke="#1a1a1a" stroke-width="0.15">2</text>
<line x1="157.68" y1="375.00" x2="157.68" y2="376.70" stroke="#555" stroke-width="0.4"/>
<text transform="translate(158.98,378.60) rotate(-90)" font-size="3.7" font-weight="bold" text-anchor="end" fill="#1a1a1a" stroke="#1a1a1a" stroke-width="0.15">3</text>
<text x="132.50" y="393.30" font-size="5.55" text-anchor="middle" font-weight="normal" fill="#231f20" stroke="#231f20" stroke-width="0.18" >R428 (&#181;mol/L)</text>
<g filter="url(#gb)">
<rect x="168.10" y="287.00" width="10.01" height="9.75" fill="rgb(72,108,198)"/>
<rect x="177.11" y="287.00" width="10.01" height="9.75" fill="rgb(145,210,110)"/>
<rect x="186.13" y="287.00" width="10.01" height="9.75" fill="rgb(145,210,110)"/>
<rect x="195.14" y="287.00" width="10.01" height="9.75" fill="rgb(145,210,110)"/>
<rect x="204.16" y="287.00" width="10.01" height="9.75" fill="rgb(175,220,85)"/>
<rect x="213.17" y="287.00" width="10.01" height="9.75" fill="rgb(205,225,55)"/>
<rect x="222.19" y="287.00" width="9.01" height="9.75" fill="rgb(240,230,40)"/>
<rect x="168.10" y="295.75" width="10.01" height="9.75" fill="rgb(48,58,160)"/>
<rect x="177.11" y="295.75" width="10.01" height="9.75" fill="rgb(115,200,222)"/>
<rect x="186.13" y="295.75" width="10.01" height="9.75" fill="rgb(115,200,222)"/>
<rect x="195.14" y="295.75" width="10.01" height="9.75" fill="rgb(115,200,222)"/>
<rect x="204.16" y="295.75" width="10.01" height="9.75" fill="rgb(130,210,180)"/>
<rect x="213.17" y="295.75" width="10.01" height="9.75" fill="rgb(145,210,110)"/>
<rect x="222.19" y="295.75" width="9.01" height="9.75" fill="rgb(205,225,55)"/>
<rect x="168.10" y="304.50" width="10.01" height="9.75" fill="rgb(60,80,182)"/>
<rect x="177.11" y="304.50" width="10.01" height="9.75" fill="rgb(85,155,215)"/>
<rect x="186.13" y="304.50" width="10.01" height="9.75" fill="rgb(115,200,222)"/>
<rect x="195.14" y="304.50" width="10.01" height="9.75" fill="rgb(115,200,222)"/>
<rect x="204.16" y="304.50" width="10.01" height="9.75" fill="rgb(115,200,222)"/>
<rect x="213.17" y="304.50" width="10.01" height="9.75" fill="rgb(145,210,110)"/>
<rect x="222.19" y="304.50" width="9.01" height="9.75" fill="rgb(205,225,55)"/>
<rect x="168.10" y="313.25" width="10.01" height="9.75" fill="rgb(60,80,182)"/>
<rect x="177.11" y="313.25" width="10.01" height="9.75" fill="rgb(72,108,198)"/>
<rect x="186.13" y="313.25" width="10.01" height="9.75" fill="rgb(72,108,198)"/>
<rect x="195.14" y="313.25" width="10.01" height="9.75" fill="rgb(85,155,215)"/>
<rect x="204.16" y="313.25" width="10.01" height="9.75" fill="rgb(115,200,222)"/>
<rect x="213.17" y="313.25" width="10.01" height="9.75" fill="rgb(175,220,85)"/>
<rect x="222.19" y="313.25" width="9.01" height="9.75" fill="rgb(240,230,40)"/>
<rect x="168.10" y="322.00" width="10.01" height="9.75" fill="rgb(48,58,160)"/>
<rect x="177.11" y="322.00" width="10.01" height="9.75" fill="rgb(60,80,182)"/>
<rect x="186.13" y="322.00" width="10.01" height="9.75" fill="rgb(60,80,182)"/>
<rect x="195.14" y="322.00" width="10.01" height="9.75" fill="rgb(60,80,182)"/>
<rect x="204.16" y="322.00" width="10.01" height="9.75" fill="rgb(115,200,222)"/>
<rect x="213.17" y="322.00" width="10.01" height="9.75" fill="rgb(205,225,55)"/>
<rect x="222.19" y="322.00" width="9.01" height="9.75" fill="rgb(240,230,40)"/>
<rect x="168.10" y="330.75" width="10.01" height="9.75" fill="rgb(48,58,160)"/>
<rect x="177.11" y="330.75" width="10.01" height="9.75" fill="rgb(60,80,182)"/>
<rect x="186.13" y="330.75" width="10.01" height="9.75" fill="rgb(48,58,160)"/>
<rect x="195.14" y="330.75" width="10.01" height="9.75" fill="rgb(48,58,160)"/>
<rect x="204.16" y="330.75" width="10.01" height="9.75" fill="rgb(85,155,215)"/>
<rect x="213.17" y="330.75" width="10.01" height="9.75" fill="rgb(145,210,110)"/>
<rect x="222.19" y="330.75" width="9.01" height="9.75" fill="rgb(240,230,40)"/>
<rect x="168.10" y="339.50" width="10.01" height="9.75" fill="rgb(48,58,160)"/>
<rect x="177.11" y="339.50" width="10.01" height="9.75" fill="rgb(48,58,160)"/>
<rect x="186.13" y="339.50" width="10.01" height="9.75" fill="rgb(48,58,160)"/>
<rect x="195.14" y="339.50" width="10.01" height="9.75" fill="rgb(48,58,160)"/>
<rect x="204.16" y="339.50" width="10.01" height="9.75" fill="rgb(72,108,198)"/>
<rect x="213.17" y="339.50" width="10.01" height="9.75" fill="rgb(130,210,180)"/>
<rect x="222.19" y="339.50" width="9.01" height="9.75" fill="rgb(205,225,55)"/>
<rect x="168.10" y="348.25" width="10.01" height="9.75" fill="rgb(48,58,160)"/>
<rect x="177.11" y="348.25" width="10.01" height="9.75" fill="rgb(48,58,160)"/>
<rect x="186.13" y="348.25" width="10.01" height="9.75" fill="rgb(48,58,160)"/>
<rect x="195.14" y="348.25" width="10.01" height="9.75" fill="rgb(48,58,160)"/>
<rect x="204.16" y="348.25" width="10.01" height="9.75" fill="rgb(60,80,182)"/>
<rect x="213.17" y="348.25" width="10.01" height="9.75" fill="rgb(115,200,222)"/>
<rect x="222.19" y="348.25" width="9.01" height="9.75" fill="rgb(130,210,180)"/>
<rect x="168.10" y="357.00" width="10.01" height="9.75" fill="rgb(48,58,160)"/>
<rect x="177.11" y="357.00" width="10.01" height="9.75" fill="rgb(48,58,160)"/>
<rect x="186.13" y="357.00" width="10.01" height="9.75" fill="rgb(37,40,145)"/>
<rect x="195.14" y="357.00" width="10.01" height="9.75" fill="rgb(37,40,145)"/>
<rect x="204.16" y="357.00" width="10.01" height="9.75" fill="rgb(60,80,182)"/>
<rect x="213.17" y="357.00" width="10.01" height="9.75" fill="rgb(85,155,215)"/>
<rect x="222.19" y="357.00" width="9.01" height="9.75" fill="rgb(130,210,180)"/>
<rect x="168.10" y="365.75" width="10.01" height="8.75" fill="rgb(37,40,145)"/>
<rect x="177.11" y="365.75" width="10.01" height="8.75" fill="rgb(37,40,145)"/>
<rect x="186.13" y="365.75" width="10.01" height="8.75" fill="rgb(37,40,145)"/>
<rect x="195.14" y="365.75" width="10.01" height="8.75" fill="rgb(37,40,145)"/>
<rect x="204.16" y="365.75" width="10.01" height="8.75" fill="rgb(48,58,160)"/>
<rect x="213.17" y="365.75" width="10.01" height="8.75" fill="rgb(60,80,182)"/>
<rect x="222.19" y="365.75" width="9.01" height="8.75" fill="rgb(72,108,198)"/>
<g font-weight="bold">
<text x="172.61" y="293.07" font-size="4.7" text-anchor="middle" fill="rgba(255,255,255,0.62)">25</text>
<text x="181.62" y="293.07" font-size="4.7" text-anchor="middle" fill="rgba(25,35,15,0.78)">43</text>
<text x="190.64" y="293.07" font-size="4.7" text-anchor="middle" fill="rgba(25,35,15,0.78)">46</text>
<text x="199.65" y="293.07" font-size="4.7" text-anchor="middle" fill="rgba(25,35,15,0.78)">48</text>
<text x="208.66" y="293.07" font-size="4.7" text-anchor="middle" fill="rgba(25,35,15,0.78)">51</text>
<text x="217.68" y="293.07" font-size="4.7" text-anchor="middle" fill="rgba(25,35,15,0.78)">58</text>
<text x="226.69" y="293.07" font-size="4.7" text-anchor="middle" fill="rgba(25,35,15,0.78)">63</text>
<text x="172.61" y="301.82" font-size="4.7" text-anchor="middle" fill="rgba(255,255,255,0.62)">12</text>
<text x="181.62" y="301.82" font-size="4.7" text-anchor="middle" fill="rgba(25,35,15,0.78)">32</text>
<text x="190.64" y="301.82" font-size="4.7" text-anchor="middle" fill="rgba(25,35,15,0.78)">34</text>
<text x="199.65" y="301.82" font-size="4.7" text-anchor="middle" fill="rgba(25,35,15,0.78)">36</text>
<text x="208.66" y="301.82" font-size="4.7" text-anchor="middle" fill="rgba(25,35,15,0.78)">40</text>
<text x="217.68" y="301.82" font-size="4.7" text-anchor="middle" fill="rgba(25,35,15,0.78)">48</text>
<text x="226.69" y="301.82" font-size="4.7" text-anchor="middle" fill="rgba(25,35,15,0.78)">55</text>
<text x="172.61" y="310.57" font-size="4.7" text-anchor="middle" fill="rgba(255,255,255,0.62)">19</text>
<text x="181.62" y="310.57" font-size="4.7" text-anchor="middle" fill="rgba(255,255,255,0.62)">30</text>
<text x="190.64" y="310.57" font-size="4.7" text-anchor="middle" fill="rgba(25,35,15,0.78)">32</text>
<text x="199.65" y="310.57" font-size="4.7" text-anchor="middle" fill="rgba(25,35,15,0.78)">34</text>
<text x="208.66" y="310.57" font-size="4.7" text-anchor="middle" fill="rgba(25,35,15,0.78)">39</text>
<text x="217.68" y="310.57" font-size="4.7" text-anchor="middle" fill="rgba(25,35,15,0.78)">48</text>
<text x="226.69" y="310.57" font-size="4.7" text-anchor="middle" fill="rgba(25,35,15,0.78)">56</text>
<text x="172.61" y="319.32" font-size="4.7" text-anchor="middle" fill="rgba(255,255,255,0.62)">18</text>
<text x="181.62" y="319.32" font-size="4.7" text-anchor="middle" fill="rgba(255,255,255,0.62)">27</text>
<text x="190.64" y="319.32" font-size="4.7" text-anchor="middle" fill="rgba(255,255,255,0.62)">28</text>
<text x="199.65" y="319.32" font-size="4.7" text-anchor="middle" fill="rgba(255,255,255,0.62)">29</text>
<text x="208.66" y="319.32" font-size="4.7" text-anchor="middle" fill="rgba(25,35,15,0.78)">37</text>
<text x="217.68" y="319.32" font-size="4.7" text-anchor="middle" fill="rgba(25,35,15,0.78)">50</text>
<text x="226.69" y="319.32" font-size="4.7" text-anchor="middle" fill="rgba(25,35,15,0.78)">60</text>
<text x="172.61" y="328.07" font-size="4.7" text-anchor="middle" fill="rgba(255,255,255,0.62)">11</text>
<text x="181.62" y="328.07" font-size="4.7" text-anchor="middle" fill="rgba(255,255,255,0.62)">20</text>
<text x="190.64" y="328.07" font-size="4.7" text-anchor="middle" fill="rgba(255,255,255,0.62)">22</text>
<text x="199.65" y="328.07" font-size="4.7" text-anchor="middle" fill="rgba(255,255,255,0.62)">23</text>
<text x="208.66" y="328.07" font-size="4.7" text-anchor="middle" fill="rgba(25,35,15,0.78)">33</text>
<text x="217.68" y="328.07" font-size="4.7" text-anchor="middle" fill="rgba(25,35,15,0.78)">50</text>
<text x="226.69" y="328.07" font-size="4.7" text-anchor="middle" fill="rgba(25,35,15,0.78)">61</text>
<text x="172.61" y="336.82" font-size="4.7" text-anchor="middle" fill="rgba(255,255,255,0.62)">11</text>
<text x="181.62" y="336.82" font-size="4.7" text-anchor="middle" fill="rgba(255,255,255,0.62)">21</text>
<text x="190.64" y="336.82" font-size="4.7" text-anchor="middle" fill="rgba(255,255,255,0.62)">16</text>
<text x="199.65" y="336.82" font-size="4.7" text-anchor="middle" fill="rgba(255,255,255,0.62)">16</text>
<text x="208.66" y="336.82" font-size="4.7" text-anchor="middle" fill="rgba(255,255,255,0.62)">28</text>
<text x="217.68" y="336.82" font-size="4.7" text-anchor="middle" fill="rgba(25,35,15,0.78)">47</text>
<text x="226.69" y="336.82" font-size="4.7" text-anchor="middle" fill="rgba(25,35,15,0.78)">60</text>
<text x="172.61" y="345.57" font-size="4.7" text-anchor="middle" fill="rgba(255,255,255,0.62)">11</text>
<text x="181.62" y="345.57" font-size="4.7" text-anchor="middle" fill="rgba(255,255,255,0.62)">16</text>
<text x="190.64" y="345.57" font-size="4.7" text-anchor="middle" fill="rgba(255,255,255,0.62)">11</text>
<text x="199.65" y="345.57" font-size="4.7" text-anchor="middle" fill="rgba(255,255,255,0.62)">11</text>
<text x="208.66" y="345.57" font-size="4.7" text-anchor="middle" fill="rgba(255,255,255,0.62)">25</text>
<text x="217.68" y="345.57" font-size="4.7" text-anchor="middle" fill="rgba(25,35,15,0.78)">42</text>
<text x="226.69" y="345.57" font-size="4.7" text-anchor="middle" fill="rgba(25,35,15,0.78)">55</text>
<text x="172.61" y="354.32" font-size="4.7" text-anchor="middle" fill="rgba(255,255,255,0.62)">9</text>
<text x="181.62" y="354.32" font-size="4.7" text-anchor="middle" fill="rgba(255,255,255,0.62)">11</text>
<text x="190.64" y="354.32" font-size="4.7" text-anchor="middle" fill="rgba(255,255,255,0.62)">7</text>
<text x="199.65" y="354.32" font-size="4.7" text-anchor="middle" fill="rgba(255,255,255,0.62)">7</text>
<text x="208.66" y="354.32" font-size="4.7" text-anchor="middle" fill="rgba(255,255,255,0.62)">18</text>
<text x="217.68" y="354.32" font-size="4.7" text-anchor="middle" fill="rgba(25,35,15,0.78)">36</text>
<text x="226.69" y="354.32" font-size="4.7" text-anchor="middle" fill="rgba(25,35,15,0.78)">40</text>
<text x="172.61" y="363.07" font-size="4.7" text-anchor="middle" fill="rgba(255,255,255,0.62)">7</text>
<text x="181.62" y="363.07" font-size="4.7" text-anchor="middle" fill="rgba(255,255,255,0.62)">7</text>
<text x="190.64" y="363.07" font-size="4.7" text-anchor="middle" fill="rgba(255,255,255,0.62)">4</text>
<text x="199.65" y="363.07" font-size="4.7" text-anchor="middle" fill="rgba(255,255,255,0.62)">5</text>
<text x="208.66" y="363.07" font-size="4.7" text-anchor="middle" fill="rgba(255,255,255,0.62)">16</text>
<text x="217.68" y="363.07" font-size="4.7" text-anchor="middle" fill="rgba(255,255,255,0.62)">31</text>
<text x="226.69" y="363.07" font-size="4.7" text-anchor="middle" fill="rgba(25,35,15,0.78)">45</text>
<text x="172.61" y="371.82" font-size="4.7" text-anchor="middle" fill="rgba(255,255,255,0.62)">0</text>
<text x="181.62" y="371.82" font-size="4.7" text-anchor="middle" fill="rgba(255,255,255,0.62)">4</text>
<text x="190.64" y="371.82" font-size="4.7" text-anchor="middle" fill="rgba(255,255,255,0.62)">4</text>
<text x="199.65" y="371.82" font-size="4.7" text-anchor="middle" fill="rgba(255,255,255,0.62)">5</text>
<text x="208.66" y="371.82" font-size="4.7" text-anchor="middle" fill="rgba(255,255,255,0.62)">11</text>
<text x="217.68" y="371.82" font-size="4.7" text-anchor="middle" fill="rgba(255,255,255,0.62)">21</text>
<text x="226.69" y="371.82" font-size="4.7" text-anchor="middle" fill="rgba(255,255,255,0.62)">27</text>
</g>
</g>
<text x="199.65" y="284.30" font-size="5.60" text-anchor="middle" font-weight="normal" fill="#231f20" stroke="#231f20" stroke-width="0.18" >Percentage inhibition</text>
<line x1="172.61" y1="375.00" x2="172.61" y2="376.70" stroke="#555" stroke-width="0.4"/>
<text transform="translate(173.91,378.60) rotate(-90)" font-size="3.7" font-weight="bold" text-anchor="end" fill="#1a1a1a" stroke="#1a1a1a" stroke-width="0.15">0</text>
<line x1="181.62" y1="375.00" x2="181.62" y2="376.70" stroke="#555" stroke-width="0.4"/>
<text transform="translate(182.92,378.60) rotate(-90)" font-size="3.7" font-weight="bold" text-anchor="end" fill="#1a1a1a" stroke="#1a1a1a" stroke-width="0.15">0.1</text>
<line x1="190.64" y1="375.00" x2="190.64" y2="376.70" stroke="#555" stroke-width="0.4"/>
<text transform="translate(191.94,378.60) rotate(-90)" font-size="3.7" font-weight="bold" text-anchor="end" fill="#1a1a1a" stroke="#1a1a1a" stroke-width="0.15">0.25</text>
<line x1="199.65" y1="375.00" x2="199.65" y2="376.70" stroke="#555" stroke-width="0.4"/>
<text transform="translate(200.95,378.60) rotate(-90)" font-size="3.7" font-weight="bold" text-anchor="end" fill="#1a1a1a" stroke="#1a1a1a" stroke-width="0.15">0.5</text>
<line x1="208.66" y1="375.00" x2="208.66" y2="376.70" stroke="#555" stroke-width="0.4"/>
<text transform="translate(209.96,378.60) rotate(-90)" font-size="3.7" font-weight="bold" text-anchor="end" fill="#1a1a1a" stroke="#1a1a1a" stroke-width="0.15">1</text>
<line x1="217.68" y1="375.00" x2="217.68" y2="376.70" stroke="#555" stroke-width="0.4"/>
<text transform="translate(218.98,378.60) rotate(-90)" font-size="3.7" font-weight="bold" text-anchor="end" fill="#1a1a1a" stroke="#1a1a1a" stroke-width="0.15">2</text>
<line x1="226.69" y1="375.00" x2="226.69" y2="376.70" stroke="#555" stroke-width="0.4"/>
<text transform="translate(227.99,378.60) rotate(-90)" font-size="3.7" font-weight="bold" text-anchor="end" fill="#1a1a1a" stroke="#1a1a1a" stroke-width="0.15">3</text>
<text x="200.00" y="393.30" font-size="5.55" text-anchor="middle" font-weight="normal" fill="#231f20" stroke="#231f20" stroke-width="0.18" >R428 (&#181;mol/L)</text>
<g filter="url(#gb)">
<rect x="234.80" y="287.00" width="9.93" height="9.75" fill="rgb(37,40,145)"/>
<rect x="243.73" y="287.00" width="9.93" height="9.75" fill="rgb(145,210,110)"/>
<rect x="252.66" y="287.00" width="9.93" height="9.75" fill="rgb(240,230,40)"/>
<rect x="261.59" y="287.00" width="9.93" height="9.75" fill="rgb(240,230,40)"/>
<rect x="270.51" y="287.00" width="9.93" height="9.75" fill="rgb(240,230,40)"/>
<rect x="279.44" y="287.00" width="9.93" height="9.75" fill="rgb(205,225,55)"/>
<rect x="288.37" y="287.00" width="8.93" height="9.75" fill="rgb(205,225,55)"/>
<rect x="234.80" y="295.75" width="9.93" height="9.75" fill="rgb(37,40,145)"/>
<rect x="243.73" y="295.75" width="9.93" height="9.75" fill="rgb(175,220,85)"/>
<rect x="252.66" y="295.75" width="9.93" height="9.75" fill="rgb(240,230,40)"/>
<rect x="261.59" y="295.75" width="9.93" height="9.75" fill="rgb(240,230,40)"/>
<rect x="270.51" y="295.75" width="9.93" height="9.75" fill="rgb(240,230,40)"/>
<rect x="279.44" y="295.75" width="9.93" height="9.75" fill="rgb(205,225,55)"/>
<rect x="288.37" y="295.75" width="8.93" height="9.75" fill="rgb(205,225,55)"/>
<rect x="234.80" y="304.50" width="9.93" height="9.75" fill="rgb(37,40,145)"/>
<rect x="243.73" y="304.50" width="9.93" height="9.75" fill="rgb(145,210,110)"/>
<rect x="252.66" y="304.50" width="9.93" height="9.75" fill="rgb(240,230,40)"/>
<rect x="261.59" y="304.50" width="9.93" height="9.75" fill="rgb(240,230,40)"/>
<rect x="270.51" y="304.50" width="9.93" height="9.75" fill="rgb(240,230,40)"/>
<rect x="279.44" y="304.50" width="9.93" height="9.75" fill="rgb(240,230,40)"/>
<rect x="288.37" y="304.50" width="8.93" height="9.75" fill="rgb(240,230,40)"/>
<rect x="234.80" y="313.25" width="9.93" height="9.75" fill="rgb(37,40,145)"/>
<rect x="243.73" y="313.25" width="9.93" height="9.75" fill="rgb(130,210,180)"/>
<rect x="252.66" y="313.25" width="9.93" height="9.75" fill="rgb(145,210,110)"/>
<rect x="261.59" y="313.25" width="9.93" height="9.75" fill="rgb(145,210,110)"/>
<rect x="270.51" y="313.25" width="9.93" height="9.75" fill="rgb(205,225,55)"/>
<rect x="279.44" y="313.25" width="9.93" height="9.75" fill="rgb(245,145,35)"/>
<rect x="288.37" y="313.25" width="8.93" height="9.75" fill="rgb(225,38,35)"/>
<rect x="234.80" y="322.00" width="9.93" height="9.75" fill="rgb(37,40,145)"/>
<rect x="243.73" y="322.00" width="9.93" height="9.75" fill="rgb(115,200,222)"/>
<rect x="252.66" y="322.00" width="9.93" height="9.75" fill="rgb(60,80,182)"/>
<rect x="261.59" y="322.00" width="9.93" height="9.75" fill="rgb(60,80,182)"/>
<rect x="270.51" y="322.00" width="9.93" height="9.75" fill="rgb(130,210,180)"/>
<rect x="279.44" y="322.00" width="9.93" height="9.75" fill="rgb(248,198,38)"/>
<rect x="288.37" y="322.00" width="8.93" height="9.75" fill="rgb(205,30,30)"/>
<rect x="234.80" y="330.75" width="9.93" height="9.75" fill="rgb(37,40,145)"/>
<rect x="243.73" y="330.75" width="9.93" height="9.75" fill="rgb(60,80,182)"/>
<rect x="252.66" y="330.75" width="9.93" height="9.75" fill="rgb(37,40,145)"/>
<rect x="261.59" y="330.75" width="9.93" height="9.75" fill="rgb(37,40,145)"/>
<rect x="270.51" y="330.75" width="9.93" height="9.75" fill="rgb(60,80,182)"/>
<rect x="279.44" y="330.75" width="9.93" height="9.75" fill="rgb(240,230,40)"/>
<rect x="288.37" y="330.75" width="8.93" height="9.75" fill="rgb(233,75,33)"/>
<rect x="234.80" y="339.50" width="9.93" height="9.75" fill="rgb(37,40,145)"/>
<rect x="243.73" y="339.50" width="9.93" height="9.75" fill="rgb(48,58,160)"/>
<rect x="252.66" y="339.50" width="9.93" height="9.75" fill="rgb(37,40,145)"/>
<rect x="261.59" y="339.50" width="9.93" height="9.75" fill="rgb(37,40,145)"/>
<rect x="270.51" y="339.50" width="9.93" height="9.75" fill="rgb(48,58,160)"/>
<rect x="279.44" y="339.50" width="9.93" height="9.75" fill="rgb(130,210,180)"/>
<rect x="288.37" y="339.50" width="8.93" height="9.75" fill="rgb(240,230,40)"/>
<rect x="234.80" y="348.25" width="9.93" height="9.75" fill="rgb(37,40,145)"/>
<rect x="243.73" y="348.25" width="9.93" height="9.75" fill="rgb(37,40,145)"/>
<rect x="252.66" y="348.25" width="9.93" height="9.75" fill="rgb(37,40,145)"/>
<rect x="261.59" y="348.25" width="9.93" height="9.75" fill="rgb(37,40,145)"/>
<rect x="270.51" y="348.25" width="9.93" height="9.75" fill="rgb(37,40,145)"/>
<rect x="279.44" y="348.25" width="9.93" height="9.75" fill="rgb(72,108,198)"/>
<rect x="288.37" y="348.25" width="8.93" height="9.75" fill="rgb(130,210,180)"/>
<rect x="234.80" y="357.00" width="9.93" height="9.75" fill="rgb(37,40,145)"/>
<rect x="243.73" y="357.00" width="9.93" height="9.75" fill="rgb(37,40,145)"/>
<rect x="252.66" y="357.00" width="9.93" height="9.75" fill="rgb(37,40,145)"/>
<rect x="261.59" y="357.00" width="9.93" height="9.75" fill="rgb(37,40,145)"/>
<rect x="270.51" y="357.00" width="9.93" height="9.75" fill="rgb(37,40,145)"/>
<rect x="279.44" y="357.00" width="9.93" height="9.75" fill="rgb(48,58,160)"/>
<rect x="288.37" y="357.00" width="8.93" height="9.75" fill="rgb(48,58,160)"/>
<rect x="234.80" y="365.75" width="9.93" height="8.75" fill="rgb(37,40,145)"/>
<rect x="243.73" y="365.75" width="9.93" height="8.75" fill="rgb(37,40,145)"/>
<rect x="252.66" y="365.75" width="9.93" height="8.75" fill="rgb(37,40,145)"/>
<rect x="261.59" y="365.75" width="9.93" height="8.75" fill="rgb(37,40,145)"/>
<rect x="270.51" y="365.75" width="9.93" height="8.75" fill="rgb(37,40,145)"/>
<rect x="279.44" y="365.75" width="9.93" height="8.75" fill="rgb(37,40,145)"/>
<rect x="288.37" y="365.75" width="8.93" height="8.75" fill="rgb(37,40,145)"/>
<g font-weight="bold">
<text x="239.26" y="293.07" font-size="4.7" text-anchor="middle" fill="rgba(255,255,255,0.62)">0</text>
<text x="248.19" y="293.07" font-size="4.7" text-anchor="middle" fill="rgba(25,35,15,0.78)">14</text>
<text x="257.12" y="293.07" font-size="4.7" text-anchor="middle" fill="rgba(25,35,15,0.78)">18</text>
<text x="266.05" y="293.07" font-size="4.7" text-anchor="middle" fill="rgba(25,35,15,0.78)">19</text>
<text x="274.98" y="293.07" font-size="4.7" text-anchor="middle" fill="rgba(25,35,15,0.78)">19</text>
<text x="283.91" y="293.07" font-size="4.7" text-anchor="middle" fill="rgba(25,35,15,0.78)">17</text>
<text x="292.84" y="293.07" font-size="4.7" text-anchor="middle" fill="rgba(25,35,15,0.78)">17</text>
<text x="239.26" y="301.82" font-size="4.7" text-anchor="middle" fill="rgba(255,255,255,0.62)">0</text>
<text x="248.19" y="301.82" font-size="4.7" text-anchor="middle" fill="rgba(25,35,15,0.78)">16</text>
<text x="257.12" y="301.82" font-size="4.7" text-anchor="middle" fill="rgba(25,35,15,0.78)">19</text>
<text x="266.05" y="301.82" font-size="4.7" text-anchor="middle" fill="rgba(25,35,15,0.78)">19</text>
<text x="274.98" y="301.82" font-size="4.7" text-anchor="middle" fill="rgba(25,35,15,0.78)">19</text>
<text x="283.91" y="301.82" font-size="4.7" text-anchor="middle" fill="rgba(25,35,15,0.78)">17</text>
<text x="292.84" y="301.82" font-size="4.7" text-anchor="middle" fill="rgba(25,35,15,0.78)">17</text>
<text x="239.26" y="310.57" font-size="4.7" text-anchor="middle" fill="rgba(255,255,255,0.62)">0</text>
<text x="248.19" y="310.57" font-size="4.7" text-anchor="middle" fill="rgba(25,35,15,0.78)">15</text>
<text x="257.12" y="310.57" font-size="4.7" text-anchor="middle" fill="rgba(25,35,15,0.78)">18</text>
<text x="266.05" y="310.57" font-size="4.7" text-anchor="middle" fill="rgba(25,35,15,0.78)">19</text>
<text x="274.98" y="310.57" font-size="4.7" text-anchor="middle" fill="rgba(25,35,15,0.78)">19</text>
<text x="283.91" y="310.57" font-size="4.7" text-anchor="middle" fill="rgba(25,35,15,0.78)">19</text>
<text x="292.84" y="310.57" font-size="4.7" text-anchor="middle" fill="rgba(25,35,15,0.78)">19</text>
<text x="239.26" y="319.32" font-size="4.7" text-anchor="middle" fill="rgba(255,255,255,0.62)">0</text>
<text x="248.19" y="319.32" font-size="4.7" text-anchor="middle" fill="rgba(25,35,15,0.78)">13</text>
<text x="257.12" y="319.32" font-size="4.7" text-anchor="middle" fill="rgba(25,35,15,0.78)">14</text>
<text x="266.05" y="319.32" font-size="4.7" text-anchor="middle" fill="rgba(25,35,15,0.78)">16</text>
<text x="274.98" y="319.32" font-size="4.7" text-anchor="middle" fill="rgba(25,35,15,0.78)">17</text>
<text x="283.91" y="319.32" font-size="4.7" text-anchor="middle" fill="rgba(25,35,15,0.78)">21</text>
<text x="292.84" y="319.32" font-size="4.7" text-anchor="middle" fill="rgba(255,255,255,0.62)">23</text>
<text x="239.26" y="328.07" font-size="4.7" text-anchor="middle" fill="rgba(255,255,255,0.62)">0</text>
<text x="248.19" y="328.07" font-size="4.7" text-anchor="middle" fill="rgba(25,35,15,0.78)">10</text>
<text x="257.12" y="328.07" font-size="4.7" text-anchor="middle" fill="rgba(255,255,255,0.62)">6</text>
<text x="266.05" y="328.07" font-size="4.7" text-anchor="middle" fill="rgba(255,255,255,0.62)">7</text>
<text x="274.98" y="328.07" font-size="4.7" text-anchor="middle" fill="rgba(25,35,15,0.78)">12</text>
<text x="283.91" y="328.07" font-size="4.7" text-anchor="middle" fill="rgba(25,35,15,0.78)">20</text>
<text x="292.84" y="328.07" font-size="4.7" text-anchor="middle" fill="rgba(255,255,255,0.62)">31</text>
<text x="239.26" y="336.82" font-size="4.7" text-anchor="middle" fill="rgba(255,255,255,0.62)">0</text>
<text x="248.19" y="336.82" font-size="4.7" text-anchor="middle" fill="rgba(255,255,255,0.62)">6</text>
<text x="257.12" y="336.82" font-size="4.7" text-anchor="middle" fill="rgba(255,255,255,0.62)">1</text>
<text x="266.05" y="336.82" font-size="4.7" text-anchor="middle" fill="rgba(255,255,255,0.62)">0</text>
<text x="274.98" y="336.82" font-size="4.7" text-anchor="middle" fill="rgba(255,255,255,0.62)">7</text>
<text x="283.91" y="336.82" font-size="4.7" text-anchor="middle" fill="rgba(25,35,15,0.78)">17</text>
<text x="292.84" y="336.82" font-size="4.7" text-anchor="middle" fill="rgba(25,35,15,0.78)">23</text>
<text x="239.26" y="345.57" font-size="4.7" text-anchor="middle" fill="rgba(255,255,255,0.62)">0</text>
<text x="248.19" y="345.57" font-size="4.7" text-anchor="middle" fill="rgba(255,255,255,0.62)">2</text>
<text x="257.12" y="345.57" font-size="4.7" text-anchor="middle" fill="rgba(255,255,255,0.62)">&#8211;3</text>
<text x="266.05" y="345.57" font-size="4.7" text-anchor="middle" fill="rgba(255,255,255,0.62)">&#8211;4</text>
<text x="274.98" y="345.57" font-size="4.7" text-anchor="middle" fill="rgba(255,255,255,0.62)">2</text>
<text x="283.91" y="345.57" font-size="4.7" text-anchor="middle" fill="rgba(25,35,15,0.78)">13</text>
<text x="292.84" y="345.57" font-size="4.7" text-anchor="middle" fill="rgba(25,35,15,0.78)">19</text>
<text x="239.26" y="354.32" font-size="4.7" text-anchor="middle" fill="rgba(255,255,255,0.62)">0</text>
<text x="248.19" y="354.32" font-size="4.7" text-anchor="middle" fill="rgba(255,255,255,0.62)">&#8211;2</text>
<text x="257.12" y="354.32" font-size="4.7" text-anchor="middle" fill="rgba(255,255,255,0.62)">&#8211;6</text>
<text x="266.05" y="354.32" font-size="4.7" text-anchor="middle" fill="rgba(255,255,255,0.62)">&#8211;7</text>
<text x="274.98" y="354.32" font-size="4.7" text-anchor="middle" fill="rgba(255,255,255,0.62)">&#8211;2</text>
<text x="283.91" y="354.32" font-size="4.7" text-anchor="middle" fill="rgba(255,255,255,0.62)">7</text>
<text x="292.84" y="354.32" font-size="4.7" text-anchor="middle" fill="rgba(25,35,15,0.78)">13</text>
<text x="239.26" y="363.07" font-size="4.7" text-anchor="middle" fill="rgba(255,255,255,0.62)">0</text>
<text x="248.19" y="363.07" font-size="4.7" text-anchor="middle" fill="rgba(255,255,255,0.62)">&#8211;4</text>
<text x="257.12" y="363.07" font-size="4.7" text-anchor="middle" fill="rgba(255,255,255,0.62)">&#8211;7</text>
<text x="266.05" y="363.07" font-size="4.7" text-anchor="middle" fill="rgba(255,255,255,0.62)">&#8211;7</text>
<text x="274.98" y="363.07" font-size="4.7" text-anchor="middle" fill="rgba(255,255,255,0.62)">&#8211;4</text>
<text x="283.91" y="363.07" font-size="4.7" text-anchor="middle" fill="rgba(255,255,255,0.62)">3</text>
<text x="292.84" y="363.07" font-size="4.7" text-anchor="middle" fill="rgba(255,255,255,0.62)">6</text>
<text x="239.26" y="371.82" font-size="4.7" text-anchor="middle" fill="rgba(255,255,255,0.62)">0</text>
<text x="248.19" y="371.82" font-size="4.7" text-anchor="middle" fill="rgba(255,255,255,0.62)">0</text>
<text x="257.12" y="371.82" font-size="4.7" text-anchor="middle" fill="rgba(255,255,255,0.62)">0</text>
<text x="266.05" y="371.82" font-size="4.7" text-anchor="middle" fill="rgba(255,255,255,0.62)">0</text>
<text x="274.98" y="371.82" font-size="4.7" text-anchor="middle" fill="rgba(255,255,255,0.62)">0</text>
<text x="283.91" y="371.82" font-size="4.7" text-anchor="middle" fill="rgba(255,255,255,0.62)">0</text>
<text x="292.84" y="371.82" font-size="4.7" text-anchor="middle" fill="rgba(255,255,255,0.62)">0</text>
</g>
</g>
<text x="266.05" y="284.30" font-size="5.60" text-anchor="middle" font-weight="normal" fill="#231f20" stroke="#231f20" stroke-width="0.18" >Delta Bliss</text>
<line x1="239.26" y1="375.00" x2="239.26" y2="376.70" stroke="#555" stroke-width="0.4"/>
<text transform="translate(240.56,378.60) rotate(-90)" font-size="3.7" font-weight="bold" text-anchor="end" fill="#1a1a1a" stroke="#1a1a1a" stroke-width="0.15">0</text>
<line x1="248.19" y1="375.00" x2="248.19" y2="376.70" stroke="#555" stroke-width="0.4"/>
<text transform="translate(249.49,378.60) rotate(-90)" font-size="3.7" font-weight="bold" text-anchor="end" fill="#1a1a1a" stroke="#1a1a1a" stroke-width="0.15">0.1</text>
<line x1="257.12" y1="375.00" x2="257.12" y2="376.70" stroke="#555" stroke-width="0.4"/>
<text transform="translate(258.42,378.60) rotate(-90)" font-size="3.7" font-weight="bold" text-anchor="end" fill="#1a1a1a" stroke="#1a1a1a" stroke-width="0.15">0.25</text>
<line x1="266.05" y1="375.00" x2="266.05" y2="376.70" stroke="#555" stroke-width="0.4"/>
<text transform="translate(267.35,378.60) rotate(-90)" font-size="3.7" font-weight="bold" text-anchor="end" fill="#1a1a1a" stroke="#1a1a1a" stroke-width="0.15">0.5</text>
<line x1="274.98" y1="375.00" x2="274.98" y2="376.70" stroke="#555" stroke-width="0.4"/>
<text transform="translate(276.28,378.60) rotate(-90)" font-size="3.7" font-weight="bold" text-anchor="end" fill="#1a1a1a" stroke="#1a1a1a" stroke-width="0.15">1</text>
<line x1="283.91" y1="375.00" x2="283.91" y2="376.70" stroke="#555" stroke-width="0.4"/>
<text transform="translate(285.21,378.60) rotate(-90)" font-size="3.7" font-weight="bold" text-anchor="end" fill="#1a1a1a" stroke="#1a1a1a" stroke-width="0.15">2</text>
<line x1="292.84" y1="375.00" x2="292.84" y2="376.70" stroke="#555" stroke-width="0.4"/>
<text transform="translate(294.14,378.60) rotate(-90)" font-size="3.7" font-weight="bold" text-anchor="end" fill="#1a1a1a" stroke="#1a1a1a" stroke-width="0.15">3</text>
<text x="266.25" y="393.30" font-size="5.55" text-anchor="middle" font-weight="normal" fill="#231f20" stroke="#231f20" stroke-width="0.18" >R428 (&#181;mol/L)</text>
<text x="97.95" y="275.00" font-size="5.70" text-anchor="middle" font-weight="normal" fill="#231f20" stroke="#231f20" stroke-width="0.18" text-decoration="underline">HCC827 parental</text>
<text x="232.70" y="275.00" font-size="5.70" text-anchor="middle" font-weight="normal" fill="#231f20" stroke="#231f20" stroke-width="0.18" text-decoration="underline">HCC827 ERL-R</text>
<line x1="31.30" y1="291.38" x2="33.30" y2="291.38" stroke="#555" stroke-width="0.4"/>
<text x="30.60" y="292.77" font-size="4.00" text-anchor="end" font-weight="bold" fill="#222" stroke="#222" stroke-width="0.08" >300</text>
<line x1="31.30" y1="300.12" x2="33.30" y2="300.12" stroke="#555" stroke-width="0.4"/>
<text x="30.60" y="301.52" font-size="4.00" text-anchor="end" font-weight="bold" fill="#222" stroke="#222" stroke-width="0.08" >10</text>
<line x1="31.30" y1="308.88" x2="33.30" y2="308.88" stroke="#555" stroke-width="0.4"/>
<text x="30.60" y="310.27" font-size="4.00" text-anchor="end" font-weight="bold" fill="#222" stroke="#222" stroke-width="0.08" >3</text>
<line x1="31.30" y1="317.62" x2="33.30" y2="317.62" stroke="#555" stroke-width="0.4"/>
<text x="30.60" y="319.02" font-size="4.00" text-anchor="end" font-weight="bold" fill="#222" stroke="#222" stroke-width="0.08" >1</text>
<line x1="31.30" y1="326.38" x2="33.30" y2="326.38" stroke="#555" stroke-width="0.4"/>
<text x="30.60" y="327.77" font-size="4.00" text-anchor="end" font-weight="bold" fill="#222" stroke="#222" stroke-width="0.08" >0.3</text>
<line x1="31.30" y1="335.12" x2="33.30" y2="335.12" stroke="#555" stroke-width="0.4"/>
<text x="30.60" y="336.52" font-size="4.00" text-anchor="end" font-weight="bold" fill="#222" stroke="#222" stroke-width="0.08" >0.1</text>
<line x1="31.30" y1="343.88" x2="33.30" y2="343.88" stroke="#555" stroke-width="0.4"/>
<text x="30.60" y="345.27" font-size="4.00" text-anchor="end" font-weight="bold" fill="#222" stroke="#222" stroke-width="0.08" >0.03</text>
<line x1="31.30" y1="352.62" x2="33.30" y2="352.62" stroke="#555" stroke-width="0.4"/>
<text x="30.60" y="354.02" font-size="4.00" text-anchor="end" font-weight="bold" fill="#222" stroke="#222" stroke-width="0.08" >0.01</text>
<line x1="31.30" y1="361.38" x2="33.30" y2="361.38" stroke="#555" stroke-width="0.4"/>
<text x="30.60" y="362.77" font-size="4.00" text-anchor="end" font-weight="bold" fill="#222" stroke="#222" stroke-width="0.08" >0.003</text>
<line x1="31.30" y1="370.12" x2="33.30" y2="370.12" stroke="#555" stroke-width="0.4"/>
<text x="30.60" y="371.52" font-size="4.00" text-anchor="end" font-weight="bold" fill="#222" stroke="#222" stroke-width="0.08" >0</text>
<text transform="translate(20.10,327.80) rotate(-90)" font-size="5.5" text-anchor="middle" fill="#231f20" stroke="#231f20" stroke-width="0.16">DTX (nmol/L)</text>
<text x="16.60" y="23.40" font-size="13.40" text-anchor="start" font-weight="bold" fill="#000" stroke="#000" stroke-width="0.14" >A</text>
<text x="306.30" y="23.10" font-size="13.40" text-anchor="start" font-weight="bold" fill="#000" stroke="#000" stroke-width="0.14" >B</text>
<text x="306.00" y="145.00" font-size="13.40" text-anchor="start" font-weight="bold" fill="#000" stroke="#000" stroke-width="0.14" >C</text>
<text x="306.00" y="265.70" font-size="13.40" text-anchor="start" font-weight="bold" fill="#000" stroke="#000" stroke-width="0.14" >D</text>
<rect x="329.00" y="32.30" width="144.10" height="80.60" fill="none" stroke="#111" stroke-width="1.3"/>
<line x1="329.00" y1="42.30" x2="473.10" y2="42.30" stroke="#111" stroke-width="1.15"/>
<line x1="329.00" y1="51.90" x2="473.10" y2="51.90" stroke="#111" stroke-width="1.15"/>
<line x1="403.00" y1="42.30" x2="403.00" y2="112.90" stroke="#111" stroke-width="1.0"/>
<text x="331.00" y="40.00" font-size="7.90" text-anchor="start" font-weight="bold" fill="#231f20" stroke="#231f20" stroke-width="0.14"  textLength="141.20" lengthAdjust="spacingAndGlyphs">Combination with R428 and docetaxel</text>
<text x="351.00" y="50.00" font-size="8.10" text-anchor="start" font-weight="bold" fill="#231f20" stroke="#231f20" stroke-width="0.14"  textLength="34.40" lengthAdjust="spacingAndGlyphs">Cell line</text>
<text x="408.60" y="50.00" font-size="7.90" text-anchor="start" font-weight="bold" fill="#231f20" stroke="#231f20" stroke-width="0.14"  textLength="59.80" lengthAdjust="spacingAndGlyphs">Sum Bliss score</text>
<text x="333.00" y="59.90" font-size="7.70" text-anchor="start" font-weight="normal" fill="#231f20" stroke="#231f20" stroke-width="0.24"  textLength="66.60" lengthAdjust="spacingAndGlyphs">PC9 Mesenchymal</text>
<text x="438.05" y="59.90" font-size="7.90" text-anchor="middle" font-weight="normal" fill="#231f20" stroke="#231f20" stroke-width="0.24" >2536</text>
<text x="342.60" y="69.98" font-size="7.70" text-anchor="start" font-weight="normal" fill="#231f20" stroke="#231f20" stroke-width="0.24"  textLength="47.40" lengthAdjust="spacingAndGlyphs">PC9 Parental</text>
<text x="438.05" y="69.98" font-size="7.90" text-anchor="middle" font-weight="normal" fill="#231f20" stroke="#231f20" stroke-width="0.24" >108</text>
<text x="338.20" y="80.06" font-size="7.70" text-anchor="start" font-weight="normal" fill="#231f20" stroke="#231f20" stroke-width="0.24"  textLength="56.20" lengthAdjust="spacingAndGlyphs">HCC827 ERL-R</text>
<text x="438.05" y="80.06" font-size="7.90" text-anchor="middle" font-weight="normal" fill="#231f20" stroke="#231f20" stroke-width="0.24" >575</text>
<text x="335.80" y="90.14" font-size="7.70" text-anchor="start" font-weight="normal" fill="#231f20" stroke="#231f20" stroke-width="0.24"  textLength="61.00" lengthAdjust="spacingAndGlyphs">HCC827 Parental</text>
<text x="438.05" y="90.14" font-size="7.90" text-anchor="middle" font-weight="normal" fill="#231f20" stroke="#231f20" stroke-width="0.24" >11</text>
<text x="336.30" y="100.22" font-size="7.70" text-anchor="start" font-weight="normal" fill="#231f20" stroke="#231f20" stroke-width="0.24"  textLength="60.00" lengthAdjust="spacingAndGlyphs">HCC4006 ERL-R</text>
<text x="438.05" y="100.22" font-size="7.90" text-anchor="middle" font-weight="normal" fill="#231f20" stroke="#231f20" stroke-width="0.24" >470</text>
<text x="349.20" y="110.30" font-size="7.70" text-anchor="start" font-weight="normal" fill="#231f20" stroke="#231f20" stroke-width="0.24"  textLength="34.20" lengthAdjust="spacingAndGlyphs">HCC4006</text>
<text x="438.05" y="110.30" font-size="7.90" text-anchor="middle" font-weight="normal" fill="#231f20" stroke="#231f20" stroke-width="0.24" >110</text>
<line x1="329.40" y1="145.90" x2="329.40" y2="220.70" stroke="#444" stroke-width="0.55"/>
<line x1="329.40" y1="220.70" x2="404.40" y2="220.70" stroke="#444" stroke-width="0.55"/>
<line x1="327.90" y1="220.70" x2="329.40" y2="220.70" stroke="#444" stroke-width="0.55"/>
<text x="327.10" y="221.90" font-size="5.30" text-anchor="end" font-weight="bold" fill="#231f20" stroke="#231f20" stroke-width="0.14" >0</text>
<line x1="327.90" y1="205.12" x2="329.40" y2="205.12" stroke="#444" stroke-width="0.55"/>
<text x="327.10" y="206.32" font-size="5.30" text-anchor="end" font-weight="bold" fill="#231f20" stroke="#231f20" stroke-width="0.14" >50</text>
<line x1="327.90" y1="189.55" x2="329.40" y2="189.55" stroke="#444" stroke-width="0.55"/>
<text x="327.10" y="190.75" font-size="5.30" text-anchor="end" font-weight="bold" fill="#231f20" stroke="#231f20" stroke-width="0.14" >100</text>
<line x1="327.90" y1="173.97" x2="329.40" y2="173.97" stroke="#444" stroke-width="0.55"/>
<text x="327.10" y="175.17" font-size="5.30" text-anchor="end" font-weight="bold" fill="#231f20" stroke="#231f20" stroke-width="0.14" >150</text>
<line x1="327.90" y1="158.40" x2="329.40" y2="158.40" stroke="#444" stroke-width="0.55"/>
<text x="327.10" y="159.60" font-size="5.30" text-anchor="end" font-weight="bold" fill="#231f20" stroke="#231f20" stroke-width="0.14" >200</text>
<line x1="329.40" y1="220.70" x2="329.40" y2="222.20" stroke="#444" stroke-width="0.55"/>
<line x1="333.92" y1="220.70" x2="333.92" y2="221.60" stroke="#777" stroke-width="0.35"/>
<line x1="336.56" y1="220.70" x2="336.56" y2="221.60" stroke="#777" stroke-width="0.35"/>
<line x1="338.43" y1="220.70" x2="338.43" y2="221.60" stroke="#777" stroke-width="0.35"/>
<line x1="339.88" y1="220.70" x2="339.88" y2="221.60" stroke="#777" stroke-width="0.35"/>
<line x1="341.07" y1="220.70" x2="341.07" y2="221.60" stroke="#777" stroke-width="0.35"/>
<line x1="342.08" y1="220.70" x2="342.08" y2="221.60" stroke="#777" stroke-width="0.35"/>
<line x1="342.95" y1="220.70" x2="342.95" y2="221.60" stroke="#777" stroke-width="0.35"/>
<line x1="343.71" y1="220.70" x2="343.71" y2="221.60" stroke="#777" stroke-width="0.35"/>
<text x="329.40" y="228.10" font-size="5.30" text-anchor="middle" font-weight="bold" fill="#231f20" stroke="#231f20" stroke-width="0.14" >0.01</text>
<line x1="344.40" y1="220.70" x2="344.40" y2="222.20" stroke="#444" stroke-width="0.55"/>
<line x1="348.92" y1="220.70" x2="348.92" y2="221.60" stroke="#777" stroke-width="0.35"/>
<line x1="351.56" y1="220.70" x2="351.56" y2="221.60" stroke="#777" stroke-width="0.35"/>
<line x1="353.43" y1="220.70" x2="353.43" y2="221.60" stroke="#777" stroke-width="0.35"/>
<line x1="354.88" y1="220.70" x2="354.88" y2="221.60" stroke="#777" stroke-width="0.35"/>
<line x1="356.07" y1="220.70" x2="356.07" y2="221.60" stroke="#777" stroke-width="0.35"/>
<line x1="357.08" y1="220.70" x2="357.08" y2="221.60" stroke="#777" stroke-width="0.35"/>
<line x1="357.95" y1="220.70" x2="357.95" y2="221.60" stroke="#777" stroke-width="0.35"/>
<line x1="358.71" y1="220.70" x2="358.71" y2="221.60" stroke="#777" stroke-width="0.35"/>
<text x="344.40" y="228.10" font-size="5.30" text-anchor="middle" font-weight="bold" fill="#231f20" stroke="#231f20" stroke-width="0.14" >0.1</text>
<line x1="359.40" y1="220.70" x2="359.40" y2="222.20" stroke="#444" stroke-width="0.55"/>
<line x1="363.92" y1="220.70" x2="363.92" y2="221.60" stroke="#777" stroke-width="0.35"/>
<line x1="366.56" y1="220.70" x2="366.56" y2="221.60" stroke="#777" stroke-width="0.35"/>
<line x1="368.43" y1="220.70" x2="368.43" y2="221.60" stroke="#777" stroke-width="0.35"/>
<line x1="369.88" y1="220.70" x2="369.88" y2="221.60" stroke="#777" stroke-width="0.35"/>
<line x1="371.07" y1="220.70" x2="371.07" y2="221.60" stroke="#777" stroke-width="0.35"/>
<line x1="372.08" y1="220.70" x2="372.08" y2="221.60" stroke="#777" stroke-width="0.35"/>
<line x1="372.95" y1="220.70" x2="372.95" y2="221.60" stroke="#777" stroke-width="0.35"/>
<line x1="373.71" y1="220.70" x2="373.71" y2="221.60" stroke="#777" stroke-width="0.35"/>
<text x="359.40" y="228.10" font-size="5.30" text-anchor="middle" font-weight="bold" fill="#231f20" stroke="#231f20" stroke-width="0.14" >1</text>
<line x1="374.40" y1="220.70" x2="374.40" y2="222.20" stroke="#444" stroke-width="0.55"/>
<line x1="378.92" y1="220.70" x2="378.92" y2="221.60" stroke="#777" stroke-width="0.35"/>
<line x1="381.56" y1="220.70" x2="381.56" y2="221.60" stroke="#777" stroke-width="0.35"/>
<line x1="383.43" y1="220.70" x2="383.43" y2="221.60" stroke="#777" stroke-width="0.35"/>
<line x1="384.88" y1="220.70" x2="384.88" y2="221.60" stroke="#777" stroke-width="0.35"/>
<line x1="386.07" y1="220.70" x2="386.07" y2="221.60" stroke="#777" stroke-width="0.35"/>
<line x1="387.08" y1="220.70" x2="387.08" y2="221.60" stroke="#777" stroke-width="0.35"/>
<line x1="387.95" y1="220.70" x2="387.95" y2="221.60" stroke="#777" stroke-width="0.35"/>
<line x1="388.71" y1="220.70" x2="388.71" y2="221.60" stroke="#777" stroke-width="0.35"/>
<text x="374.40" y="228.10" font-size="5.30" text-anchor="middle" font-weight="bold" fill="#231f20" stroke="#231f20" stroke-width="0.14" >10</text>
<line x1="389.40" y1="220.70" x2="389.40" y2="222.20" stroke="#444" stroke-width="0.55"/>
<line x1="393.92" y1="220.70" x2="393.92" y2="221.60" stroke="#777" stroke-width="0.35"/>
<line x1="396.56" y1="220.70" x2="396.56" y2="221.60" stroke="#777" stroke-width="0.35"/>
<line x1="398.43" y1="220.70" x2="398.43" y2="221.60" stroke="#777" stroke-width="0.35"/>
<line x1="399.88" y1="220.70" x2="399.88" y2="221.60" stroke="#777" stroke-width="0.35"/>
<line x1="401.07" y1="220.70" x2="401.07" y2="221.60" stroke="#777" stroke-width="0.35"/>
<line x1="402.08" y1="220.70" x2="402.08" y2="221.60" stroke="#777" stroke-width="0.35"/>
<line x1="402.95" y1="220.70" x2="402.95" y2="221.60" stroke="#777" stroke-width="0.35"/>
<line x1="403.71" y1="220.70" x2="403.71" y2="221.60" stroke="#777" stroke-width="0.35"/>
<text x="389.40" y="228.10" font-size="5.30" text-anchor="middle" font-weight="bold" fill="#231f20" stroke="#231f20" stroke-width="0.14" >100</text>
<line x1="404.40" y1="220.70" x2="404.40" y2="222.20" stroke="#444" stroke-width="0.55"/>
<text x="404.40" y="228.10" font-size="5.30" text-anchor="middle" font-weight="bold" fill="#231f20" stroke="#231f20" stroke-width="0.14" >1,000</text>
<text x="367.40" y="237.30" font-size="6.40" text-anchor="middle" font-weight="normal" fill="#231f20" stroke="#231f20" stroke-width="0.24" >DTX (nmol/L)</text>
<text x="365.00" y="145.90" font-size="7.90" text-anchor="middle" font-weight="bold" fill="#000" stroke="#000" stroke-width="0.14" text-decoration="underline" textLength="15.40" lengthAdjust="spacingAndGlyphs">PC9</text>
<text transform="translate(312.20,181.30) rotate(-90)" font-size="6.9" font-weight="bold" text-anchor="middle" fill="#231f20" stroke="#231f20" stroke-width="0.12" textLength="41.5" lengthAdjust="spacingAndGlyphs">% Cell viability</text>
<path d="M336.00,172.60 C340.77,172.60 359.83,172.60 364.60,172.60" fill="none" stroke="#2f55a4" stroke-width="1.60" stroke-linejoin="round"/>
<path d="M364.4,172.6 C366.3,172.6 365.6,157.0 367.8,157.0 L396.8,157.0" fill="none" stroke="#2f55a4" stroke-width="1.6"/>
<path d="M336.00,180.80 C338.45,180.80 347.48,180.55 350.70,180.80 C353.92,181.05 353.95,181.55 355.30,182.30 C356.65,183.05 357.85,184.02 358.80,185.30 C359.75,186.58 360.33,187.88 361.00,190.00 C361.67,192.12 362.22,195.33 362.80,198.00 C363.38,200.67 363.98,203.75 364.50,206.00 C365.02,208.25 365.32,210.08 365.90,211.50 C366.48,212.92 366.98,213.88 368.00,214.50 C369.02,215.12 367.20,215.08 372.00,215.20 C376.80,215.32 392.67,215.20 396.80,215.20" fill="none" stroke="#111" stroke-width="1.60" stroke-linejoin="round"/>
<path d="M336.00,183.30 C336.67,183.52 338.50,183.98 340.00,184.60 C341.50,185.22 343.33,185.92 345.00,187.00 C346.67,188.08 348.67,189.55 350.00,191.10 C351.33,192.65 352.08,194.48 353.00,196.30 C353.92,198.12 354.67,200.28 355.50,202.00 C356.33,203.72 357.08,205.15 358.00,206.60 C358.92,208.05 360.00,209.55 361.00,210.70 C362.00,211.85 362.83,212.80 364.00,213.50 C365.17,214.20 362.53,214.62 368.00,214.90 C373.47,215.18 392.00,215.15 396.80,215.20" fill="none" stroke="#e0262f" stroke-width="1.60" stroke-linejoin="round"/>
<path d="M336.00,191.10 C338.17,191.10 346.62,190.12 349.00,191.10 C351.38,192.08 349.90,194.35 350.30,197.00 C350.70,199.65 351.07,204.08 351.40,207.00 C351.73,209.92 351.95,212.97 352.30,214.50 C352.65,216.03 346.08,215.92 353.50,216.20 C360.92,216.48 389.58,216.20 396.80,216.20" fill="none" stroke="#66bd48" stroke-width="1.60" stroke-linejoin="round"/>
<rect x="334.96" y="171.90" width="3.20" height="3.20" fill="#2f55a4"/>
<rect x="342.80" y="159.10" width="3.20" height="3.20" fill="#2f55a4"/>
<rect x="349.96" y="160.60" width="3.20" height="3.20" fill="#2f55a4"/>
<rect x="357.80" y="175.90" width="3.20" height="3.20" fill="#2f55a4"/>
<circle cx="366.56" cy="163.40" r="1.60" fill="#2f55a4"/>
<circle cx="374.40" cy="157.20" r="1.60" fill="#2f55a4"/>
<rect x="379.96" y="150.20" width="3.20" height="3.20" fill="#2f55a4"/>
<rect x="387.80" y="156.20" width="3.20" height="3.20" fill="#2f55a4"/>
<rect x="394.96" y="159.10" width="3.20" height="3.20" fill="#2f55a4"/>
<path d="M336.56,169.00 V176.50 M335.16,169.00 H337.96 M335.16,176.50 H337.96" stroke="#2f55a4" stroke-width="0.6" fill="none"/>
<path d="M351.56,159.50 V165.00 M350.16,159.50 H352.96 M350.16,165.00 H352.96" stroke="#2f55a4" stroke-width="0.6" fill="none"/>
<path d="M359.40,174.00 V180.50 M358.00,174.00 H360.80 M358.00,180.50 H360.80" stroke="#2f55a4" stroke-width="0.6" fill="none"/>
<path d="M389.40,155.50 V160.50 M388.00,155.50 H390.80 M388.00,160.50 H390.80" stroke="#2f55a4" stroke-width="0.6" fill="none"/>
<path d="M336.56,169.50 V180.60 M335.16,169.50 H337.96 M335.16,180.60 H337.96" stroke="#e0262f" stroke-width="0.6" fill="none"/>
<path d="M336.56,193.18 L334.64,189.50 L338.48,189.50 Z" fill="#66bd48"/>
<path d="M344.40,192.58 L342.48,188.90 L346.32,188.90 Z" fill="#66bd48"/>
<path d="M351.56,206.98 L349.64,203.30 L353.48,203.30 Z" fill="#66bd48"/>
<path d="M359.40,219.88 L357.48,216.20 L361.32,216.20 Z" fill="#66bd48"/>
<path d="M366.56,219.08 L364.64,215.40 L368.48,215.40 Z" fill="#66bd48"/>
<path d="M374.40,218.88 L372.48,215.20 L376.32,215.20 Z" fill="#66bd48"/>
<path d="M381.56,219.08 L379.64,215.40 L383.48,215.40 Z" fill="#66bd48"/>
<path d="M389.40,218.88 L387.48,215.20 L391.32,215.20 Z" fill="#66bd48"/>
<path d="M396.56,219.08 L394.64,215.40 L398.48,215.40 Z" fill="#66bd48"/>
<rect x="334.96" y="172.80" width="3.20" height="3.20" fill="#e0262f"/>
<rect x="342.80" y="184.90" width="3.20" height="3.20" fill="#e0262f"/>
<rect x="349.96" y="201.90" width="3.20" height="3.20" fill="#e0262f"/>
<rect x="357.80" y="207.90" width="3.20" height="3.20" fill="#e0262f"/>
<rect x="364.96" y="212.90" width="3.20" height="3.20" fill="#e0262f"/>
<rect x="372.80" y="213.60" width="3.20" height="3.20" fill="#e0262f"/>
<rect x="379.96" y="214.20" width="3.20" height="3.20" fill="#e0262f"/>
<rect x="387.80" y="213.60" width="3.20" height="3.20" fill="#e0262f"/>
<rect x="394.96" y="214.60" width="3.20" height="3.20" fill="#e0262f"/>
<circle cx="336.56" cy="180.80" r="1.60" fill="#111"/>
<circle cx="344.40" cy="176.20" r="1.60" fill="#111"/>
<circle cx="351.56" cy="179.60" r="1.60" fill="#111"/>
<circle cx="359.40" cy="188.20" r="1.60" fill="#111"/>
<circle cx="366.56" cy="211.20" r="1.60" fill="#111"/>
<circle cx="374.40" cy="214.80" r="1.60" fill="#111"/>
<circle cx="381.56" cy="214.20" r="1.60" fill="#111"/>
<circle cx="389.40" cy="214.50" r="1.60" fill="#111"/>
<circle cx="396.56" cy="215.80" r="1.60" fill="#111"/>
<line x1="423.80" y1="146.60" x2="423.80" y2="220.90" stroke="#444" stroke-width="0.55"/>
<line x1="423.80" y1="220.90" x2="498.05" y2="220.90" stroke="#444" stroke-width="0.55"/>
<line x1="422.30" y1="220.90" x2="423.80" y2="220.90" stroke="#444" stroke-width="0.55"/>
<text x="421.50" y="222.10" font-size="5.30" text-anchor="end" font-weight="bold" fill="#231f20" stroke="#231f20" stroke-width="0.14" >0</text>
<line x1="422.30" y1="208.52" x2="423.80" y2="208.52" stroke="#444" stroke-width="0.55"/>
<text x="421.50" y="209.72" font-size="5.30" text-anchor="end" font-weight="bold" fill="#231f20" stroke="#231f20" stroke-width="0.14" >20</text>
<line x1="422.30" y1="196.13" x2="423.80" y2="196.13" stroke="#444" stroke-width="0.55"/>
<text x="421.50" y="197.33" font-size="5.30" text-anchor="end" font-weight="bold" fill="#231f20" stroke="#231f20" stroke-width="0.14" >40</text>
<line x1="422.30" y1="183.75" x2="423.80" y2="183.75" stroke="#444" stroke-width="0.55"/>
<text x="421.50" y="184.95" font-size="5.30" text-anchor="end" font-weight="bold" fill="#231f20" stroke="#231f20" stroke-width="0.14" >60</text>
<line x1="422.30" y1="171.37" x2="423.80" y2="171.37" stroke="#444" stroke-width="0.55"/>
<text x="421.50" y="172.57" font-size="5.30" text-anchor="end" font-weight="bold" fill="#231f20" stroke="#231f20" stroke-width="0.14" >80</text>
<line x1="422.30" y1="158.98" x2="423.80" y2="158.98" stroke="#444" stroke-width="0.55"/>
<text x="421.50" y="160.18" font-size="5.30" text-anchor="end" font-weight="bold" fill="#231f20" stroke="#231f20" stroke-width="0.14" >100</text>
<line x1="422.30" y1="146.60" x2="423.80" y2="146.60" stroke="#444" stroke-width="0.55"/>
<text x="421.50" y="147.80" font-size="5.30" text-anchor="end" font-weight="bold" fill="#231f20" stroke="#231f20" stroke-width="0.14" >120</text>
<line x1="423.80" y1="220.90" x2="423.80" y2="222.40" stroke="#444" stroke-width="0.55"/>
<line x1="428.27" y1="220.90" x2="428.27" y2="221.80" stroke="#777" stroke-width="0.35"/>
<line x1="430.89" y1="220.90" x2="430.89" y2="221.80" stroke="#777" stroke-width="0.35"/>
<line x1="432.74" y1="220.90" x2="432.74" y2="221.80" stroke="#777" stroke-width="0.35"/>
<line x1="434.18" y1="220.90" x2="434.18" y2="221.80" stroke="#777" stroke-width="0.35"/>
<line x1="435.36" y1="220.90" x2="435.36" y2="221.80" stroke="#777" stroke-width="0.35"/>
<line x1="436.35" y1="220.90" x2="436.35" y2="221.80" stroke="#777" stroke-width="0.35"/>
<line x1="437.21" y1="220.90" x2="437.21" y2="221.80" stroke="#777" stroke-width="0.35"/>
<line x1="437.97" y1="220.90" x2="437.97" y2="221.80" stroke="#777" stroke-width="0.35"/>
<text x="423.80" y="228.30" font-size="5.30" text-anchor="middle" font-weight="bold" fill="#231f20" stroke="#231f20" stroke-width="0.14" >0.01</text>
<line x1="438.65" y1="220.90" x2="438.65" y2="222.40" stroke="#444" stroke-width="0.55"/>
<line x1="443.12" y1="220.90" x2="443.12" y2="221.80" stroke="#777" stroke-width="0.35"/>
<line x1="445.74" y1="220.90" x2="445.74" y2="221.80" stroke="#777" stroke-width="0.35"/>
<line x1="447.59" y1="220.90" x2="447.59" y2="221.80" stroke="#777" stroke-width="0.35"/>
<line x1="449.03" y1="220.90" x2="449.03" y2="221.80" stroke="#777" stroke-width="0.35"/>
<line x1="450.21" y1="220.90" x2="450.21" y2="221.80" stroke="#777" stroke-width="0.35"/>
<line x1="451.20" y1="220.90" x2="451.20" y2="221.80" stroke="#777" stroke-width="0.35"/>
<line x1="452.06" y1="220.90" x2="452.06" y2="221.80" stroke="#777" stroke-width="0.35"/>
<line x1="452.82" y1="220.90" x2="452.82" y2="221.80" stroke="#777" stroke-width="0.35"/>
<text x="438.65" y="228.30" font-size="5.30" text-anchor="middle" font-weight="bold" fill="#231f20" stroke="#231f20" stroke-width="0.14" >0.1</text>
<line x1="453.50" y1="220.90" x2="453.50" y2="222.40" stroke="#444" stroke-width="0.55"/>
<line x1="457.97" y1="220.90" x2="457.97" y2="221.80" stroke="#777" stroke-width="0.35"/>
<line x1="460.59" y1="220.90" x2="460.59" y2="221.80" stroke="#777" stroke-width="0.35"/>
<line x1="462.44" y1="220.90" x2="462.44" y2="221.80" stroke="#777" stroke-width="0.35"/>
<line x1="463.88" y1="220.90" x2="463.88" y2="221.80" stroke="#777" stroke-width="0.35"/>
<line x1="465.06" y1="220.90" x2="465.06" y2="221.80" stroke="#777" stroke-width="0.35"/>
<line x1="466.05" y1="220.90" x2="466.05" y2="221.80" stroke="#777" stroke-width="0.35"/>
<line x1="466.91" y1="220.90" x2="466.91" y2="221.80" stroke="#777" stroke-width="0.35"/>
<line x1="467.67" y1="220.90" x2="467.67" y2="221.80" stroke="#777" stroke-width="0.35"/>
<text x="453.50" y="228.30" font-size="5.30" text-anchor="middle" font-weight="bold" fill="#231f20" stroke="#231f20" stroke-width="0.14" >1</text>
<line x1="468.35" y1="220.90" x2="468.35" y2="222.40" stroke="#444" stroke-width="0.55"/>
<line x1="472.82" y1="220.90" x2="472.82" y2="221.80" stroke="#777" stroke-width="0.35"/>
<line x1="475.44" y1="220.90" x2="475.44" y2="221.80" stroke="#777" stroke-width="0.35"/>
<line x1="477.29" y1="220.90" x2="477.29" y2="221.80" stroke="#777" stroke-width="0.35"/>
<line x1="478.73" y1="220.90" x2="478.73" y2="221.80" stroke="#777" stroke-width="0.35"/>
<line x1="479.91" y1="220.90" x2="479.91" y2="221.80" stroke="#777" stroke-width="0.35"/>
<line x1="480.90" y1="220.90" x2="480.90" y2="221.80" stroke="#777" stroke-width="0.35"/>
<line x1="481.76" y1="220.90" x2="481.76" y2="221.80" stroke="#777" stroke-width="0.35"/>
<line x1="482.52" y1="220.90" x2="482.52" y2="221.80" stroke="#777" stroke-width="0.35"/>
<text x="468.35" y="228.30" font-size="5.30" text-anchor="middle" font-weight="bold" fill="#231f20" stroke="#231f20" stroke-width="0.14" >10</text>
<line x1="483.20" y1="220.90" x2="483.20" y2="222.40" stroke="#444" stroke-width="0.55"/>
<line x1="487.67" y1="220.90" x2="487.67" y2="221.80" stroke="#777" stroke-width="0.35"/>
<line x1="490.29" y1="220.90" x2="490.29" y2="221.80" stroke="#777" stroke-width="0.35"/>
<line x1="492.14" y1="220.90" x2="492.14" y2="221.80" stroke="#777" stroke-width="0.35"/>
<line x1="493.58" y1="220.90" x2="493.58" y2="221.80" stroke="#777" stroke-width="0.35"/>
<line x1="494.76" y1="220.90" x2="494.76" y2="221.80" stroke="#777" stroke-width="0.35"/>
<line x1="495.75" y1="220.90" x2="495.75" y2="221.80" stroke="#777" stroke-width="0.35"/>
<line x1="496.61" y1="220.90" x2="496.61" y2="221.80" stroke="#777" stroke-width="0.35"/>
<line x1="497.37" y1="220.90" x2="497.37" y2="221.80" stroke="#777" stroke-width="0.35"/>
<text x="483.20" y="228.30" font-size="5.30" text-anchor="middle" font-weight="bold" fill="#231f20" stroke="#231f20" stroke-width="0.14" >100</text>
<line x1="498.05" y1="220.90" x2="498.05" y2="222.40" stroke="#444" stroke-width="0.55"/>
<text x="498.05" y="228.30" font-size="5.30" text-anchor="middle" font-weight="bold" fill="#231f20" stroke="#231f20" stroke-width="0.14" >1,000</text>
<text x="465.50" y="237.30" font-size="6.40" text-anchor="middle" font-weight="normal" fill="#231f20" stroke="#231f20" stroke-width="0.24" >DTX (nmol/L)</text>
<text x="464.60" y="145.90" font-size="7.90" text-anchor="middle" font-weight="bold" fill="#000" stroke="#000" stroke-width="0.14" text-decoration="underline" textLength="29.40" lengthAdjust="spacingAndGlyphs">HCC827</text>
<path d="M430.00,156.60 C432.50,156.67 441.17,156.68 445.00,157.00 C448.83,157.32 450.83,157.67 453.00,158.50 C455.17,159.33 456.50,160.33 458.00,162.00 C459.50,163.67 460.83,166.17 462.00,168.50 C463.17,170.83 464.08,173.08 465.00,176.00 C465.92,178.92 466.67,182.83 467.50,186.00 C468.33,189.17 469.08,192.57 470.00,195.00 C470.92,197.43 471.83,199.38 473.00,200.60 C474.17,201.82 473.92,201.98 477.00,202.30 C480.08,202.62 489.08,202.47 491.50,202.50" fill="none" stroke="#111" stroke-width="1.60" stroke-linejoin="round"/>
<path d="M430.00,157.80 C431.67,157.88 437.00,157.85 440.00,158.30 C443.00,158.75 445.50,159.55 448.00,160.50 C450.50,161.45 452.83,162.25 455.00,164.00 C457.17,165.75 459.33,168.33 461.00,171.00 C462.67,173.67 463.83,176.83 465.00,180.00 C466.17,183.17 467.00,187.08 468.00,190.00 C469.00,192.92 469.83,195.53 471.00,197.50 C472.17,199.47 473.50,200.92 475.00,201.80 C476.50,202.68 477.25,202.60 480.00,202.80 C482.75,203.00 489.58,202.97 491.50,203.00" fill="none" stroke="#e0262f" stroke-width="1.60" stroke-linejoin="round"/>
<path d="M430.00,160.30 C432.00,160.45 438.67,160.75 442.00,161.20 C445.33,161.65 447.67,162.12 450.00,163.00 C452.33,163.88 454.33,165.25 456.00,166.50 C457.67,167.75 458.67,168.75 460.00,170.50 C461.33,172.25 462.83,175.08 464.00,177.00 C465.17,178.92 465.83,180.73 467.00,182.00 C468.17,183.27 469.50,184.05 471.00,184.60 C472.50,185.15 472.58,185.17 476.00,185.30 C479.42,185.43 488.92,185.38 491.50,185.40" fill="none" stroke="#2f55a4" stroke-width="1.60" stroke-linejoin="round"/>
<path d="M430.00,161.20 C432.00,161.33 438.67,161.53 442.00,162.00 C445.33,162.47 447.67,163.08 450.00,164.00 C452.33,164.92 454.33,166.42 456.00,167.50 C457.67,168.58 458.67,169.33 460.00,170.50 C461.33,171.67 462.83,173.50 464.00,174.50 C465.17,175.50 465.83,176.05 467.00,176.50 C468.17,176.95 466.92,177.07 471.00,177.20 C475.08,177.33 488.08,177.28 491.50,177.30" fill="none" stroke="#66bd48" stroke-width="1.60" stroke-linejoin="round"/>
<path d="M430.89,150.00 V160.00 M429.49,150.00 H432.29 M429.49,160.00 H432.29" stroke="#e0262f" stroke-width="0.6" fill="none"/>
<path d="M453.50,153.00 V159.00 M452.10,153.00 H454.90 M452.10,159.00 H454.90" stroke="#e0262f" stroke-width="0.6" fill="none"/>
<path d="M468.35,174.00 V179.50 M466.95,174.00 H469.75 M466.95,179.50 H469.75" stroke="#66bd48" stroke-width="0.6" fill="none"/>
<path d="M475.44,174.00 V179.50 M474.04,174.00 H476.84 M474.04,179.50 H476.84" stroke="#66bd48" stroke-width="0.6" fill="none"/>
<path d="M483.20,174.00 V179.50 M481.80,174.00 H484.60 M481.80,179.50 H484.60" stroke="#66bd48" stroke-width="0.6" fill="none"/>
<path d="M490.29,174.00 V179.50 M488.89,174.00 H491.69 M488.89,179.50 H491.69" stroke="#66bd48" stroke-width="0.6" fill="none"/>
<path d="M430.89,163.58 L428.97,159.90 L432.81,159.90 Z" fill="#66bd48"/>
<path d="M438.65,164.08 L436.73,160.40 L440.57,160.40 Z" fill="#66bd48"/>
<path d="M445.74,165.08 L443.82,161.40 L447.66,161.40 Z" fill="#66bd48"/>
<path d="M453.50,168.08 L451.58,164.40 L455.42,164.40 Z" fill="#66bd48"/>
<path d="M460.59,174.08 L458.67,170.40 L462.51,170.40 Z" fill="#66bd48"/>
<path d="M468.35,178.58 L466.43,174.90 L470.27,174.90 Z" fill="#66bd48"/>
<path d="M475.44,178.08 L473.52,174.40 L477.36,174.40 Z" fill="#66bd48"/>
<path d="M483.20,178.08 L481.28,174.40 L485.12,174.40 Z" fill="#66bd48"/>
<path d="M490.29,178.58 L488.37,174.90 L492.21,174.90 Z" fill="#66bd48"/>
<path d="M430.89,158.92 L428.97,162.60 L432.81,162.60 Z" fill="#2f55a4"/>
<path d="M438.65,159.42 L436.73,163.10 L440.57,163.10 Z" fill="#2f55a4"/>
<path d="M445.74,158.92 L443.82,162.60 L447.66,162.60 Z" fill="#2f55a4"/>
<path d="M453.50,164.92 L451.58,168.60 L455.42,168.60 Z" fill="#2f55a4"/>
<path d="M460.59,171.92 L458.67,175.60 L462.51,175.60 Z" fill="#2f55a4"/>
<path d="M468.35,179.42 L466.43,183.10 L470.27,183.10 Z" fill="#2f55a4"/>
<path d="M475.44,183.22 L473.52,186.90 L477.36,186.90 Z" fill="#2f55a4"/>
<path d="M483.20,185.42 L481.28,189.10 L485.12,189.10 Z" fill="#2f55a4"/>
<path d="M490.29,182.92 L488.37,186.60 L492.21,186.60 Z" fill="#2f55a4"/>
<rect x="429.29" y="152.40" width="3.20" height="3.20" fill="#e0262f"/>
<rect x="437.05" y="157.90" width="3.20" height="3.20" fill="#e0262f"/>
<rect x="444.14" y="158.90" width="3.20" height="3.20" fill="#e0262f"/>
<rect x="451.90" y="154.40" width="3.20" height="3.20" fill="#e0262f"/>
<rect x="458.99" y="170.40" width="3.20" height="3.20" fill="#e0262f"/>
<rect x="466.75" y="194.40" width="3.20" height="3.20" fill="#e0262f"/>
<rect x="473.84" y="201.90" width="3.20" height="3.20" fill="#e0262f"/>
<rect x="481.60" y="201.40" width="3.20" height="3.20" fill="#e0262f"/>
<rect x="488.69" y="202.40" width="3.20" height="3.20" fill="#e0262f"/>
<circle cx="430.89" cy="156.00" r="1.60" fill="#111"/>
<circle cx="438.65" cy="155.50" r="1.60" fill="#111"/>
<circle cx="445.74" cy="158.50" r="1.60" fill="#111"/>
<circle cx="453.50" cy="161.50" r="1.60" fill="#111"/>
<circle cx="460.59" cy="170.50" r="1.60" fill="#111"/>
<circle cx="468.35" cy="194.00" r="1.60" fill="#111"/>
<circle cx="475.44" cy="202.50" r="1.60" fill="#111"/>
<circle cx="483.20" cy="202.00" r="1.60" fill="#111"/>
<circle cx="490.29" cy="202.80" r="1.60" fill="#111"/>
<line x1="425.8" y1="200.10" x2="433.3" y2="200.10" stroke="#111" stroke-width="0.9"/>
<circle cx="429.60" cy="200.10" r="1.00" fill="#111"/>
<text x="436.10" y="201.85" font-size="4.90" text-anchor="start" font-weight="bold" fill="#231f20" stroke="#231f20" stroke-width="0.14"  textLength="10.20" lengthAdjust="spacingAndGlyphs">PAR</text>
<line x1="425.8" y1="204.80" x2="433.3" y2="204.80" stroke="#e0262f" stroke-width="0.9"/>
<rect x="428.60" y="203.80" width="2.00" height="2.00" fill="#e0262f"/>
<text x="436.10" y="206.55" font-size="4.90" text-anchor="start" font-weight="bold" fill="#231f20" stroke="#231f20" stroke-width="0.14"  textLength="25.00" lengthAdjust="spacingAndGlyphs">PAR + R428</text>
<line x1="425.8" y1="210.20" x2="433.3" y2="210.20" stroke="#2f55a4" stroke-width="0.9"/>
<path d="M429.60,208.90 L428.40,211.20 L430.80,211.20 Z" fill="#2f55a4"/>
<text x="436.10" y="211.95" font-size="4.90" text-anchor="start" font-weight="bold" fill="#231f20" stroke="#231f20" stroke-width="0.14"  textLength="11.80" lengthAdjust="spacingAndGlyphs">MES</text>
<line x1="425.8" y1="215.40" x2="433.3" y2="215.40" stroke="#66bd48" stroke-width="0.9"/>
<path d="M429.60,216.70 L428.40,214.40 L430.80,214.40 Z" fill="#66bd48"/>
<text x="436.10" y="217.15" font-size="4.90" text-anchor="start" font-weight="bold" fill="#231f20" stroke="#231f20" stroke-width="0.14"  textLength="26.60" lengthAdjust="spacingAndGlyphs">MES+ R428</text>
<line x1="331.30" y1="271.00" x2="331.30" y2="344.50" stroke="#444" stroke-width="0.55"/>
<line x1="331.30" y1="344.50" x2="405.30" y2="344.50" stroke="#444" stroke-width="0.55"/>
<line x1="329.80" y1="344.50" x2="331.30" y2="344.50" stroke="#444" stroke-width="0.55"/>
<text x="329.00" y="345.70" font-size="5.30" text-anchor="end" font-weight="bold" fill="#231f20" stroke="#231f20" stroke-width="0.14" >0</text>
<line x1="329.80" y1="332.25" x2="331.30" y2="332.25" stroke="#444" stroke-width="0.55"/>
<text x="329.00" y="333.45" font-size="5.30" text-anchor="end" font-weight="bold" fill="#231f20" stroke="#231f20" stroke-width="0.14" >20</text>
<line x1="329.80" y1="320.00" x2="331.30" y2="320.00" stroke="#444" stroke-width="0.55"/>
<text x="329.00" y="321.20" font-size="5.30" text-anchor="end" font-weight="bold" fill="#231f20" stroke="#231f20" stroke-width="0.14" >40</text>
<line x1="329.80" y1="307.75" x2="331.30" y2="307.75" stroke="#444" stroke-width="0.55"/>
<text x="329.00" y="308.95" font-size="5.30" text-anchor="end" font-weight="bold" fill="#231f20" stroke="#231f20" stroke-width="0.14" >60</text>
<line x1="329.80" y1="295.50" x2="331.30" y2="295.50" stroke="#444" stroke-width="0.55"/>
<text x="329.00" y="296.70" font-size="5.30" text-anchor="end" font-weight="bold" fill="#231f20" stroke="#231f20" stroke-width="0.14" >80</text>
<line x1="329.80" y1="283.25" x2="331.30" y2="283.25" stroke="#444" stroke-width="0.55"/>
<text x="329.00" y="284.45" font-size="5.30" text-anchor="end" font-weight="bold" fill="#231f20" stroke="#231f20" stroke-width="0.14" >100</text>
<line x1="329.80" y1="271.00" x2="331.30" y2="271.00" stroke="#444" stroke-width="0.55"/>
<text x="329.00" y="272.20" font-size="5.30" text-anchor="end" font-weight="bold" fill="#231f20" stroke="#231f20" stroke-width="0.14" >120</text>
<line x1="331.30" y1="344.50" x2="331.30" y2="346.00" stroke="#444" stroke-width="0.55"/>
<line x1="335.76" y1="344.50" x2="335.76" y2="345.40" stroke="#777" stroke-width="0.35"/>
<line x1="338.36" y1="344.50" x2="338.36" y2="345.40" stroke="#777" stroke-width="0.35"/>
<line x1="340.21" y1="344.50" x2="340.21" y2="345.40" stroke="#777" stroke-width="0.35"/>
<line x1="341.64" y1="344.50" x2="341.64" y2="345.40" stroke="#777" stroke-width="0.35"/>
<line x1="342.82" y1="344.50" x2="342.82" y2="345.40" stroke="#777" stroke-width="0.35"/>
<line x1="343.81" y1="344.50" x2="343.81" y2="345.40" stroke="#777" stroke-width="0.35"/>
<line x1="344.67" y1="344.50" x2="344.67" y2="345.40" stroke="#777" stroke-width="0.35"/>
<line x1="345.42" y1="344.50" x2="345.42" y2="345.40" stroke="#777" stroke-width="0.35"/>
<text x="331.30" y="351.90" font-size="5.30" text-anchor="middle" font-weight="bold" fill="#231f20" stroke="#231f20" stroke-width="0.14" >0.01</text>
<line x1="346.10" y1="344.50" x2="346.10" y2="346.00" stroke="#444" stroke-width="0.55"/>
<line x1="350.56" y1="344.50" x2="350.56" y2="345.40" stroke="#777" stroke-width="0.35"/>
<line x1="353.16" y1="344.50" x2="353.16" y2="345.40" stroke="#777" stroke-width="0.35"/>
<line x1="355.01" y1="344.50" x2="355.01" y2="345.40" stroke="#777" stroke-width="0.35"/>
<line x1="356.44" y1="344.50" x2="356.44" y2="345.40" stroke="#777" stroke-width="0.35"/>
<line x1="357.62" y1="344.50" x2="357.62" y2="345.40" stroke="#777" stroke-width="0.35"/>
<line x1="358.61" y1="344.50" x2="358.61" y2="345.40" stroke="#777" stroke-width="0.35"/>
<line x1="359.47" y1="344.50" x2="359.47" y2="345.40" stroke="#777" stroke-width="0.35"/>
<line x1="360.22" y1="344.50" x2="360.22" y2="345.40" stroke="#777" stroke-width="0.35"/>
<text x="346.10" y="351.90" font-size="5.30" text-anchor="middle" font-weight="bold" fill="#231f20" stroke="#231f20" stroke-width="0.14" >0.1</text>
<line x1="360.90" y1="344.50" x2="360.90" y2="346.00" stroke="#444" stroke-width="0.55"/>
<line x1="365.36" y1="344.50" x2="365.36" y2="345.40" stroke="#777" stroke-width="0.35"/>
<line x1="367.96" y1="344.50" x2="367.96" y2="345.40" stroke="#777" stroke-width="0.35"/>
<line x1="369.81" y1="344.50" x2="369.81" y2="345.40" stroke="#777" stroke-width="0.35"/>
<line x1="371.24" y1="344.50" x2="371.24" y2="345.40" stroke="#777" stroke-width="0.35"/>
<line x1="372.42" y1="344.50" x2="372.42" y2="345.40" stroke="#777" stroke-width="0.35"/>
<line x1="373.41" y1="344.50" x2="373.41" y2="345.40" stroke="#777" stroke-width="0.35"/>
<line x1="374.27" y1="344.50" x2="374.27" y2="345.40" stroke="#777" stroke-width="0.35"/>
<line x1="375.02" y1="344.50" x2="375.02" y2="345.40" stroke="#777" stroke-width="0.35"/>
<text x="360.90" y="351.90" font-size="5.30" text-anchor="middle" font-weight="bold" fill="#231f20" stroke="#231f20" stroke-width="0.14" >1</text>
<line x1="375.70" y1="344.50" x2="375.70" y2="346.00" stroke="#444" stroke-width="0.55"/>
<line x1="380.16" y1="344.50" x2="380.16" y2="345.40" stroke="#777" stroke-width="0.35"/>
<line x1="382.76" y1="344.50" x2="382.76" y2="345.40" stroke="#777" stroke-width="0.35"/>
<line x1="384.61" y1="344.50" x2="384.61" y2="345.40" stroke="#777" stroke-width="0.35"/>
<line x1="386.04" y1="344.50" x2="386.04" y2="345.40" stroke="#777" stroke-width="0.35"/>
<line x1="387.22" y1="344.50" x2="387.22" y2="345.40" stroke="#777" stroke-width="0.35"/>
<line x1="388.21" y1="344.50" x2="388.21" y2="345.40" stroke="#777" stroke-width="0.35"/>
<line x1="389.07" y1="344.50" x2="389.07" y2="345.40" stroke="#777" stroke-width="0.35"/>
<line x1="389.82" y1="344.50" x2="389.82" y2="345.40" stroke="#777" stroke-width="0.35"/>
<text x="375.70" y="351.90" font-size="5.30" text-anchor="middle" font-weight="bold" fill="#231f20" stroke="#231f20" stroke-width="0.14" >10</text>
<line x1="390.50" y1="344.50" x2="390.50" y2="346.00" stroke="#444" stroke-width="0.55"/>
<line x1="394.96" y1="344.50" x2="394.96" y2="345.40" stroke="#777" stroke-width="0.35"/>
<line x1="397.56" y1="344.50" x2="397.56" y2="345.40" stroke="#777" stroke-width="0.35"/>
<line x1="399.41" y1="344.50" x2="399.41" y2="345.40" stroke="#777" stroke-width="0.35"/>
<line x1="400.84" y1="344.50" x2="400.84" y2="345.40" stroke="#777" stroke-width="0.35"/>
<line x1="402.02" y1="344.50" x2="402.02" y2="345.40" stroke="#777" stroke-width="0.35"/>
<line x1="403.01" y1="344.50" x2="403.01" y2="345.40" stroke="#777" stroke-width="0.35"/>
<line x1="403.87" y1="344.50" x2="403.87" y2="345.40" stroke="#777" stroke-width="0.35"/>
<line x1="404.62" y1="344.50" x2="404.62" y2="345.40" stroke="#777" stroke-width="0.35"/>
<text x="390.50" y="351.90" font-size="5.30" text-anchor="middle" font-weight="bold" fill="#231f20" stroke="#231f20" stroke-width="0.14" >100</text>
<line x1="405.30" y1="344.50" x2="405.30" y2="346.00" stroke="#444" stroke-width="0.55"/>
<text x="405.30" y="351.90" font-size="5.30" text-anchor="middle" font-weight="bold" fill="#231f20" stroke="#231f20" stroke-width="0.14" >1,000</text>
<text x="367.00" y="360.80" font-size="6.40" text-anchor="middle" font-weight="normal" fill="#231f20" stroke="#231f20" stroke-width="0.24" >DTX (nmol/L)</text>
<text x="365.00" y="268.90" font-size="7.90" text-anchor="middle" font-weight="bold" fill="#000" stroke="#000" stroke-width="0.14" text-decoration="underline" textLength="33.00" lengthAdjust="spacingAndGlyphs">HCC4006</text>
<text transform="translate(316.00,307.00) rotate(-90)" font-size="6.9" font-weight="bold" text-anchor="middle" fill="#231f20" stroke="#231f20" stroke-width="0.12" textLength="41.5" lengthAdjust="spacingAndGlyphs">% Cell viability</text>
<path d="M337.00,282.70 C339.17,282.78 346.67,282.82 350.00,283.20 C353.33,283.58 354.83,284.12 357.00,285.00 C359.17,285.88 361.17,287.17 363.00,288.50 C364.83,289.83 366.50,291.33 368.00,293.00 C369.50,294.67 370.67,296.80 372.00,298.50 C373.33,300.20 374.67,301.98 376.00,303.20 C377.33,304.42 378.33,305.17 380.00,305.80 C381.67,306.43 383.00,306.75 386.00,307.00 C389.00,307.25 396.00,307.25 398.00,307.30" fill="none" stroke="#2f55a4" stroke-width="1.60" stroke-linejoin="round"/>
<path d="M337.00,285.00 C337.67,285.58 339.67,286.97 341.00,288.50 C342.33,290.03 343.50,291.78 345.00,294.20 C346.50,296.62 348.50,300.07 350.00,303.00 C351.50,305.93 352.83,309.05 354.00,311.80 C355.17,314.55 356.00,317.30 357.00,319.50 C358.00,321.70 358.67,323.50 360.00,325.00 C361.33,326.50 363.33,327.83 365.00,328.50 C366.67,329.17 364.50,328.92 370.00,329.00 C375.50,329.08 393.33,329.00 398.00,329.00" fill="none" stroke="#111" stroke-width="1.60" stroke-linejoin="round"/>
<path d="M337.00,284.00 C337.50,284.83 339.00,287.07 340.00,289.00 C341.00,290.93 341.83,293.02 343.00,295.60 C344.17,298.18 345.83,301.55 347.00,304.50 C348.17,307.45 349.00,310.47 350.00,313.30 C351.00,316.13 352.00,319.22 353.00,321.50 C354.00,323.78 354.83,325.62 356.00,327.00 C357.17,328.38 358.50,329.20 360.00,329.80 C361.50,330.40 358.67,330.43 365.00,330.60 C371.33,330.77 392.50,330.77 398.00,330.80" fill="none" stroke="#e0262f" stroke-width="1.60" stroke-linejoin="round"/>
<path d="M337.00,288.60 C337.67,289.25 339.67,290.77 341.00,292.50 C342.33,294.23 343.83,296.58 345.00,299.00 C346.17,301.42 347.08,304.50 348.00,307.00 C348.92,309.50 349.67,312.08 350.50,314.00 C351.33,315.92 352.08,317.53 353.00,318.50 C353.92,319.47 354.50,319.52 356.00,319.80 C357.50,320.08 355.00,320.12 362.00,320.20 C369.00,320.28 392.00,320.28 398.00,320.30" fill="none" stroke="#66bd48" stroke-width="1.60" stroke-linejoin="round"/>
<path d="M346.10,274.50 V282.50 M344.70,274.50 H347.50 M344.70,282.50 H347.50" stroke="#2f55a4" stroke-width="0.6" fill="none"/>
<path d="M353.16,272.50 V278.50 M351.76,272.50 H354.56 M351.76,278.50 H354.56" stroke="#2f55a4" stroke-width="0.6" fill="none"/>
<path d="M360.90,287.50 V296.00 M359.50,287.50 H362.30 M359.50,296.00 H362.30" stroke="#2f55a4" stroke-width="0.6" fill="none"/>
<path d="M397.56,300.00 V312.50 M396.16,300.00 H398.96 M396.16,312.50 H398.96" stroke="#2f55a4" stroke-width="0.6" fill="none"/>
<path d="M338.36,284.00 V297.00 M336.96,284.00 H339.76 M336.96,297.00 H339.76" stroke="#66bd48" stroke-width="0.6" fill="none"/>
<path d="M367.96,312.00 V320.00 M366.56,312.00 H369.36 M366.56,320.00 H369.36" stroke="#66bd48" stroke-width="0.6" fill="none"/>
<path d="M338.36,291.68 L336.44,288.00 L340.28,288.00 Z" fill="#66bd48"/>
<path d="M346.10,302.58 L344.18,298.90 L348.02,298.90 Z" fill="#66bd48"/>
<path d="M353.16,320.68 L351.24,317.00 L355.08,317.00 Z" fill="#66bd48"/>
<path d="M360.90,319.08 L358.98,315.40 L362.82,315.40 Z" fill="#66bd48"/>
<path d="M367.96,318.08 L366.04,314.40 L369.88,314.40 Z" fill="#66bd48"/>
<path d="M375.70,319.08 L373.78,315.40 L377.62,315.40 Z" fill="#66bd48"/>
<path d="M382.76,319.08 L380.84,315.40 L384.68,315.40 Z" fill="#66bd48"/>
<path d="M390.50,325.08 L388.58,321.40 L392.42,321.40 Z" fill="#66bd48"/>
<path d="M397.56,324.08 L395.64,320.40 L399.48,320.40 Z" fill="#66bd48"/>
<circle cx="338.36" cy="288.00" r="1.60" fill="#2f55a4"/>
<circle cx="346.10" cy="278.80" r="1.60" fill="#2f55a4"/>
<circle cx="353.16" cy="275.50" r="1.60" fill="#2f55a4"/>
<circle cx="360.90" cy="291.60" r="1.60" fill="#2f55a4"/>
<circle cx="367.96" cy="294.50" r="1.60" fill="#2f55a4"/>
<circle cx="375.70" cy="300.40" r="1.60" fill="#2f55a4"/>
<circle cx="382.76" cy="303.00" r="1.60" fill="#2f55a4"/>
<circle cx="390.50" cy="313.50" r="1.60" fill="#2f55a4"/>
<circle cx="397.56" cy="306.30" r="1.60" fill="#2f55a4"/>
<rect x="336.76" y="279.20" width="3.20" height="3.20" fill="#e0262f"/>
<rect x="344.50" y="303.70" width="3.20" height="3.20" fill="#e0262f"/>
<rect x="351.56" y="314.40" width="3.20" height="3.20" fill="#e0262f"/>
<rect x="359.30" y="322.40" width="3.20" height="3.20" fill="#e0262f"/>
<rect x="366.36" y="331.10" width="3.20" height="3.20" fill="#e0262f"/>
<rect x="374.10" y="332.40" width="3.20" height="3.20" fill="#e0262f"/>
<rect x="381.16" y="332.40" width="3.20" height="3.20" fill="#e0262f"/>
<rect x="388.90" y="332.40" width="3.20" height="3.20" fill="#e0262f"/>
<rect x="395.96" y="334.10" width="3.20" height="3.20" fill="#e0262f"/>
<circle cx="338.36" cy="289.20" r="1.60" fill="#111"/>
<circle cx="346.10" cy="303.30" r="1.60" fill="#111"/>
<circle cx="353.16" cy="310.20" r="1.60" fill="#111"/>
<circle cx="360.90" cy="316.00" r="1.60" fill="#111"/>
<circle cx="367.96" cy="328.80" r="1.60" fill="#111"/>
<circle cx="375.70" cy="330.50" r="1.60" fill="#111"/>
<circle cx="382.76" cy="332.00" r="1.60" fill="#111"/>
<circle cx="390.50" cy="333.70" r="1.60" fill="#111"/>
<circle cx="397.56" cy="333.70" r="1.60" fill="#111"/>
<line x1="426.40" y1="271.00" x2="426.40" y2="345.60" stroke="#444" stroke-width="0.55"/>
<line x1="426.40" y1="345.60" x2="501.15" y2="345.60" stroke="#444" stroke-width="0.55"/>
<line x1="424.90" y1="345.60" x2="426.40" y2="345.60" stroke="#444" stroke-width="0.55"/>
<text x="424.10" y="346.80" font-size="5.30" text-anchor="end" font-weight="bold" fill="#231f20" stroke="#231f20" stroke-width="0.14" >0</text>
<line x1="424.90" y1="333.17" x2="426.40" y2="333.17" stroke="#444" stroke-width="0.55"/>
<text x="424.10" y="334.37" font-size="5.30" text-anchor="end" font-weight="bold" fill="#231f20" stroke="#231f20" stroke-width="0.14" >20</text>
<line x1="424.90" y1="320.73" x2="426.40" y2="320.73" stroke="#444" stroke-width="0.55"/>
<text x="424.10" y="321.93" font-size="5.30" text-anchor="end" font-weight="bold" fill="#231f20" stroke="#231f20" stroke-width="0.14" >40</text>
<line x1="424.90" y1="308.30" x2="426.40" y2="308.30" stroke="#444" stroke-width="0.55"/>
<text x="424.10" y="309.50" font-size="5.30" text-anchor="end" font-weight="bold" fill="#231f20" stroke="#231f20" stroke-width="0.14" >60</text>
<line x1="424.90" y1="295.87" x2="426.40" y2="295.87" stroke="#444" stroke-width="0.55"/>
<text x="424.10" y="297.07" font-size="5.30" text-anchor="end" font-weight="bold" fill="#231f20" stroke="#231f20" stroke-width="0.14" >80</text>
<line x1="424.90" y1="283.43" x2="426.40" y2="283.43" stroke="#444" stroke-width="0.55"/>
<text x="424.10" y="284.63" font-size="5.30" text-anchor="end" font-weight="bold" fill="#231f20" stroke="#231f20" stroke-width="0.14" >100</text>
<line x1="424.90" y1="271.00" x2="426.40" y2="271.00" stroke="#444" stroke-width="0.55"/>
<text x="424.10" y="272.20" font-size="5.30" text-anchor="end" font-weight="bold" fill="#231f20" stroke="#231f20" stroke-width="0.14" >120</text>
<line x1="426.40" y1="345.60" x2="426.40" y2="347.10" stroke="#444" stroke-width="0.55"/>
<line x1="430.90" y1="345.60" x2="430.90" y2="346.50" stroke="#777" stroke-width="0.35"/>
<line x1="433.53" y1="345.60" x2="433.53" y2="346.50" stroke="#777" stroke-width="0.35"/>
<line x1="435.40" y1="345.60" x2="435.40" y2="346.50" stroke="#777" stroke-width="0.35"/>
<line x1="436.85" y1="345.60" x2="436.85" y2="346.50" stroke="#777" stroke-width="0.35"/>
<line x1="438.03" y1="345.60" x2="438.03" y2="346.50" stroke="#777" stroke-width="0.35"/>
<line x1="439.03" y1="345.60" x2="439.03" y2="346.50" stroke="#777" stroke-width="0.35"/>
<line x1="439.90" y1="345.60" x2="439.90" y2="346.50" stroke="#777" stroke-width="0.35"/>
<line x1="440.67" y1="345.60" x2="440.67" y2="346.50" stroke="#777" stroke-width="0.35"/>
<text x="426.40" y="353.00" font-size="5.30" text-anchor="middle" font-weight="bold" fill="#231f20" stroke="#231f20" stroke-width="0.14" >0.01</text>
<line x1="441.35" y1="345.60" x2="441.35" y2="347.10" stroke="#444" stroke-width="0.55"/>
<line x1="445.85" y1="345.60" x2="445.85" y2="346.50" stroke="#777" stroke-width="0.35"/>
<line x1="448.48" y1="345.60" x2="448.48" y2="346.50" stroke="#777" stroke-width="0.35"/>
<line x1="450.35" y1="345.60" x2="450.35" y2="346.50" stroke="#777" stroke-width="0.35"/>
<line x1="451.80" y1="345.60" x2="451.80" y2="346.50" stroke="#777" stroke-width="0.35"/>
<line x1="452.98" y1="345.60" x2="452.98" y2="346.50" stroke="#777" stroke-width="0.35"/>
<line x1="453.98" y1="345.60" x2="453.98" y2="346.50" stroke="#777" stroke-width="0.35"/>
<line x1="454.85" y1="345.60" x2="454.85" y2="346.50" stroke="#777" stroke-width="0.35"/>
<line x1="455.62" y1="345.60" x2="455.62" y2="346.50" stroke="#777" stroke-width="0.35"/>
<text x="441.35" y="353.00" font-size="5.30" text-anchor="middle" font-weight="bold" fill="#231f20" stroke="#231f20" stroke-width="0.14" >0.1</text>
<line x1="456.30" y1="345.60" x2="456.30" y2="347.10" stroke="#444" stroke-width="0.55"/>
<line x1="460.80" y1="345.60" x2="460.80" y2="346.50" stroke="#777" stroke-width="0.35"/>
<line x1="463.43" y1="345.60" x2="463.43" y2="346.50" stroke="#777" stroke-width="0.35"/>
<line x1="465.30" y1="345.60" x2="465.30" y2="346.50" stroke="#777" stroke-width="0.35"/>
<line x1="466.75" y1="345.60" x2="466.75" y2="346.50" stroke="#777" stroke-width="0.35"/>
<line x1="467.93" y1="345.60" x2="467.93" y2="346.50" stroke="#777" stroke-width="0.35"/>
<line x1="468.93" y1="345.60" x2="468.93" y2="346.50" stroke="#777" stroke-width="0.35"/>
<line x1="469.80" y1="345.60" x2="469.80" y2="346.50" stroke="#777" stroke-width="0.35"/>
<line x1="470.57" y1="345.60" x2="470.57" y2="346.50" stroke="#777" stroke-width="0.35"/>
<text x="456.30" y="353.00" font-size="5.30" text-anchor="middle" font-weight="bold" fill="#231f20" stroke="#231f20" stroke-width="0.14" >1</text>
<line x1="471.25" y1="345.60" x2="471.25" y2="347.10" stroke="#444" stroke-width="0.55"/>
<line x1="475.75" y1="345.60" x2="475.75" y2="346.50" stroke="#777" stroke-width="0.35"/>
<line x1="478.38" y1="345.60" x2="478.38" y2="346.50" stroke="#777" stroke-width="0.35"/>
<line x1="480.25" y1="345.60" x2="480.25" y2="346.50" stroke="#777" stroke-width="0.35"/>
<line x1="481.70" y1="345.60" x2="481.70" y2="346.50" stroke="#777" stroke-width="0.35"/>
<line x1="482.88" y1="345.60" x2="482.88" y2="346.50" stroke="#777" stroke-width="0.35"/>
<line x1="483.88" y1="345.60" x2="483.88" y2="346.50" stroke="#777" stroke-width="0.35"/>
<line x1="484.75" y1="345.60" x2="484.75" y2="346.50" stroke="#777" stroke-width="0.35"/>
<line x1="485.52" y1="345.60" x2="485.52" y2="346.50" stroke="#777" stroke-width="0.35"/>
<text x="471.25" y="353.00" font-size="5.30" text-anchor="middle" font-weight="bold" fill="#231f20" stroke="#231f20" stroke-width="0.14" >10</text>
<line x1="486.20" y1="345.60" x2="486.20" y2="347.10" stroke="#444" stroke-width="0.55"/>
<line x1="490.70" y1="345.60" x2="490.70" y2="346.50" stroke="#777" stroke-width="0.35"/>
<line x1="493.33" y1="345.60" x2="493.33" y2="346.50" stroke="#777" stroke-width="0.35"/>
<line x1="495.20" y1="345.60" x2="495.20" y2="346.50" stroke="#777" stroke-width="0.35"/>
<line x1="496.65" y1="345.60" x2="496.65" y2="346.50" stroke="#777" stroke-width="0.35"/>
<line x1="497.83" y1="345.60" x2="497.83" y2="346.50" stroke="#777" stroke-width="0.35"/>
<line x1="498.83" y1="345.60" x2="498.83" y2="346.50" stroke="#777" stroke-width="0.35"/>
<line x1="499.70" y1="345.60" x2="499.70" y2="346.50" stroke="#777" stroke-width="0.35"/>
<line x1="500.47" y1="345.60" x2="500.47" y2="346.50" stroke="#777" stroke-width="0.35"/>
<text x="486.20" y="353.00" font-size="5.30" text-anchor="middle" font-weight="bold" fill="#231f20" stroke="#231f20" stroke-width="0.14" >100</text>
<line x1="501.15" y1="345.60" x2="501.15" y2="347.10" stroke="#444" stroke-width="0.55"/>
<text x="501.15" y="353.00" font-size="5.30" text-anchor="middle" font-weight="bold" fill="#231f20" stroke="#231f20" stroke-width="0.14" >1,000</text>
<text x="465.10" y="360.80" font-size="6.40" text-anchor="middle" font-weight="normal" fill="#231f20" stroke="#231f20" stroke-width="0.24" >DTX (nmol/L)</text>
<text x="465.10" y="268.90" font-size="7.90" text-anchor="middle" font-weight="bold" fill="#000" stroke="#000" stroke-width="0.14" text-decoration="underline" textLength="29.40" lengthAdjust="spacingAndGlyphs">HCC827</text>
<path d="M432.00,289.00 C442.33,289.00 483.67,289.00 494.00,289.00" fill="none" stroke="#2f55a4" stroke-width="1.60" stroke-linejoin="round"/>
<path d="M432.00,283.30 C433.33,283.70 437.67,284.83 440.00,285.70 C442.33,286.57 444.33,287.52 446.00,288.50 C447.67,289.48 448.83,290.35 450.00,291.60 C451.17,292.85 452.00,294.35 453.00,296.00 C454.00,297.65 455.00,299.58 456.00,301.50 C457.00,303.42 458.00,305.58 459.00,307.50 C460.00,309.42 461.00,311.33 462.00,313.00 C463.00,314.67 464.00,316.17 465.00,317.50 C466.00,318.83 467.00,320.00 468.00,321.00 C469.00,322.00 469.83,322.87 471.00,323.50 C472.17,324.13 471.17,324.55 475.00,324.80 C478.83,325.05 490.83,324.97 494.00,325.00" fill="none" stroke="#111" stroke-width="1.60" stroke-linejoin="round"/>
<path d="M432.00,281.80 C433.33,282.03 437.67,282.50 440.00,283.20 C442.33,283.90 444.50,284.87 446.00,286.00 C447.50,287.13 448.08,288.33 449.00,290.00 C449.92,291.67 450.75,293.83 451.50,296.00 C452.25,298.17 452.83,300.67 453.50,303.00 C454.17,305.33 454.75,307.67 455.50,310.00 C456.25,312.33 457.08,315.00 458.00,317.00 C458.92,319.00 459.83,320.78 461.00,322.00 C462.17,323.22 463.50,323.80 465.00,324.30 C466.50,324.80 465.17,324.85 470.00,325.00 C474.83,325.15 490.00,325.17 494.00,325.20" fill="none" stroke="#e0262f" stroke-width="1.60" stroke-linejoin="round"/>
<path d="M432.00,293.00 C433.67,293.13 439.17,293.47 442.00,293.80 C444.83,294.13 447.00,294.38 449.00,295.00 C451.00,295.62 452.33,296.50 454.00,297.50 C455.67,298.50 457.50,299.75 459.00,301.00 C460.50,302.25 461.67,303.75 463.00,305.00 C464.33,306.25 465.67,307.58 467.00,308.50 C468.33,309.42 469.33,310.00 471.00,310.50 C472.67,311.00 473.17,311.28 477.00,311.50 C480.83,311.72 491.17,311.75 494.00,311.80" fill="none" stroke="#66bd48" stroke-width="1.60" stroke-linejoin="round"/>
<path d="M433.53,277.00 V287.00 M432.13,277.00 H434.93 M432.13,287.00 H434.93" stroke="#e0262f" stroke-width="0.6" fill="none"/>
<path d="M441.35,278.00 V287.00 M439.95,278.00 H442.75 M439.95,287.00 H442.75" stroke="#e0262f" stroke-width="0.6" fill="none"/>
<path d="M471.25,280.00 V294.00 M469.85,280.00 H472.65 M469.85,294.00 H472.65" stroke="#2f55a4" stroke-width="0.6" fill="none"/>
<path d="M486.20,283.00 V296.00 M484.80,283.00 H487.60 M484.80,296.00 H487.60" stroke="#2f55a4" stroke-width="0.6" fill="none"/>
<path d="M493.33,292.00 V305.00 M491.93,292.00 H494.73 M491.93,305.00 H494.73" stroke="#2f55a4" stroke-width="0.6" fill="none"/>
<path d="M441.35,291.00 V301.00 M439.95,291.00 H442.75 M439.95,301.00 H442.75" stroke="#66bd48" stroke-width="0.6" fill="none"/>
<path d="M463.43,300.00 V310.00 M462.03,300.00 H464.83 M462.03,310.00 H464.83" stroke="#66bd48" stroke-width="0.6" fill="none"/>
<path d="M433.53,294.58 L431.61,290.90 L435.45,290.90 Z" fill="#66bd48"/>
<path d="M441.35,297.58 L439.43,293.90 L443.27,293.90 Z" fill="#66bd48"/>
<path d="M448.48,297.58 L446.56,293.90 L450.40,293.90 Z" fill="#66bd48"/>
<path d="M456.30,298.08 L454.38,294.40 L458.22,294.40 Z" fill="#66bd48"/>
<path d="M463.43,307.38 L461.51,303.70 L465.35,303.70 Z" fill="#66bd48"/>
<path d="M471.25,310.28 L469.33,306.60 L473.17,306.60 Z" fill="#66bd48"/>
<path d="M478.38,313.28 L476.46,309.60 L480.30,309.60 Z" fill="#66bd48"/>
<path d="M486.20,314.28 L484.28,310.60 L488.12,310.60 Z" fill="#66bd48"/>
<path d="M493.33,316.08 L491.41,312.40 L495.25,312.40 Z" fill="#66bd48"/>
<circle cx="433.53" cy="289.50" r="1.60" fill="#2f55a4"/>
<circle cx="441.35" cy="289.50" r="1.60" fill="#2f55a4"/>
<circle cx="448.48" cy="289.00" r="1.60" fill="#2f55a4"/>
<circle cx="456.30" cy="290.00" r="1.60" fill="#2f55a4"/>
<circle cx="463.43" cy="292.00" r="1.60" fill="#2f55a4"/>
<circle cx="471.25" cy="286.70" r="1.60" fill="#2f55a4"/>
<circle cx="478.38" cy="283.30" r="1.60" fill="#2f55a4"/>
<circle cx="486.20" cy="289.60" r="1.60" fill="#2f55a4"/>
<circle cx="493.33" cy="299.40" r="1.60" fill="#2f55a4"/>
<rect x="431.93" y="279.20" width="3.20" height="3.20" fill="#e0262f"/>
<rect x="439.75" y="280.90" width="3.20" height="3.20" fill="#e0262f"/>
<rect x="446.88" y="287.00" width="3.20" height="3.20" fill="#e0262f"/>
<rect x="454.70" y="312.40" width="3.20" height="3.20" fill="#e0262f"/>
<rect x="461.83" y="319.40" width="3.20" height="3.20" fill="#e0262f"/>
<rect x="469.65" y="327.20" width="3.20" height="3.20" fill="#e0262f"/>
<rect x="476.78" y="317.40" width="3.20" height="3.20" fill="#e0262f"/>
<rect x="484.60" y="328.40" width="3.20" height="3.20" fill="#e0262f"/>
<rect x="491.73" y="332.10" width="3.20" height="3.20" fill="#e0262f"/>
<circle cx="433.53" cy="283.70" r="1.60" fill="#111"/>
<circle cx="441.35" cy="286.00" r="1.60" fill="#111"/>
<circle cx="448.48" cy="289.00" r="1.60" fill="#111"/>
<circle cx="456.30" cy="307.30" r="1.60" fill="#111"/>
<circle cx="463.43" cy="309.20" r="1.60" fill="#111"/>
<circle cx="471.25" cy="322.00" r="1.60" fill="#111"/>
<circle cx="478.38" cy="326.90" r="1.60" fill="#111"/>
<circle cx="486.20" cy="327.00" r="1.60" fill="#111"/>
<circle cx="493.33" cy="327.00" r="1.60" fill="#111"/>
<line x1="429.8" y1="325.50" x2="437.5" y2="325.50" stroke="#111" stroke-width="0.9"/>
<circle cx="433.60" cy="325.50" r="1.00" fill="#111"/>
<text x="440.40" y="327.15" font-size="4.70" text-anchor="start" font-weight="bold" fill="#231f20" stroke="#231f20" stroke-width="0.14"  textLength="10.10" lengthAdjust="spacingAndGlyphs">PAR</text>
<line x1="429.8" y1="331.00" x2="437.5" y2="331.00" stroke="#e0262f" stroke-width="0.9"/>
<rect x="432.60" y="330.00" width="2.00" height="2.00" fill="#e0262f"/>
<text x="440.40" y="332.65" font-size="4.70" text-anchor="start" font-weight="bold" fill="#231f20" stroke="#231f20" stroke-width="0.14"  textLength="27.40" lengthAdjust="spacingAndGlyphs">PAR + R428</text>
<line x1="429.8" y1="336.75" x2="437.5" y2="336.75" stroke="#2f55a4" stroke-width="0.9"/>
<circle cx="433.60" cy="336.75" r="1.00" fill="#2f55a4"/>
<text x="440.40" y="338.40" font-size="4.70" text-anchor="start" font-weight="bold" fill="#231f20" stroke="#231f20" stroke-width="0.14"  textLength="14.40" lengthAdjust="spacingAndGlyphs">ERL-R</text>
<line x1="429.8" y1="341.80" x2="437.5" y2="341.80" stroke="#66bd48" stroke-width="0.9"/>
<path d="M433.60,343.10 L432.40,340.80 L434.80,340.80 Z" fill="#66bd48"/>
<text x="440.40" y="343.45" font-size="4.70" text-anchor="start" font-weight="bold" fill="#231f20" stroke="#231f20" stroke-width="0.14"  textLength="30.80" lengthAdjust="spacingAndGlyphs">ERL-R + R428</text>
<rect x="0" y="0" width="520" height="1.0" fill="#8a8a8a"/>
<rect x="0" y="0" width="1.2" height="408" fill="#777"/>
<rect x="518.6" y="0" width="1.4" height="408" fill="#686868"/>
<rect x="0" y="406.6" width="520" height="1.4" fill="#707070"/>
</svg>
</body></html>
